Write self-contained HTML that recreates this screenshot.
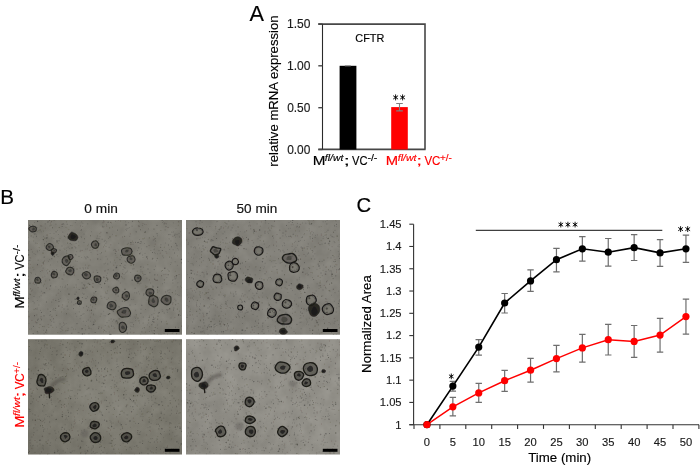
<!DOCTYPE html>
<html><head><meta charset="utf-8"><style>
html,body{margin:0;padding:0;background:#fff;width:700px;height:467px;overflow:hidden}
svg{display:block;filter:blur(0.3px)}
text{stroke-width:0.15px;stroke-linejoin:round}
</style></head><body>
<svg width="700" height="467" viewBox="0 0 700 467">
<rect width="700" height="467" fill="#fff"/>
<text x="249.60" y="21.20" font-size="21.5" font-family="Liberation Sans, sans-serif" fill="#000" stroke="#000" textLength="14.49" lengthAdjust="spacingAndGlyphs">A</text>
<text transform="translate(277.90,165.90) rotate(-90)" x="-0.76" y="0" font-size="13" font-family="Liberation Sans, sans-serif" fill="#000" stroke="#000" textLength="151.23" lengthAdjust="spacingAndGlyphs">relative mRNA expression</text>
<path d="M318.3,24.1 H425 V149.4 M318.3,149.4 H425.6" stroke="#474747" stroke-width="1.6" fill="none"/>
<path d="M322.5,24 V149.5" stroke="#2a2a2a" stroke-width="1.1" fill="none"/>
<path d="M318.3,24 H322.5" stroke="#474747" stroke-width="1.4"/>
<text x="286.95" y="28.10" font-size="12" font-family="Liberation Sans, sans-serif" fill="#1a1a1a" stroke="#1a1a1a" textLength="23.41" lengthAdjust="spacingAndGlyphs">1.50</text>
<path d="M318.3,65.8 H322.5" stroke="#474747" stroke-width="1.4"/>
<text x="286.95" y="69.90" font-size="12" font-family="Liberation Sans, sans-serif" fill="#1a1a1a" stroke="#1a1a1a" textLength="23.41" lengthAdjust="spacingAndGlyphs">1.00</text>
<path d="M318.3,107.7 H322.5" stroke="#474747" stroke-width="1.4"/>
<text x="287.20" y="111.80" font-size="12" font-family="Liberation Sans, sans-serif" fill="#1a1a1a" stroke="#1a1a1a" textLength="23.15" lengthAdjust="spacingAndGlyphs">0.50</text>
<path d="M318.3,149.5 H322.5" stroke="#474747" stroke-width="1.4"/>
<text x="287.20" y="153.60" font-size="12" font-family="Liberation Sans, sans-serif" fill="#1a1a1a" stroke="#1a1a1a" textLength="23.15" lengthAdjust="spacingAndGlyphs">0.00</text>
<rect x="339.6" y="65.8" width="16.8" height="83.7" fill="#000"/>
<rect x="391.2" y="107.1" width="16.6" height="42.4" fill="#ff0000"/>
<path d="M399.5,103.5 V110.9 M396.2,103.5 H402.8 M396.2,110.9 H402.8" stroke="#7f7f7f" stroke-width="1.1" fill="none"/>
<path d="M344.8,65.9 H350.8" stroke="#777" stroke-width="1"/>
<path d="M395.60,100.00 L395.60,94.80 M393.47,98.89 L397.73,95.91 M393.47,95.91 L397.73,98.89 " stroke="#000" stroke-width="0.9" stroke-linecap="round" fill="none"/><circle cx="395.6" cy="97.4" r="0.85" fill="#000"/>
<path d="M402.60,100.00 L402.60,94.80 M400.47,98.89 L404.73,95.91 M400.47,95.91 L404.73,98.89 " stroke="#000" stroke-width="0.9" stroke-linecap="round" fill="none"/><circle cx="402.6" cy="97.4" r="0.85" fill="#000"/>
<text x="355.33" y="42.00" font-size="11.5" font-family="Liberation Sans, sans-serif" fill="#000" stroke="#000" textLength="29.07" lengthAdjust="spacingAndGlyphs">CFTR</text>
<text x="312.79" y="164.60" font-size="12.6" font-family="Liberation Sans, sans-serif" fill="#000" stroke="#000" textLength="12.72" lengthAdjust="spacingAndGlyphs">M</text>
<text x="324.81" y="160.60" font-size="9" font-style="italic" font-family="Liberation Sans, sans-serif" fill="#000" stroke="#000" textLength="18.63" lengthAdjust="spacingAndGlyphs">fl/wt</text>
<text x="343.67" y="164.60" font-size="12.6" font-family="Liberation Sans, sans-serif" fill="#000" stroke="#000" textLength="6.07" lengthAdjust="spacingAndGlyphs">;</text>
<text x="352.00" y="164.60" font-size="12.6" font-family="Liberation Sans, sans-serif" fill="#000" stroke="#000" textLength="15.54" lengthAdjust="spacingAndGlyphs">VC</text>
<text x="367.41" y="160.50" font-size="9" font-family="Liberation Sans, sans-serif" fill="#000" stroke="#000" textLength="9.99" lengthAdjust="spacingAndGlyphs">-/-</text>
<text x="385.72" y="164.60" font-size="12.6" font-family="Liberation Sans, sans-serif" fill="#ff0000" stroke="#ff0000" textLength="12.35" lengthAdjust="spacingAndGlyphs">M</text>
<text x="397.71" y="160.60" font-size="9" font-style="italic" font-family="Liberation Sans, sans-serif" fill="#ff0000" stroke="#ff0000" textLength="18.82" lengthAdjust="spacingAndGlyphs">fl/wt</text>
<text x="416.47" y="164.60" font-size="12.6" font-family="Liberation Sans, sans-serif" fill="#ff0000" stroke="#ff0000" textLength="5.37" lengthAdjust="spacingAndGlyphs">;</text>
<text x="424.40" y="164.60" font-size="12.6" font-family="Liberation Sans, sans-serif" fill="#ff0000" stroke="#ff0000" textLength="16.06" lengthAdjust="spacingAndGlyphs">VC</text>
<text x="439.92" y="160.50" font-size="9" font-family="Liberation Sans, sans-serif" fill="#ff0000" stroke="#ff0000" textLength="11.87" lengthAdjust="spacingAndGlyphs">+/-</text>
<text x="0.17" y="204.00" font-size="20.3" font-family="Liberation Sans, sans-serif" fill="#000" stroke="#000" textLength="13.78" lengthAdjust="spacingAndGlyphs">B</text>
<text x="84.33" y="212.80" font-size="12" font-family="Liberation Sans, sans-serif" fill="#111" stroke="#111" textLength="33.45" lengthAdjust="spacingAndGlyphs">0 min</text>
<text x="236.53" y="212.80" font-size="12" font-family="Liberation Sans, sans-serif" fill="#111" stroke="#111" textLength="40.75" lengthAdjust="spacingAndGlyphs">50 min</text>
<text transform="translate(23.80,307.50) rotate(-90)" x="-1.20" y="0" font-size="12.6" font-family="Liberation Sans, sans-serif" fill="#000" stroke="#000" textLength="12.62" lengthAdjust="spacingAndGlyphs">M</text>
<text transform="translate(19.80,296.49) rotate(-90)" x="-0.29" y="0" font-size="9" font-style="italic" font-family="Liberation Sans, sans-serif" fill="#000" stroke="#000" textLength="18.48" lengthAdjust="spacingAndGlyphs">fl/wt</text>
<text transform="translate(23.80,276.35) rotate(-90)" x="-1.72" y="0" font-size="12.6" font-family="Liberation Sans, sans-serif" fill="#000" stroke="#000" textLength="6.02" lengthAdjust="spacingAndGlyphs">;</text>
<text transform="translate(23.80,269.80) rotate(-90)" x="-0.00" y="0" font-size="12.6" font-family="Liberation Sans, sans-serif" fill="#000" stroke="#000" textLength="15.42" lengthAdjust="spacingAndGlyphs">VC</text>
<text transform="translate(19.70,254.23) rotate(-90)" x="-0.29" y="0" font-size="9" font-family="Liberation Sans, sans-serif" fill="#000" stroke="#000" textLength="9.91" lengthAdjust="spacingAndGlyphs">-/-</text>
<text transform="translate(23.80,426.70) rotate(-90)" x="-1.17" y="0" font-size="12.6" font-family="Liberation Sans, sans-serif" fill="#ff0000" stroke="#ff0000" textLength="12.31" lengthAdjust="spacingAndGlyphs">M</text>
<text transform="translate(19.80,415.63) rotate(-90)" x="-0.29" y="0" font-size="9" font-style="italic" font-family="Liberation Sans, sans-serif" fill="#ff0000" stroke="#ff0000" textLength="18.77" lengthAdjust="spacingAndGlyphs">fl/wt</text>
<text transform="translate(23.80,395.70) rotate(-90)" x="-1.53" y="0" font-size="12.6" font-family="Liberation Sans, sans-serif" fill="#ff0000" stroke="#ff0000" textLength="5.35" lengthAdjust="spacingAndGlyphs">;</text>
<text transform="translate(23.80,389.32) rotate(-90)" x="-0.00" y="0" font-size="12.6" font-family="Liberation Sans, sans-serif" fill="#ff0000" stroke="#ff0000" textLength="16.01" lengthAdjust="spacingAndGlyphs">VC</text>
<text transform="translate(19.70,373.57) rotate(-90)" x="-0.27" y="0" font-size="9" font-family="Liberation Sans, sans-serif" fill="#ff0000" stroke="#ff0000" textLength="11.83" lengthAdjust="spacingAndGlyphs">+/-</text>
<defs><filter id="bl" x="-20%" y="-20%" width="140%" height="140%"><feGaussianBlur stdDeviation="0.55"/></filter><filter id="bl2" x="-50%" y="-50%" width="200%" height="200%"><feGaussianBlur stdDeviation="1.3"/></filter><filter id="mot" x="0" y="0" width="100%" height="100%" color-interpolation-filters="sRGB"><feTurbulence type="fractalNoise" baseFrequency="0.08" numOctaves="3" seed="9"/><feColorMatrix type="matrix" values="1.4 0 0 0 -0.2  1.4 0 0 0 -0.21  1.4 0 0 0 -0.25  0 0 0 0 0.06"/></filter></defs>
<defs><radialGradient id="vg0" cx="0.6" cy="0.45" r="0.75"><stop offset="0.5" stop-color="#2a2820" stop-opacity="0"/><stop offset="1" stop-color="#2a2820" stop-opacity="0.05"/></radialGradient><radialGradient id="vg1" cx="0.6" cy="0.4" r="0.75"><stop offset="0.5" stop-color="#2a2820" stop-opacity="0"/><stop offset="1" stop-color="#2a2820" stop-opacity="0.04"/></radialGradient><radialGradient id="vg2" cx="0.55" cy="0.45" r="0.7"><stop offset="0.3" stop-color="#fff" stop-opacity="0.05"/><stop offset="0.6" stop-color="#2a2820" stop-opacity="0"/><stop offset="1" stop-color="#2a2820" stop-opacity="0.12"/></radialGradient><linearGradient id="vg3" x1="0" y1="1" x2="1" y2="0"><stop offset="0" stop-color="#2a2820" stop-opacity="0.09"/><stop offset="0.5" stop-color="#2a2820" stop-opacity="0"/><stop offset="1" stop-color="#fff" stop-opacity="0.0"/></linearGradient></defs>
<rect x="28" y="220" width="154" height="114.69999999999999" fill="rgb(130, 128, 120)"/>
<g clip-path="url(#c0)">
<rect x="28" y="220" width="154" height="114.69999999999999" filter="url(#mot)"/>
<rect x="28" y="220" width="154" height="114.69999999999999" fill="url(#vg0)"/>
<g filter="url(#bl)">
<path d="M77.9 237.3h0 M128.2 228.3h0 M110.5 261.9h0 M36.9 278.2h0 M33.8 269.7h0 M38.8 230.4h0 M93.4 314.8h0 M47.1 245.6h0 M124.6 328.7h0 M116.9 265.5h0 M178.3 225.3h0 M160.2 253.2h0 M50.2 233.5h0 M75.5 313.6h0 M55.8 286.7h0 M126.4 262.7h0 M112.4 227.2h0 M37.2 243.6h0 M132.8 269.0h0 M76.4 287.2h0 M97.8 254.4h0 M150.3 300.2h0 M65.6 285.9h0 M108.9 320.4h0 M140.3 253.0h0 M178.9 233.5h0 M92.4 306.8h0 M51.4 276.1h0 M34.0 296.6h0 M145.7 285.7h0 M162.8 256.0h0 M135.1 288.2h0 M117.3 272.3h0 M157.4 328.4h0 M101.0 296.2h0 M37.3 300.5h0 M127.7 333.9h0 M154.6 252.6h0 M87.4 296.7h0 M31.5 273.0h0 M53.9 233.4h0 M37.1 308.1h0 M47.9 248.4h0 M88.2 320.0h0 M40.4 271.5h0 M112.6 321.3h0 M154.2 319.1h0 M70.9 267.6h0 M83.3 321.4h0 M175.5 237.3h0 M55.1 246.6h0 M63.9 275.6h0 M118.7 250.1h0 M28.6 268.1h0 M84.9 285.0h0 M174.8 299.2h0 M107.4 290.8h0 M132.1 226.2h0 M166.5 309.5h0 M162.7 311.5h0 M88.4 265.8h0 M43.9 292.8h0 M37.6 227.7h0 M60.1 238.6h0 M80.4 226.0h0 M28.0 237.4h0 M43.6 261.7h0 M31.9 320.3h0 M122.6 237.0h0 M66.8 259.8h0 M84.1 234.1h0 M158.7 333.9h0 M99.8 275.5h0 M41.2 231.7h0 M80.8 250.4h0 M155.6 238.5h0 M31.6 329.1h0 M109.4 236.8h0 M111.6 223.1h0 M109.3 332.2h0 M161.0 299.9h0 M68.2 262.1h0 M53.7 308.5h0 M110.0 309.4h0 M78.8 245.6h0 M153.0 333.0h0 M159.3 312.5h0 M154.0 304.9h0 M62.9 279.4h0 M82.8 223.3h0 M32.3 252.0h0 M67.9 299.4h0 M175.3 271.3h0 M172.3 333.3h0 M175.1 261.8h0 M62.0 246.0h0 M58.3 243.4h0 M124.1 323.3h0 M157.4 275.0h0 M128.6 311.7h0 M41.1 295.8h0 M168.1 309.7h0 M143.5 274.8h0 M55.5 310.5h0 M79.2 311.9h0 M177.6 265.4h0 M89.8 328.6h0 M139.6 239.5h0 M47.6 237.3h0 M167.3 312.5h0 M50.5 314.8h0 M179.0 295.4h0 M82.0 282.9h0 M48.2 221.6h0 M177.5 294.5h0 M109.1 327.1h0 M94.8 320.0h0 M155.2 244.2h0 M66.8 253.6h0 M65.0 287.3h0 M67.9 268.1h0 M48.2 324.4h0 M82.5 272.6h0 M117.8 323.7h0 M92.8 325.3h0 M105.3 281.0h0 M108.6 222.1h0 M95.8 241.0h0 M28.6 311.7h0 M54.5 274.3h0 M139.7 283.8h0 M78.2 279.5h0 M113.5 310.0h0 M44.3 284.3h0 M66.3 251.8h0 M146.9 278.2h0 M114.5 307.2h0 M168.5 270.8h0 M122.3 278.0h0 M106.9 299.5h0 M97.7 281.2h0 M101.6 328.0h0 M135.7 320.5h0 M173.1 249.8h0 M114.2 328.2h0 M157.4 235.7h0 M46.7 270.7h0 M39.2 247.6h0 M39.3 296.8h0 M148.7 322.9h0 M51.8 302.1h0 M129.7 236.4h0 M164.0 331.0h0 M61.8 329.3h0 M89.3 275.9h0 M180.4 315.5h0 M52.9 269.5h0 M107.4 258.9h0 M58.1 256.5h0 M139.2 222.2h0 M113.3 270.5h0 M30.8 258.0h0 M124.1 278.8h0 M37.9 333.0h0 M149.4 331.5h0 M44.1 250.5h0 M34.1 309.4h0 M69.6 234.9h0 M93.0 324.5h0 M154.1 249.7h0 M51.0 325.4h0 M115.9 300.3h0 M41.8 226.6h0 M134.0 268.8h0 M39.2 327.6h0 M125.7 311.9h0 M40.9 318.2h0 M38.3 319.0h0 M97.9 258.9h0 M113.2 326.3h0 M69.3 234.8h0 M109.1 247.3h0 M44.9 238.5h0 M35.8 243.1h0 M76.0 255.0h0 M145.0 253.3h0 M105.0 240.4h0 M81.4 222.1h0 M66.6 221.8h0 M140.9 283.2h0 M57.2 274.5h0 M171.9 232.2h0 M154.1 269.6h0 M104.2 315.7h0 M88.5 278.1h0 M133.9 332.7h0 M80.8 315.5h0 M136.8 292.9h0 M90.3 259.9h0 M36.4 234.9h0 M38.9 305.0h0 M67.4 238.7h0 M41.0 316.5h0 M162.1 296.9h0 M71.4 247.8h0 M73.1 272.7h0 M52.3 271.1h0 M68.5 330.3h0 M177.8 282.7h0 M65.6 330.8h0 M75.7 260.9h0 M28.2 263.8h0 M101.1 277.7h0 M59.0 277.9h0 M28.8 250.3h0 M41.8 265.8h0 M34.4 222.6h0 M74.9 246.7h0 M118.2 280.7h0 M143.6 295.4h0 M138.3 320.8h0 M88.0 257.4h0 M179.6 237.1h0 M139.5 293.8h0 M34.7 315.8h0 M165.4 292.0h0 M141.0 313.2h0 M49.5 280.1h0 M105.7 315.8h0 M151.9 314.8h0 M117.9 322.4h0 M133.2 299.5h0 M63.4 223.6h0 M48.5 261.4h0 M44.2 315.9h0 M114.0 292.0h0 M124.4 298.1h0 M103.4 220.4h0 M150.8 305.8h0 M105.5 281.4h0 M129.5 227.6h0 M141.5 248.9h0 M39.5 250.5h0 M140.3 243.5h0 M141.9 331.9h0 M104.1 263.9h0 M101.8 298.4h0 M146.1 290.8h0 M127.0 228.9h0 M50.7 249.1h0 M142.5 254.9h0 M115.4 221.4h0 M37.3 250.8h0 M131.5 299.4h0 M132.1 253.4h0 M107.5 273.3h0 M99.8 233.6h0 M165.6 242.9h0 M178.6 327.4h0 M30.7 272.6h0 M154.3 331.0h0 M97.2 250.8h0 M60.3 328.5h0 M60.4 286.7h0 M49.8 280.1h0 M174.7 235.2h0 M154.3 278.4h0 M164.6 300.7h0 M63.6 323.0h0 M102.9 222.8h0 M28.6 276.4h0 M97.4 254.6h0 M49.7 259.5h0 M76.7 316.4h0 M28.3 306.1h0 M157.2 233.8h0 M170.7 301.8h0 M166.8 253.2h0 M85.3 265.1h0 M181.8 287.6h0 M83.5 269.1h0 M70.4 225.5h0 M43.7 315.7h0 M72.0 327.3h0 M66.4 250.5h0 M106.7 241.8h0 M85.5 329.7h0 M164.2 313.1h0 M125.2 324.8h0 M172.9 283.0h0 M138.8 225.7h0 M140.8 271.7h0 M143.9 293.9h0 M72.1 225.6h0 M170.7 234.6h0 M100.7 259.4h0 M73.9 304.8h0 M178.3 249.8h0 M129.0 254.5h0 M113.8 265.2h0 M53.8 238.5h0 M60.0 323.9h0 M104.5 245.2h0 M167.6 334.3h0 M97.3 236.0h0 M57.6 230.4h0 M80.7 230.4h0 M64.8 249.6h0 M115.7 321.8h0 M143.4 267.3h0 M91.7 280.1h0 M86.0 258.8h0 M37.6 251.8h0 M177.0 234.4h0 M105.5 292.2h0 M160.9 244.8h0 M69.7 248.5h0 M89.6 271.1h0 M174.9 317.3h0 M162.4 222.5h0 M33.0 301.4h0 M165.9 274.3h0 M118.4 220.0h0 M88.3 326.3h0 M155.1 318.1h0 M177.7 248.5h0 M44.8 237.7h0 M108.4 298.2h0 M173.0 302.8h0 M127.7 307.7h0 M98.4 283.3h0 M34.1 309.7h0 M63.8 325.5h0 M127.4 254.8h0 M47.7 248.9h0 M126.0 300.1h0 M45.3 228.1h0 M108.8 286.9h0 M87.8 245.6h0 M120.6 221.2h0 M74.4 272.8h0 M175.7 293.9h0 M164.1 274.5h0 M64.2 248.3h0 M175.9 300.8h0 M75.3 222.5h0 M104.7 297.4h0 M92.7 249.5h0 M130.8 326.1h0 M62.9 223.9h0 M80.1 268.2h0 M133.1 242.7h0 M150.7 304.8h0 M105.8 243.5h0 M177.4 255.8h0 M154.3 246.5h0 M62.1 307.2h0 M73.4 329.2h0 M104.3 241.5h0 M62.4 267.8h0 M130.5 328.8h0 M50.5 265.1h0 M60.8 331.7h0 M49.9 225.9h0 M37.3 265.1h0 M166.3 321.3h0 M140.8 334.4h0 M171.5 257.8h0 M56.6 327.3h0 M142.9 223.7h0 M130.3 263.4h0 M85.6 258.0h0 M54.1 220.3h0 M71.1 260.3h0 M175.1 234.2h0 M176.5 243.8h0 M82.9 314.2h0 M154.6 269.6h0 M35.6 274.3h0 M85.4 325.5h0 M57.7 261.8h0 M166.1 223.5h0 M91.3 313.1h0 M146.1 224.7h0 M33.4 227.2h0 M169.7 249.5h0 M143.1 323.1h0 M80.2 251.2h0 M175.5 290.8h0 M68.4 302.2h0 M76.7 251.6h0 M28.6 306.7h0 M169.1 292.7h0 M173.3 222.8h0 M64.0 274.5h0 M175.3 329.4h0 M87.5 248.8h0 M94.2 276.6h0 M170.9 241.0h0 M151.6 304.7h0 M154.7 308.6h0 M121.5 257.6h0 M77.2 261.5h0 M148.5 229.1h0 M58.4 306.4h0 M66.1 227.4h0 M33.2 283.4h0 M78.2 332.4h0 M164.1 333.3h0 M68.8 229.6h0 M42.8 277.2h0 M137.3 271.3h0 M64.1 267.8h0 M123.5 297.3h0 M143.2 317.1h0 M130.3 233.9h0 M157.5 253.7h0 M115.3 262.8h0 M141.7 242.8h0 M66.1 248.1h0 M51.6 321.4h0 M117.1 257.4h0 M89.0 333.8h0 M106.1 246.5h0 M152.5 294.9h0 M180.6 231.7h0 M101.1 314.0h0 M157.4 324.9h0 M34.2 253.7h0 M46.4 241.7h0 M177.8 286.9h0 M171.2 262.7h0 M161.4 271.5h0 M68.0 309.2h0 M173.6 232.1h0 M119.8 291.1h0 M61.5 262.3h0 M49.8 243.4h0 M67.3 288.8h0 M128.4 243.3h0 M29.8 257.5h0 M132.5 241.2h0 M76.1 243.3h0 M150.5 282.9h0 M37.7 231.6h0 M88.9 283.1h0 M126.4 230.5h0 M53.2 299.8h0 M91.1 252.5h0 M75.4 329.3h0 M76.1 285.0h0 M83.0 267.8h0 M161.1 334.3h0 M84.0 242.6h0 M140.1 243.4h0 M28.9 323.4h0 M93.3 314.1h0 M90.6 321.3h0 M99.0 238.6h0 M30.3 283.3h0 M126.7 324.4h0 M41.7 291.4h0 M85.1 277.9h0 M50.5 252.5h0 M108.3 326.2h0 M44.8 276.3h0 M151.9 330.9h0 M58.4 234.5h0 M173.2 331.9h0 M102.3 226.1h0 M170.6 264.5h0 M167.3 291.2h0 M155.0 238.4h0 M149.0 245.5h0 M90.3 317.1h0 M155.7 241.0h0 M61.6 265.9h0 M107.8 264.0h0 M47.0 248.3h0 M139.6 322.9h0 M34.3 284.5h0 M144.6 224.4h0 M157.1 233.5h0 M120.3 283.1h0 M124.6 255.1h0 M92.7 286.8h0 M93.6 295.6h0 M96.8 270.3h0 M31.6 291.0h0 M103.4 247.0h0 M145.6 309.5h0 M98.6 240.6h0 M100.9 232.3h0 M47.8 269.4h0 M42.1 270.7h0 M106.6 224.7h0 M126.0 229.4h0 M141.0 309.2h0 M106.8 226.2h0 M105.6 263.3h0 M174.4 235.6h0 M160.0 334.3h0 M140.7 313.5h0 M57.8 332.6h0 M103.7 329.7h0 M169.1 238.9h0 M149.4 326.7h0 M38.1 260.2h0 M144.5 238.2h0 M166.1 251.5h0 M153.6 236.5h0 M105.3 325.5h0 M60.1 250.2h0 M105.9 256.6h0 M33.7 240.9h0 M52.8 327.4h0 M132.7 322.7h0 M54.0 310.0h0 M45.7 280.9h0 M126.0 261.3h0 M162.4 283.7h0 M117.3 321.2h0 M44.1 333.9h0 M125.0 265.2h0 M150.8 250.4h0 M180.5 286.2h0 M83.5 307.7h0 M96.1 240.3h0 M142.5 225.5h0 M154.3 249.1h0 M126.4 332.9h0 M118.2 296.1h0 M76.1 220.2h0 M33.2 237.1h0 M122.9 269.6h0 M107.0 322.7h0 M48.3 246.1h0 M128.6 222.6h0 M28.4 260.7h0 M44.4 261.0h0 M62.5 286.9h0 M118.7 243.4h0 M124.1 274.5h0 M48.8 327.4h0 M65.5 237.1h0 M42.8 293.2h0 M162.2 309.7h0 M89.9 250.3h0 M29.8 294.0h0 M114.6 260.2h0 M127.4 270.9h0 M172.3 304.1h0 M66.3 323.6h0 M34.8 281.0h0 M90.5 247.3h0 M37.0 309.3h0 M29.9 283.2h0 M172.9 236.3h0 M58.7 289.7h0 M106.1 293.6h0 M153.3 240.0h0 M75.6 254.4h0 M35.5 322.0h0 M148.6 302.1h0 M29.0 316.9h0 M142.8 273.4h0 M142.2 271.9h0 M62.8 232.1h0 M63.8 224.5h0 M79.7 306.0h0 M135.0 317.0h0 M137.6 250.5h0 M113.3 270.0h0 M149.4 280.0h0 M68.9 293.6h0 M176.6 244.9h0 M163.5 221.7h0 M68.1 247.1h0 M142.6 328.4h0 M142.9 257.5h0 M163.5 257.7h0 M64.8 324.1h0 M125.1 299.5h0 M130.4 332.3h0 M100.3 316.3h0 M135.4 318.4h0 M95.3 303.1h0 M115.8 255.3h0 M60.6 291.4h0 M40.0 324.5h0 M50.3 223.1h0 M44.4 326.6h0 M81.1 236.3h0 M32.4 224.8h0 M134.7 292.7h0 M135.3 304.5h0 M38.1 287.7h0 M84.0 313.8h0 M154.2 322.2h0 M38.2 319.5h0 M168.8 328.3h0 M44.5 243.6h0 M45.2 223.9h0 M158.5 313.1h0 M125.7 314.6h0 M125.3 253.0h0 M43.4 231.2h0 M144.6 243.5h0 M77.1 268.6h0 M31.2 249.4h0 M71.5 302.1h0 M84.7 256.8h0 M176.5 277.8h0 M159.1 290.9h0 M32.8 267.4h0 M95.2 308.7h0 M81.4 300.8h0 M110.8 244.8h0 M160.8 230.4h0 M154.3 239.5h0 M28.2 243.2h0 M145.4 332.2h0 M28.7 276.3h0 M103.7 311.4h0 M56.4 276.7h0 M81.5 315.4h0 M68.1 328.3h0 M71.7 244.6h0 M135.7 277.2h0 M44.9 293.0h0 M40.5 310.4h0 M135.4 310.3h0 M124.7 260.8h0 M89.8 265.3h0 M165.1 229.9h0 M164.8 222.9h0 M59.7 250.2h0 M166.8 277.5h0 M86.4 321.4h0 M64.0 272.9h0 M109.9 306.5h0 M144.0 294.1h0 M81.7 257.5h0 M51.9 316.7h0 M130.0 305.1h0 M54.1 270.3h0 M147.1 286.4h0 M47.4 273.0h0 M164.3 247.3h0 M57.5 254.6h0 M136.3 316.8h0 M51.8 237.9h0 M66.1 257.5h0 M108.4 238.5h0 M78.5 241.7h0 M178.2 303.6h0 M43.7 330.4h0 M43.7 264.1h0 M179.5 311.2h0 M140.9 269.9h0 M58.2 293.2h0 M44.5 243.7h0 M87.8 223.9h0 M89.4 310.7h0 M134.8 277.4h0 M125.4 273.1h0 M49.8 289.2h0 M90.3 305.0h0 M167.8 269.3h0 M116.4 305.9h0 M92.9 246.2h0 M139.2 320.9h0 M147.2 300.3h0 M159.3 297.9h0 M126.8 272.1h0 M76.2 292.1h0 M43.1 268.1h0 M148.5 301.8h0 M125.0 248.7h0 M93.2 272.2h0 M123.7 267.0h0 M132.0 326.7h0 M56.2 295.1h0 M147.8 264.6h0 M103.4 331.8h0 M33.9 282.3h0 M52.8 309.7h0 M172.9 279.6h0 M43.6 285.9h0 M111.3 302.3h0 M106.9 293.3h0 M155.7 279.8h0 M91.2 328.7h0 M60.4 298.5h0 M88.4 307.5h0 M46.8 332.9h0 M82.7 226.5h0 M70.3 265.8h0 M30.0 268.0h0 M92.8 300.1h0 M82.2 250.4h0 M62.6 305.0h0 M172.7 280.5h0 M61.7 311.9h0 M88.4 244.3h0 M47.9 309.1h0 M152.7 292.8h0 M100.3 284.5h0 M62.8 330.6h0 M82.4 293.3h0 M154.1 313.6h0 M100.1 253.8h0 M112.4 234.4h0 M156.4 260.7h0 M159.0 250.7h0 M85.9 249.1h0 M93.6 241.3h0 M28.4 302.8h0 M71.3 248.1h0 M74.5 275.0h0 M94.0 293.1h0 M129.5 261.6h0 M171.0 318.0h0 M36.8 315.0h0 M167.5 309.9h0 M49.6 315.4h0 M125.5 221.7h0 M29.8 329.2h0 M129.0 248.7h0 M43.6 236.4h0 M64.0 309.0h0 M81.4 237.5h0 M167.2 310.8h0 M53.9 322.2h0 M121.7 309.6h0 M130.9 322.5h0 M149.4 316.2h0 M58.4 299.5h0 M109.7 305.1h0 M95.5 321.2h0 M113.5 250.3h0 M64.1 236.0h0 M103.9 226.7h0 M99.9 236.6h0 M103.7 277.1h0 M111.1 319.0h0 M29.0 316.4h0 M100.1 284.5h0 M130.5 316.4h0 M85.7 268.0h0 M175.9 228.6h0 M126.1 293.0h0 M32.4 289.9h0 M133.1 326.8h0 M78.9 332.6h0 M106.6 275.6h0 M166.2 223.9h0 M138.6 291.7h0 M80.1 318.8h0 M84.4 274.4h0 M108.9 308.4h0 M60.5 269.9h0 M93.0 283.5h0 M155.3 253.6h0 M155.5 266.3h0 M105.6 251.2h0 M106.0 331.8h0 M128.8 310.8h0 M79.0 256.4h0 M74.1 287.3h0 M125.8 309.9h0 M34.2 302.9h0 M164.4 282.6h0 M35.7 254.5h0 M29.0 241.8h0 M169.9 289.8h0 M129.3 310.5h0 M168.1 290.2h0 M123.0 291.9h0 M135.2 288.4h0 M132.9 244.4h0 M130.7 272.5h0 M145.5 231.6h0 M55.9 224.2h0 M147.3 324.8h0 M129.0 262.3h0 M154.7 310.2h0 M114.6 249.6h0 M74.5 268.4h0 M77.0 269.4h0 M126.8 327.1h0 M36.4 285.1h0 M34.1 233.6h0 M152.8 286.0h0 M169.5 271.2h0 M30.2 264.4h0 M119.2 327.6h0 M179.0 274.5h0 M91.5 231.7h0 M127.3 244.3h0 " stroke="#2f2d29" stroke-width="0.7" stroke-linecap="round" opacity="0.32"/>
<path d="M51.4 221.8h0 M28.7 298.4h0 M46.7 330.8h0 M41.6 319.7h0 M47.9 222.0h0 M138.8 247.8h0 M141.0 241.5h0 M35.7 308.8h0 M137.9 318.1h0 M140.4 229.7h0 M124.8 301.3h0 M98.9 326.9h0 M67.1 330.6h0 M138.5 221.3h0 M30.3 294.6h0 M153.9 229.1h0 M75.9 303.7h0 M53.6 318.8h0 M102.9 226.9h0 M84.6 285.9h0 M95.6 297.6h0 M50.3 311.5h0 M83.9 294.0h0 M125.0 267.9h0 M87.4 310.2h0 M173.5 310.0h0 M115.3 253.5h0 M37.3 331.7h0 M136.3 314.9h0 M79.1 289.5h0 M178.5 315.3h0 M120.6 255.4h0 M94.0 321.9h0 M86.0 298.5h0 M120.7 322.8h0 M152.4 252.5h0 M28.3 250.2h0 M93.1 287.3h0 M153.7 321.8h0 M34.5 315.6h0 M153.0 319.5h0 M116.1 251.4h0 M159.1 312.6h0 M133.4 324.8h0 M81.4 229.8h0 M113.3 311.5h0 M58.9 306.0h0 M171.5 246.8h0 M121.5 297.7h0 M99.7 243.7h0 M67.2 306.2h0 M149.9 272.7h0 M41.5 312.5h0 M146.9 246.7h0 M117.3 322.9h0 M164.3 279.9h0 M101.4 287.6h0 M57.1 242.1h0 M55.8 300.4h0 M83.9 284.7h0 M90.0 279.3h0 M50.9 225.1h0 M181.6 262.9h0 M44.3 292.6h0 M149.3 237.9h0 M120.0 259.6h0 M108.0 222.4h0 M33.2 333.6h0 M161.4 275.8h0 M115.3 250.0h0 M148.0 268.9h0 M173.8 308.0h0 M154.1 330.5h0 M67.1 224.3h0 M59.0 240.7h0 M40.9 225.8h0 M113.8 319.9h0 M98.6 328.6h0 M168.1 227.4h0 M120.1 265.6h0 M46.5 330.0h0 M67.6 284.7h0 M126.7 329.7h0 M131.1 265.1h0 M97.0 238.3h0 M176.7 333.7h0 M62.1 224.4h0 M67.4 260.4h0 M167.0 323.8h0 M156.9 225.4h0 M149.1 301.4h0 M127.6 333.0h0 M36.6 236.6h0 M144.3 327.7h0 M132.2 254.3h0 M119.1 306.9h0 M44.2 257.2h0 M67.6 234.2h0 M102.1 239.3h0 M64.7 236.4h0 M132.4 221.4h0 M138.5 242.4h0 M33.5 326.4h0 M62.0 327.1h0 M161.5 321.9h0 M49.5 271.3h0 M42.9 326.5h0 M157.7 292.1h0 M97.7 259.0h0 M154.8 274.8h0 M124.7 236.4h0 M62.1 226.5h0 M137.9 283.5h0 M50.3 319.9h0 M69.0 267.2h0 M52.0 251.1h0 M157.3 258.4h0 M53.8 276.3h0 M77.0 323.6h0 M45.6 332.2h0 M36.8 322.7h0 M130.9 244.2h0 M101.5 252.8h0 M67.7 243.1h0 M84.1 333.7h0 M181.7 326.1h0 M43.0 253.2h0 M166.0 226.6h0 M139.9 253.7h0 M178.7 221.8h0 M152.3 259.1h0 M49.6 220.2h0 M156.2 280.4h0 M56.6 269.9h0 M168.4 245.0h0 M116.0 235.8h0 M55.7 308.4h0 M137.6 242.6h0 M40.2 230.0h0 M121.7 276.8h0 M70.2 243.6h0 M122.3 301.2h0 M153.0 286.9h0 M59.2 227.5h0 M140.8 266.8h0 M139.1 226.4h0 M152.8 258.4h0 M157.7 319.2h0 M103.9 221.8h0 M168.2 274.7h0 M162.3 250.5h0 M56.7 315.4h0 M84.5 238.8h0 M85.2 288.2h0 M28.7 279.6h0 M96.6 279.1h0 M46.6 302.0h0 M153.7 319.3h0 M77.4 301.6h0 M86.7 306.2h0 M37.4 320.1h0 M174.9 276.8h0 M107.1 280.8h0 M110.7 222.4h0 M177.0 245.7h0 M56.1 231.8h0 M66.6 313.7h0 M32.6 231.1h0 M135.6 242.4h0 M30.7 288.8h0 M116.8 280.0h0 M136.2 231.8h0 M161.9 302.3h0 M35.0 234.1h0 M104.0 277.4h0 M71.1 234.0h0 M90.5 235.7h0 M119.1 318.8h0 M50.7 285.7h0 M143.0 238.8h0 M155.2 327.5h0 M87.9 268.2h0 M157.3 280.3h0 M88.9 328.0h0 M147.6 258.8h0 M65.0 258.4h0 M95.1 332.5h0 M151.9 324.7h0 M153.5 317.2h0 M36.2 279.3h0 M175.5 327.2h0 M66.4 268.4h0 M125.4 261.8h0 M109.7 227.9h0 M94.7 277.9h0 M31.2 236.0h0 M177.3 309.1h0 M172.3 292.6h0 M152.6 321.4h0 M164.2 223.9h0 M126.8 250.5h0 M132.5 251.4h0 M111.5 326.0h0 M123.7 248.7h0 M108.1 269.7h0 M174.4 253.0h0 M75.0 294.3h0 M46.5 288.2h0 M175.2 278.9h0 M69.3 273.5h0 M110.2 237.0h0 M47.1 235.1h0 M73.2 266.6h0 M72.4 247.9h0 M41.5 282.7h0 M157.3 290.0h0 M115.8 294.6h0 M59.0 301.5h0 M99.0 282.9h0 M122.4 273.8h0 M75.8 247.8h0 M62.1 278.8h0 M87.0 287.2h0 M29.8 260.4h0 M160.7 247.4h0 M113.7 276.4h0 M71.9 333.3h0 M73.5 308.6h0 M52.4 227.7h0 M162.2 270.5h0 M37.6 264.5h0 M95.7 304.4h0 M44.8 245.8h0 M175.7 304.7h0 M51.8 258.7h0 M82.3 297.5h0 M122.9 317.5h0 M154.5 279.4h0 M141.8 305.3h0 M145.0 274.5h0 M148.9 301.3h0 M168.9 234.6h0 M162.1 220.5h0 M145.9 287.2h0 M104.7 330.4h0 M116.1 267.9h0 M148.7 320.1h0 M121.5 263.5h0 M97.7 272.5h0 M139.4 253.6h0 M88.2 283.7h0 M87.2 256.9h0 M149.2 317.4h0 M104.9 270.9h0 M56.4 254.9h0 M50.3 286.0h0 M117.6 230.1h0 M169.7 257.1h0 M157.9 316.1h0 M175.6 243.4h0 " stroke="#2f2d29" stroke-width="1.0" stroke-linecap="round" opacity="0.45"/>
<path d="M93.7 324.4h0 M29.6 225.4h0 M115.0 277.0h0 M169.7 308.7h0 M110.9 334.5h0 M107.7 279.3h0 M133.5 264.7h0 M83.1 288.2h0 M82.1 328.7h0 M132.2 280.2h0 M43.2 262.9h0 M89.7 284.4h0 M116.4 320.9h0 M176.5 275.8h0 M95.8 291.6h0 M181.4 259.4h0 M109.6 313.6h0 M54.3 256.5h0 M178.7 314.7h0 M106.9 232.7h0 M165.8 299.1h0 M154.4 333.6h0 M164.8 268.3h0 M52.1 253.3h0 M106.8 277.9h0 M57.0 240.9h0 M125.0 289.2h0 M82.4 334.0h0 M126.0 224.9h0 M91.4 310.3h0 M75.2 299.2h0 M28.6 254.9h0 M157.7 287.2h0 M130.9 242.6h0 M104.7 283.5h0 M69.0 294.2h0 M109.8 334.4h0 M116.5 267.2h0 M46.7 238.0h0 M145.0 232.2h0 M43.4 239.6h0 M108.5 314.4h0 M122.4 312.5h0 M37.6 221.4h0 M146.7 257.0h0 " stroke="#2f2d29" stroke-width="1.4" stroke-linecap="round" opacity="0.5"/>
<path d="M35.7,231.0 C35.2,231.4 34.4,231.7 33.7,231.8 C33.0,232.0 32.1,232.0 31.5,231.7 C30.9,231.5 30.3,231.0 29.9,230.5 C29.5,230.0 28.8,229.4 28.8,228.8 C28.8,228.2 29.4,227.5 30.0,227.1 C30.5,226.7 31.3,226.4 32.1,226.3 C32.8,226.1 33.7,226.1 34.4,226.4 C35.0,226.6 35.8,227.1 36.1,227.6 C36.4,228.1 36.4,228.8 36.3,229.3 C36.3,229.9 36.1,230.6 35.7,231.0 Z" fill="#34322d" fill-opacity="0.42" stroke="#1c1b18" stroke-opacity="0.8" stroke-width="1.1"/>
<path d="M34.3,230.2 C33.9,230.4 33.2,230.6 32.9,230.5 C32.5,230.4 32.2,229.9 32.1,229.6 C32.0,229.3 32.2,229.1 32.4,228.8 C32.5,228.4 32.7,227.7 33.0,227.6 C33.4,227.5 34.4,227.8 34.7,228.1 C35.0,228.3 34.9,228.9 34.8,229.3 C34.7,229.6 34.6,230.0 34.3,230.2 Z" fill="#151412" fill-opacity="0.4"/>
<path d="M76.2,240.5 C75.4,241.0 74.0,240.8 73.0,240.7 C72.0,240.6 70.9,240.6 70.0,240.1 C69.2,239.5 68.0,238.4 67.9,237.5 C67.8,236.6 68.7,235.5 69.3,234.6 C69.9,233.7 70.6,232.4 71.4,232.2 C72.3,231.9 73.7,232.8 74.6,233.3 C75.5,233.7 76.4,234.1 76.9,234.9 C77.4,235.6 78.0,236.8 77.9,237.7 C77.7,238.6 77.0,240.0 76.2,240.5 Z" fill="#1e1d1a" fill-opacity="0.9" stroke="#1e1d1a" stroke-opacity="0.5" stroke-width="0.9"/>
<path d="M74.4,238.4 C73.8,238.8 72.8,239.3 72.3,239.2 C71.7,239.1 71.1,238.1 70.9,237.5 C70.7,237.0 70.7,236.3 70.9,235.8 C71.2,235.3 71.7,234.7 72.3,234.5 C72.8,234.4 73.5,234.7 74.1,235.1 C74.7,235.4 75.8,236.0 75.9,236.5 C75.9,237.1 75.0,237.9 74.4,238.4 Z" fill="#141311" fill-opacity="0.6"/>
<path d="M53.4,248.1 C53.2,248.7 52.4,249.2 51.8,249.6 C51.2,250.0 50.5,250.5 49.8,250.5 C49.1,250.6 48.2,250.2 47.6,249.8 C47.0,249.4 46.4,248.8 46.2,248.2 C46.0,247.6 46.1,246.8 46.4,246.2 C46.6,245.6 47.0,245.1 47.6,244.6 C48.1,244.1 48.9,243.5 49.6,243.5 C50.3,243.4 51.2,244.0 51.8,244.4 C52.4,244.8 52.8,245.4 53.1,246.0 C53.4,246.6 53.6,247.5 53.4,248.1 Z" fill="#34322d" fill-opacity="0.42" stroke="#1c1b18" stroke-opacity="0.8" stroke-width="1.1"/>
<path d="M50.4,247.1 C50.4,247.4 50.4,248.1 50.1,248.3 C49.8,248.4 49.0,248.2 48.7,248.0 C48.4,247.8 48.2,247.4 48.1,247.1 C48.0,246.7 47.7,246.0 47.9,245.8 C48.2,245.6 48.9,245.7 49.3,245.8 C49.8,245.8 50.2,245.9 50.4,246.1 C50.6,246.3 50.5,246.7 50.4,247.1 Z" fill="#151412" fill-opacity="0.4"/>
<path d="M55.5,252.3 C55.2,252.6 54.7,252.9 54.2,253.0 C53.7,253.1 53.0,253.0 52.5,252.8 C52.1,252.6 51.5,252.2 51.4,251.8 C51.2,251.3 51.4,250.8 51.5,250.4 C51.7,250.0 51.9,249.5 52.2,249.2 C52.6,248.9 53.1,248.6 53.6,248.5 C54.1,248.5 54.7,248.7 55.2,248.9 C55.6,249.2 56.3,249.4 56.5,249.8 C56.7,250.2 56.5,250.8 56.3,251.2 C56.1,251.6 55.9,252.0 55.5,252.3 Z" fill="#34322d" fill-opacity="0.42" stroke="#1c1b18" stroke-opacity="0.8" stroke-width="1.1"/>
<path d="M55.5,251.0 C55.4,251.2 55.1,251.3 54.8,251.5 C54.5,251.6 54.1,251.8 53.9,251.7 C53.7,251.7 53.6,251.3 53.5,251.0 C53.4,250.7 53.2,250.3 53.4,250.1 C53.5,249.9 54.1,249.8 54.4,249.8 C54.8,249.9 55.1,250.1 55.2,250.3 C55.4,250.5 55.5,250.8 55.5,251.0 Z" fill="#151412" fill-opacity="0.4"/>
<path d="M54.2,254.1 C54.1,254.4 53.7,254.6 53.4,254.9 C53.2,255.2 52.8,255.7 52.5,255.6 C52.2,255.6 51.9,255.0 51.6,254.7 C51.4,254.4 51.1,254.1 51.0,253.8 C50.9,253.4 51.1,252.9 51.3,252.6 C51.5,252.3 51.9,252.1 52.2,252.0 C52.5,251.9 53.0,251.7 53.3,251.8 C53.6,251.9 53.8,252.5 54.0,252.8 C54.1,253.2 54.3,253.7 54.2,254.1 Z" fill="#1e1d1a" fill-opacity="0.9" stroke="#1e1d1a" stroke-opacity="0.5" stroke-width="0.9"/>
<path d="M53.5,254.0 C53.5,254.1 53.2,254.3 53.0,254.4 C52.8,254.5 52.6,254.5 52.4,254.4 C52.2,254.3 51.8,254.1 51.7,253.8 C51.7,253.6 52.0,253.3 52.2,253.0 C52.4,252.8 52.6,252.6 52.8,252.6 C53.0,252.6 53.2,253.0 53.3,253.2 C53.5,253.5 53.6,253.8 53.5,254.0 Z" fill="#141311" fill-opacity="0.6"/>
<path d="M98.1,246.6 C97.7,247.2 97.1,247.9 96.4,248.1 C95.7,248.4 94.8,248.4 94.1,248.1 C93.4,247.9 92.8,247.4 92.3,246.8 C91.9,246.3 91.4,245.5 91.4,244.8 C91.3,244.2 91.6,243.3 92.0,242.7 C92.4,242.1 93.0,241.7 93.7,241.3 C94.4,241.0 95.3,240.6 96.0,240.8 C96.7,240.9 97.3,241.7 97.8,242.3 C98.3,242.9 98.7,243.6 98.7,244.4 C98.8,245.1 98.5,245.9 98.1,246.6 Z" fill="#34322d" fill-opacity="0.42" stroke="#1c1b18" stroke-opacity="0.8" stroke-width="1.1"/>
<path d="M96.7,246.4 C96.4,246.6 95.6,246.3 95.2,246.1 C94.8,246.0 94.4,245.8 94.3,245.5 C94.1,245.3 94.3,244.8 94.5,244.4 C94.6,244.1 94.7,243.4 95.1,243.2 C95.4,243.1 96.3,243.3 96.6,243.5 C96.9,243.8 96.9,244.4 96.9,244.9 C97.0,245.4 97.0,246.2 96.7,246.4 Z" fill="#151412" fill-opacity="0.4"/>
<path d="M131.5,253.2 C131.1,253.9 130.2,254.7 129.3,255.1 C128.4,255.4 127.2,255.3 126.1,255.3 C125.0,255.2 123.6,255.2 122.9,254.7 C122.2,254.2 121.9,253.1 121.7,252.3 C121.5,251.5 121.3,250.5 121.7,249.9 C122.1,249.2 123.2,248.6 124.1,248.3 C125.0,247.9 126.0,247.8 127.1,247.8 C128.1,247.8 129.5,247.8 130.3,248.3 C131.1,248.7 131.7,249.8 131.9,250.6 C132.1,251.4 131.9,252.4 131.5,253.2 Z" fill="#34322d" fill-opacity="0.42" stroke="#1c1b18" stroke-opacity="0.8" stroke-width="1.1"/>
<path d="M128.6,251.0 C128.5,251.4 128.3,251.8 127.9,252.1 C127.5,252.3 126.8,252.5 126.4,252.4 C125.9,252.3 125.1,251.9 125.0,251.6 C124.8,251.2 125.2,250.7 125.5,250.4 C125.7,250.0 126.0,249.6 126.5,249.5 C127.0,249.4 128.1,249.3 128.4,249.6 C128.8,249.8 128.7,250.6 128.6,251.0 Z" fill="#151412" fill-opacity="0.4"/>
<path d="M135.0,260.1 C134.8,260.9 134.2,261.7 133.7,262.2 C133.1,262.7 132.3,263.3 131.5,263.3 C130.8,263.4 129.9,263.0 129.3,262.6 C128.6,262.2 128.0,261.7 127.6,261.0 C127.3,260.4 127.0,259.4 127.1,258.7 C127.3,258.0 127.9,257.2 128.5,256.7 C129.0,256.3 129.8,256.2 130.5,256.0 C131.3,255.9 132.2,255.6 132.9,255.8 C133.6,256.1 134.3,256.9 134.6,257.7 C135.0,258.4 135.2,259.4 135.0,260.1 Z" fill="#34322d" fill-opacity="0.42" stroke="#1c1b18" stroke-opacity="0.8" stroke-width="1.1"/>
<path d="M131.9,260.1 C131.5,260.3 130.9,260.1 130.5,260.0 C130.1,259.9 129.7,259.8 129.6,259.5 C129.4,259.2 129.5,258.8 129.6,258.4 C129.7,258.0 129.9,257.1 130.2,257.0 C130.6,256.9 131.1,257.5 131.5,257.8 C131.9,258.1 132.7,258.4 132.7,258.8 C132.8,259.2 132.2,259.9 131.9,260.1 Z" fill="#151412" fill-opacity="0.4"/>
<path d="M68.8,263.7 C68.2,264.4 67.6,265.4 67.0,265.6 C66.3,265.8 65.3,265.4 64.6,265.0 C63.9,264.6 63.1,264.0 62.7,263.1 C62.3,262.3 62.0,261.0 62.2,260.1 C62.3,259.2 63.0,258.2 63.5,257.6 C64.1,257.0 64.8,256.6 65.5,256.4 C66.3,256.1 67.3,255.6 67.9,256.0 C68.6,256.3 69.1,257.5 69.5,258.4 C69.9,259.3 70.4,260.4 70.3,261.3 C70.2,262.2 69.3,263.0 68.8,263.7 Z" fill="#34322d" fill-opacity="0.42" stroke="#1c1b18" stroke-opacity="0.8" stroke-width="1.1"/>
<path d="M67.6,262.6 C67.2,262.9 66.6,263.1 66.2,262.9 C65.8,262.8 65.6,262.2 65.4,261.7 C65.2,261.3 64.7,260.6 64.8,260.1 C64.9,259.7 65.6,259.3 66.0,259.1 C66.4,259.0 66.9,259.0 67.3,259.3 C67.8,259.6 68.4,260.3 68.4,260.8 C68.5,261.4 68.0,262.2 67.6,262.6 Z" fill="#151412" fill-opacity="0.4"/>
<path d="M73.1,257.3 C73.0,257.8 72.5,258.1 72.2,258.5 C71.8,258.9 71.5,259.3 71.1,259.5 C70.6,259.6 69.9,259.5 69.5,259.3 C69.1,259.1 68.8,258.5 68.6,258.1 C68.4,257.7 68.2,257.2 68.2,256.7 C68.2,256.2 68.4,255.6 68.7,255.2 C69.0,254.8 69.7,254.6 70.1,254.6 C70.6,254.5 71.2,254.6 71.6,254.8 C72.0,255.0 72.4,255.5 72.6,255.9 C72.8,256.3 73.2,256.9 73.1,257.3 Z" fill="#34322d" fill-opacity="0.42" stroke="#1c1b18" stroke-opacity="0.8" stroke-width="1.1"/>
<path d="M70.8,257.2 C70.7,257.4 70.5,257.6 70.3,257.7 C70.1,257.7 69.8,257.6 69.6,257.5 C69.4,257.3 69.0,257.1 68.9,256.9 C68.9,256.6 69.1,256.1 69.3,256.0 C69.6,255.8 70.0,255.9 70.2,256.0 C70.5,256.1 70.7,256.2 70.8,256.4 C70.9,256.6 70.9,257.0 70.8,257.2 Z" fill="#151412" fill-opacity="0.4"/>
<path d="M73.3,272.9 C73.0,273.6 72.4,274.5 71.7,274.8 C71.0,275.1 69.9,274.8 69.1,274.6 C68.4,274.4 67.7,274.0 67.1,273.5 C66.5,272.9 65.7,272.2 65.6,271.5 C65.6,270.8 66.2,269.9 66.7,269.3 C67.1,268.6 67.6,267.8 68.2,267.5 C68.9,267.2 69.9,267.3 70.7,267.4 C71.5,267.5 72.5,267.7 73.0,268.3 C73.6,268.8 73.9,269.8 73.9,270.6 C74.0,271.3 73.7,272.2 73.3,272.9 Z" fill="#34322d" fill-opacity="0.42" stroke="#1c1b18" stroke-opacity="0.8" stroke-width="1.1"/>
<path d="M71.6,271.6 C71.4,272.0 70.7,272.1 70.2,272.2 C69.7,272.2 69.0,272.1 68.7,271.8 C68.4,271.4 68.1,270.6 68.2,270.2 C68.4,269.8 69.2,269.6 69.6,269.5 C70.1,269.4 70.5,269.2 70.8,269.3 C71.2,269.5 71.6,269.9 71.7,270.3 C71.8,270.7 71.9,271.3 71.6,271.6 Z" fill="#151412" fill-opacity="0.4"/>
<path d="M57.3,275.3 C57.2,275.9 57.0,276.6 56.5,277.0 C56.1,277.4 55.4,277.7 54.7,277.8 C54.1,277.9 53.2,278.0 52.7,277.7 C52.1,277.4 51.6,276.6 51.4,276.0 C51.2,275.4 51.3,274.7 51.4,274.1 C51.6,273.5 51.8,272.8 52.3,272.3 C52.7,271.9 53.4,271.5 54.0,271.4 C54.7,271.4 55.5,271.6 56.0,271.9 C56.5,272.2 57.0,272.9 57.2,273.4 C57.4,274.0 57.5,274.7 57.3,275.3 Z" fill="#34322d" fill-opacity="0.42" stroke="#1c1b18" stroke-opacity="0.8" stroke-width="1.1"/>
<path d="M54.8,275.4 C54.5,275.6 54.0,275.2 53.6,275.1 C53.2,275.0 52.6,275.0 52.4,274.7 C52.2,274.3 52.1,273.5 52.4,273.2 C52.6,272.9 53.3,272.7 53.7,272.7 C54.1,272.7 54.4,273.1 54.6,273.3 C54.9,273.6 55.2,273.9 55.3,274.2 C55.3,274.6 55.0,275.3 54.8,275.4 Z" fill="#151412" fill-opacity="0.4"/>
<path d="M40.5,281.6 C40.2,282.1 39.9,282.8 39.4,283.0 C38.9,283.3 38.2,283.1 37.6,283.1 C37.0,283.0 36.1,283.1 35.7,282.8 C35.2,282.4 35.0,281.6 34.9,281.0 C34.8,280.4 34.9,279.7 35.1,279.1 C35.3,278.5 35.8,277.8 36.3,277.6 C36.8,277.3 37.7,277.2 38.3,277.3 C38.9,277.5 39.4,277.9 39.8,278.3 C40.2,278.7 40.6,279.3 40.7,279.9 C40.8,280.4 40.7,281.1 40.5,281.6 Z" fill="#34322d" fill-opacity="0.42" stroke="#1c1b18" stroke-opacity="0.8" stroke-width="1.1"/>
<path d="M38.6,280.9 C38.4,281.1 37.7,281.0 37.4,280.9 C37.0,280.8 36.8,280.6 36.6,280.4 C36.4,280.1 36.1,279.7 36.2,279.4 C36.2,279.1 36.6,278.6 36.9,278.4 C37.3,278.3 38.0,278.3 38.3,278.5 C38.5,278.7 38.4,279.3 38.5,279.7 C38.5,280.1 38.7,280.7 38.6,280.9 Z" fill="#151412" fill-opacity="0.4"/>
<path d="M89.4,277.9 C88.8,278.4 87.9,278.9 87.1,278.9 C86.3,279.0 85.3,278.7 84.6,278.3 C84.0,277.9 83.5,277.3 83.1,276.7 C82.7,276.1 82.1,275.3 82.2,274.6 C82.3,273.9 83.1,273.2 83.7,272.7 C84.3,272.3 85.0,271.9 85.8,271.7 C86.5,271.6 87.6,271.6 88.2,272.0 C88.9,272.3 89.5,273.0 89.9,273.6 C90.3,274.2 90.7,275.1 90.6,275.8 C90.5,276.5 90.0,277.4 89.4,277.9 Z" fill="#34322d" fill-opacity="0.42" stroke="#1c1b18" stroke-opacity="0.8" stroke-width="1.1"/>
<path d="M87.6,275.5 C87.4,275.9 86.8,276.4 86.3,276.4 C85.8,276.5 85.1,276.2 84.7,275.8 C84.4,275.5 84.0,274.9 84.0,274.4 C84.1,274.0 84.5,273.2 85.0,273.0 C85.4,272.8 86.2,273.0 86.6,273.2 C87.1,273.4 87.5,273.8 87.7,274.2 C87.8,274.5 87.8,275.1 87.6,275.5 Z" fill="#151412" fill-opacity="0.4"/>
<path d="M100.8,279.6 C100.7,280.3 100.5,281.2 100.0,281.6 C99.5,282.1 98.7,282.1 98.0,282.3 C97.3,282.4 96.4,282.6 95.8,282.3 C95.3,282.1 94.9,281.2 94.6,280.6 C94.3,280.0 94.0,279.3 94.1,278.6 C94.1,277.9 94.3,276.8 94.8,276.4 C95.3,276.0 96.3,275.9 97.0,275.9 C97.7,275.9 98.3,276.0 98.9,276.3 C99.5,276.5 100.3,277.0 100.6,277.5 C100.9,278.1 100.9,278.9 100.8,279.6 Z" fill="#34322d" fill-opacity="0.42" stroke="#1c1b18" stroke-opacity="0.8" stroke-width="1.1"/>
<path d="M98.9,279.4 C98.9,279.8 98.6,280.5 98.2,280.8 C97.9,281.0 97.1,281.2 96.7,281.0 C96.3,280.9 96.0,280.3 95.9,280.0 C95.7,279.6 95.8,279.2 96.0,278.8 C96.1,278.4 96.4,277.9 96.8,277.8 C97.1,277.7 97.7,277.9 98.1,278.2 C98.4,278.5 98.9,278.9 98.9,279.4 Z" fill="#151412" fill-opacity="0.4"/>
<path d="M119.3,277.1 C119.1,277.6 118.7,278.2 118.2,278.5 C117.7,278.8 117.0,279.0 116.4,279.0 C115.8,278.9 115.0,278.7 114.6,278.3 C114.1,277.9 113.6,277.2 113.5,276.6 C113.5,276.0 113.9,275.3 114.1,274.8 C114.4,274.2 114.8,273.7 115.3,273.4 C115.7,273.1 116.4,272.9 117.0,273.0 C117.6,273.0 118.3,273.3 118.7,273.6 C119.2,274.0 119.4,274.7 119.5,275.3 C119.6,275.9 119.6,276.6 119.3,277.1 Z" fill="#34322d" fill-opacity="0.42" stroke="#1c1b18" stroke-opacity="0.8" stroke-width="1.1"/>
<path d="M117.5,275.8 C117.4,276.2 117.2,276.8 116.9,276.9 C116.6,277.1 115.9,277.0 115.5,276.7 C115.2,276.5 114.9,276.0 114.8,275.6 C114.8,275.2 114.9,274.6 115.2,274.3 C115.5,274.0 116.1,273.7 116.5,273.8 C116.9,273.9 117.3,274.3 117.5,274.7 C117.6,275.0 117.6,275.4 117.5,275.8 Z" fill="#151412" fill-opacity="0.4"/>
<path d="M140.0,280.6 C139.5,281.0 139.0,281.7 138.3,281.8 C137.7,281.9 136.8,281.7 136.3,281.4 C135.7,281.0 135.3,280.4 135.0,279.8 C134.8,279.2 134.5,278.5 134.6,277.8 C134.7,277.1 134.9,276.2 135.4,275.8 C135.9,275.3 136.8,275.2 137.5,275.1 C138.2,275.1 139.0,275.1 139.5,275.4 C140.1,275.7 140.5,276.4 140.8,277.0 C141.0,277.6 141.2,278.4 141.0,279.0 C140.9,279.6 140.4,280.1 140.0,280.6 Z" fill="#34322d" fill-opacity="0.42" stroke="#1c1b18" stroke-opacity="0.8" stroke-width="1.1"/>
<path d="M139.9,278.1 C139.8,278.5 139.3,278.9 139.0,279.0 C138.7,279.1 138.3,278.9 137.9,278.8 C137.6,278.7 137.0,278.5 136.9,278.2 C136.8,277.9 137.1,277.4 137.3,277.1 C137.6,276.8 138.0,276.4 138.3,276.4 C138.6,276.4 139.1,276.7 139.4,277.0 C139.6,277.3 139.9,277.8 139.9,278.1 Z" fill="#151412" fill-opacity="0.4"/>
<path d="M118.6,291.7 C118.4,292.2 117.7,292.7 117.2,292.9 C116.6,293.1 116.0,293.0 115.4,292.9 C114.9,292.8 114.3,292.5 113.9,292.1 C113.5,291.7 112.9,291.1 112.8,290.5 C112.7,290.0 113.0,289.1 113.4,288.7 C113.7,288.2 114.3,287.9 114.9,287.7 C115.4,287.4 116.1,287.0 116.7,287.1 C117.2,287.2 117.8,287.8 118.1,288.3 C118.5,288.8 118.7,289.4 118.7,289.9 C118.8,290.5 118.9,291.2 118.6,291.7 Z" fill="#34322d" fill-opacity="0.42" stroke="#1c1b18" stroke-opacity="0.8" stroke-width="1.1"/>
<path d="M117.2,290.5 C117.1,290.7 116.6,290.9 116.2,290.9 C115.9,291.0 115.4,291.1 115.2,290.9 C115.0,290.7 115.1,290.2 115.1,289.9 C115.1,289.5 115.1,289.1 115.3,288.9 C115.5,288.7 116.1,288.5 116.4,288.6 C116.7,288.7 116.8,289.2 116.9,289.5 C117.0,289.8 117.3,290.3 117.2,290.5 Z" fill="#151412" fill-opacity="0.4"/>
<path d="M129.2,297.4 C129.0,298.1 128.5,298.8 128.0,299.3 C127.4,299.8 126.5,300.2 125.7,300.2 C125.0,300.1 124.2,299.5 123.6,298.9 C123.1,298.4 122.5,297.6 122.3,296.8 C122.2,296.0 122.2,294.9 122.5,294.2 C122.9,293.5 123.7,293.2 124.4,292.7 C125.0,292.3 125.8,291.5 126.5,291.5 C127.2,291.5 128.2,292.2 128.7,292.8 C129.1,293.4 129.3,294.3 129.4,295.1 C129.5,295.9 129.5,296.7 129.2,297.4 Z" fill="#34322d" fill-opacity="0.42" stroke="#1c1b18" stroke-opacity="0.8" stroke-width="1.1"/>
<path d="M128.5,296.1 C128.4,296.5 127.7,297.1 127.3,297.3 C126.8,297.5 126.1,297.8 125.8,297.6 C125.5,297.4 125.5,296.6 125.3,296.1 C125.2,295.6 124.8,294.9 125.0,294.6 C125.2,294.4 126.0,294.5 126.4,294.5 C126.8,294.6 127.1,294.6 127.5,294.8 C127.8,295.1 128.5,295.7 128.5,296.1 Z" fill="#151412" fill-opacity="0.4"/>
<path d="M153.4,293.9 C153.1,294.7 152.8,295.6 152.2,296.0 C151.6,296.3 150.6,296.3 149.8,296.3 C149.0,296.2 148.2,296.0 147.6,295.5 C146.9,295.1 146.2,294.4 146.0,293.7 C145.8,293.0 146.0,292.1 146.3,291.3 C146.6,290.6 147.0,289.7 147.7,289.3 C148.3,288.8 149.4,288.8 150.2,288.8 C151.1,288.9 152.1,289.1 152.7,289.5 C153.3,290.0 153.8,291.0 153.9,291.7 C154.0,292.5 153.7,293.2 153.4,293.9 Z" fill="#34322d" fill-opacity="0.42" stroke="#1c1b18" stroke-opacity="0.8" stroke-width="1.1"/>
<path d="M152.4,293.5 C152.3,293.8 151.7,294.2 151.2,294.4 C150.8,294.6 150.2,295.0 149.8,294.9 C149.3,294.7 148.9,294.1 148.7,293.6 C148.6,293.2 148.6,292.3 148.9,292.0 C149.1,291.8 150.0,291.9 150.4,291.9 C150.9,291.9 151.3,291.9 151.7,292.2 C152.0,292.4 152.5,293.1 152.4,293.5 Z" fill="#151412" fill-opacity="0.4"/>
<path d="M157.1,305.2 C156.4,306.1 155.2,306.8 154.2,306.9 C153.3,307.0 152.3,306.3 151.4,305.8 C150.5,305.3 149.4,304.8 148.9,303.9 C148.5,303.0 148.7,301.6 148.8,300.4 C148.9,299.3 149.1,298.0 149.6,297.1 C150.2,296.2 151.3,295.1 152.2,295.0 C153.1,294.8 154.1,295.6 155.0,296.1 C155.9,296.6 157.2,297.0 157.7,297.9 C158.2,298.8 158.2,300.4 158.1,301.7 C158.0,302.9 157.7,304.4 157.1,305.2 Z" fill="#34322d" fill-opacity="0.42" stroke="#1c1b18" stroke-opacity="0.8" stroke-width="1.1"/>
<path d="M155.1,301.9 C154.9,302.5 153.9,303.1 153.4,303.1 C152.9,303.2 152.3,302.5 151.9,302.1 C151.6,301.7 151.5,301.1 151.5,300.6 C151.5,300.1 151.6,299.6 151.9,299.2 C152.3,298.7 153.0,297.7 153.4,297.8 C153.8,297.9 154.1,299.1 154.4,299.8 C154.7,300.4 155.3,301.3 155.1,301.9 Z" fill="#151412" fill-opacity="0.4"/>
<path d="M170.6,302.4 C170.1,303.1 169.3,304.1 168.5,304.4 C167.6,304.8 166.3,304.6 165.3,304.4 C164.4,304.1 163.7,303.5 163.0,302.8 C162.3,302.1 161.3,301.3 161.1,300.5 C161.0,299.6 161.6,298.5 162.2,297.7 C162.8,296.9 163.6,296.2 164.5,295.8 C165.5,295.4 166.7,295.3 167.8,295.5 C168.8,295.7 170.1,296.2 170.7,296.9 C171.2,297.7 171.0,298.9 171.0,299.8 C171.0,300.7 171.0,301.6 170.6,302.4 Z" fill="#34322d" fill-opacity="0.42" stroke="#1c1b18" stroke-opacity="0.8" stroke-width="1.1"/>
<path d="M168.6,300.8 C168.3,301.3 167.3,301.9 166.7,301.9 C166.2,301.9 165.7,301.1 165.3,300.7 C165.0,300.3 164.7,300.1 164.6,299.6 C164.5,299.1 164.5,298.2 164.9,297.8 C165.2,297.5 166.4,297.5 166.9,297.7 C167.5,297.9 167.9,298.5 168.1,299.0 C168.4,299.5 168.8,300.3 168.6,300.8 Z" fill="#151412" fill-opacity="0.4"/>
<path d="M96.3,301.1 C96.0,301.6 95.7,302.4 95.2,302.7 C94.8,302.9 93.9,302.8 93.3,302.7 C92.7,302.6 91.9,302.5 91.5,302.1 C91.1,301.7 90.8,300.9 90.8,300.3 C90.7,299.7 91.1,299.1 91.4,298.5 C91.6,298.0 92.0,297.5 92.5,297.2 C93.0,297.0 93.7,297.0 94.3,297.0 C94.9,297.1 95.7,297.1 96.1,297.5 C96.5,297.9 96.8,298.7 96.8,299.3 C96.8,299.9 96.5,300.5 96.3,301.1 Z" fill="#34322d" fill-opacity="0.42" stroke="#1c1b18" stroke-opacity="0.8" stroke-width="1.1"/>
<path d="M94.4,299.8 C94.3,300.1 94.0,300.6 93.7,300.7 C93.4,300.7 92.9,300.6 92.6,300.4 C92.3,300.2 92.1,299.8 92.1,299.5 C92.1,299.2 92.4,299.0 92.6,298.8 C92.9,298.5 93.2,298.1 93.4,298.1 C93.7,298.1 94.1,298.5 94.2,298.8 C94.4,299.1 94.5,299.5 94.4,299.8 Z" fill="#151412" fill-opacity="0.4"/>
<path d="M81.3,302.6 C81.3,303.1 81.3,303.6 81.0,303.9 C80.8,304.2 80.2,304.3 79.8,304.3 C79.4,304.4 79.1,304.4 78.7,304.4 C78.3,304.3 77.8,304.1 77.6,303.8 C77.4,303.5 77.4,302.9 77.4,302.6 C77.4,302.2 77.6,301.8 77.8,301.4 C78.0,301.1 78.4,300.8 78.7,300.7 C79.1,300.6 79.6,300.7 79.9,300.8 C80.3,300.9 80.7,301.1 81.0,301.4 C81.2,301.7 81.3,302.2 81.3,302.6 Z" fill="#34322d" fill-opacity="0.42" stroke="#1c1b18" stroke-opacity="0.8" stroke-width="1.1"/>
<path d="M79.7,303.7 C79.5,303.8 79.3,304.0 79.1,304.0 C78.9,303.9 78.5,303.7 78.4,303.5 C78.3,303.3 78.3,302.8 78.5,302.6 C78.6,302.4 79.0,302.2 79.2,302.2 C79.5,302.2 79.8,302.3 80.0,302.5 C80.1,302.7 80.3,303.0 80.2,303.2 C80.2,303.4 79.9,303.5 79.7,303.7 Z" fill="#151412" fill-opacity="0.4"/>
<path d="M79.1,298.8 C79.0,299.1 78.9,299.5 78.7,299.7 C78.5,299.8 78.0,299.9 77.7,299.8 C77.4,299.8 77.0,299.6 76.8,299.4 C76.6,299.1 76.6,298.7 76.6,298.4 C76.7,298.1 76.9,297.8 77.1,297.6 C77.3,297.4 77.5,297.1 77.8,297.0 C78.0,296.9 78.5,297.0 78.7,297.2 C79.0,297.3 79.2,297.7 79.2,298.0 C79.3,298.2 79.2,298.5 79.1,298.8 Z" fill="#1e1d1a" fill-opacity="0.9" stroke="#1e1d1a" stroke-opacity="0.5" stroke-width="0.9"/>
<path d="M78.7,298.6 C78.6,298.7 78.4,298.8 78.2,298.8 C78.0,298.8 77.8,298.8 77.7,298.7 C77.6,298.6 77.5,298.4 77.5,298.2 C77.5,298.0 77.5,297.6 77.7,297.5 C77.8,297.4 78.2,297.5 78.4,297.6 C78.5,297.7 78.7,297.9 78.8,298.0 C78.8,298.2 78.8,298.5 78.7,298.6 Z" fill="#141311" fill-opacity="0.6"/>
<path d="M115.9,306.8 C115.8,307.6 115.2,308.5 114.6,309.0 C114.0,309.5 112.9,309.8 112.1,309.8 C111.3,309.8 110.4,309.5 109.7,309.1 C108.9,308.7 107.7,308.3 107.3,307.5 C107.0,306.8 107.2,305.6 107.5,304.8 C107.7,303.9 108.3,303.1 108.9,302.5 C109.6,302.0 110.6,301.5 111.5,301.5 C112.3,301.4 113.4,301.8 114.1,302.3 C114.8,302.8 115.4,303.5 115.7,304.3 C116.0,305.0 116.1,306.0 115.9,306.8 Z" fill="#34322d" fill-opacity="0.42" stroke="#1c1b18" stroke-opacity="0.8" stroke-width="1.1"/>
<path d="M113.3,306.2 C113.2,306.6 112.5,307.1 112.0,307.3 C111.4,307.5 110.5,307.8 110.1,307.5 C109.7,307.3 109.7,306.4 109.6,305.8 C109.5,305.2 109.2,304.4 109.6,304.0 C109.9,303.7 111.0,303.5 111.4,303.7 C111.9,303.8 112.1,304.4 112.5,304.8 C112.8,305.2 113.4,305.8 113.3,306.2 Z" fill="#151412" fill-opacity="0.4"/>
<path d="M130.6,313.3 C130.5,314.2 130.0,315.6 129.0,316.2 C128.1,316.8 126.3,316.9 125.0,317.0 C123.6,317.1 122.0,317.3 120.9,316.9 C119.8,316.4 118.9,315.4 118.3,314.5 C117.7,313.6 117.0,312.4 117.2,311.5 C117.5,310.6 119.0,309.9 120.0,309.2 C121.0,308.6 122.0,307.9 123.2,307.7 C124.5,307.4 126.3,307.4 127.4,307.8 C128.5,308.3 129.2,309.5 129.7,310.4 C130.2,311.3 130.7,312.3 130.6,313.3 Z" fill="#34322d" fill-opacity="0.42" stroke="#1c1b18" stroke-opacity="0.8" stroke-width="1.1"/>
<path d="M126.1,312.1 C126.0,312.7 125.8,313.6 125.3,313.8 C124.8,314.0 123.6,313.6 122.9,313.4 C122.3,313.1 121.5,312.8 121.3,312.4 C121.2,311.9 121.6,311.3 122.0,310.9 C122.4,310.4 122.9,309.8 123.6,309.7 C124.4,309.6 125.9,309.8 126.3,310.2 C126.7,310.6 126.3,311.5 126.1,312.1 Z" fill="#151412" fill-opacity="0.4"/>
<path d="M125.9,329.9 C125.5,330.7 124.9,331.6 124.1,332.0 C123.4,332.4 122.2,332.5 121.5,332.2 C120.7,331.8 119.9,330.8 119.6,330.0 C119.2,329.2 119.2,328.1 119.2,327.1 C119.2,326.1 119.1,324.9 119.5,324.1 C119.9,323.3 120.9,322.5 121.7,322.3 C122.4,322.0 123.5,322.4 124.2,322.8 C124.9,323.2 125.5,323.9 125.9,324.7 C126.4,325.4 126.7,326.4 126.6,327.3 C126.6,328.2 126.3,329.1 125.9,329.9 Z" fill="#34322d" fill-opacity="0.42" stroke="#1c1b18" stroke-opacity="0.8" stroke-width="1.1"/>
<path d="M124.6,329.2 C124.3,329.5 123.5,329.4 123.0,329.3 C122.5,329.3 122.1,329.2 121.8,328.8 C121.5,328.5 121.0,327.7 121.0,327.2 C121.1,326.7 121.7,325.9 122.1,325.7 C122.5,325.5 123.1,325.7 123.6,325.9 C124.0,326.1 124.6,326.5 124.7,327.1 C124.9,327.6 124.9,328.8 124.6,329.2 Z" fill="#151412" fill-opacity="0.4"/>
</g>
<rect x="164.8" y="329.0" width="14.7" height="3" fill="#000"/>
</g>
<rect x="186" y="220" width="154" height="114.69999999999999" fill="rgb(132, 130, 123)"/>
<g clip-path="url(#c1)">
<rect x="186" y="220" width="154" height="114.69999999999999" filter="url(#mot)"/>
<rect x="186" y="220" width="154" height="114.69999999999999" fill="url(#vg1)"/>
<g filter="url(#bl)">
<path d="M238.0 226.6h0 M249.8 225.2h0 M282.5 258.4h0 M262.1 288.6h0 M225.6 273.1h0 M188.1 326.1h0 M272.9 333.3h0 M194.6 290.4h0 M297.5 257.8h0 M200.4 237.9h0 M208.0 308.0h0 M199.8 313.4h0 M251.2 281.8h0 M276.6 283.7h0 M287.2 289.0h0 M236.9 305.0h0 M225.7 301.6h0 M303.5 309.0h0 M233.6 308.6h0 M336.5 272.0h0 M228.9 280.0h0 M330.9 235.1h0 M187.4 274.6h0 M286.9 308.8h0 M241.8 333.5h0 M221.1 306.8h0 M199.8 223.2h0 M206.7 226.9h0 M263.3 283.7h0 M214.0 327.8h0 M242.3 237.1h0 M213.3 304.6h0 M327.9 238.6h0 M190.5 309.2h0 M223.4 332.7h0 M262.8 293.0h0 M239.0 311.8h0 M256.9 257.1h0 M325.1 232.4h0 M298.9 227.5h0 M285.4 266.1h0 M319.1 226.9h0 M272.9 267.0h0 M327.5 328.4h0 M282.6 245.7h0 M224.8 250.1h0 M252.8 246.5h0 M217.3 307.1h0 M285.0 254.2h0 M339.1 244.8h0 M273.7 238.0h0 M318.9 319.7h0 M227.2 306.2h0 M312.7 252.4h0 M237.1 275.7h0 M323.2 238.5h0 M291.1 288.5h0 M255.8 286.4h0 M322.0 244.1h0 M322.1 261.3h0 M306.1 319.0h0 M214.1 319.1h0 M339.2 254.1h0 M189.8 232.8h0 M336.0 221.1h0 M326.4 237.3h0 M299.3 231.2h0 M212.0 298.3h0 M199.9 258.9h0 M327.4 302.2h0 M321.8 332.4h0 M191.1 246.9h0 M308.0 299.1h0 M191.8 277.9h0 M221.7 269.4h0 M202.1 222.3h0 M338.6 256.3h0 M321.3 233.8h0 M261.1 235.6h0 M252.0 240.5h0 M291.6 237.0h0 M299.7 277.4h0 M203.3 260.6h0 M262.4 325.4h0 M239.8 244.7h0 M335.0 321.3h0 M298.6 251.3h0 M213.3 250.4h0 M196.6 225.0h0 M264.3 266.8h0 M271.7 261.6h0 M187.6 298.9h0 M286.6 282.4h0 M270.5 299.2h0 M337.3 320.3h0 M296.5 265.8h0 M235.0 268.1h0 M335.8 264.4h0 M245.4 267.0h0 M208.0 334.5h0 M186.8 289.7h0 M328.6 249.2h0 M280.1 263.2h0 M223.1 242.8h0 M203.9 316.7h0 M306.7 324.2h0 M193.6 299.6h0 M236.0 294.1h0 M270.5 256.2h0 M335.6 220.1h0 M300.9 317.9h0 M264.6 287.9h0 M339.2 246.9h0 M282.9 305.3h0 M244.3 301.7h0 M246.6 280.4h0 M280.4 297.7h0 M235.6 292.1h0 M269.6 245.6h0 M280.3 250.4h0 M325.9 274.3h0 M297.1 279.9h0 M259.4 245.4h0 M207.9 326.4h0 M267.4 280.1h0 M267.2 313.3h0 M222.8 239.8h0 M312.6 272.8h0 M284.6 314.9h0 M323.7 319.5h0 M192.7 263.7h0 M314.1 313.8h0 M204.9 237.6h0 M224.7 231.8h0 M240.9 312.1h0 M266.3 271.9h0 M199.6 265.4h0 M339.5 299.7h0 M255.2 274.9h0 M308.9 307.0h0 M209.1 298.0h0 M242.5 279.7h0 M222.6 262.5h0 M238.4 263.7h0 M188.7 243.0h0 M273.9 226.6h0 M213.5 302.4h0 M228.3 257.2h0 M223.2 315.7h0 M200.1 293.0h0 M318.3 243.1h0 M251.2 310.9h0 M281.2 262.6h0 M192.8 270.8h0 M242.5 301.7h0 M231.5 266.8h0 M285.8 313.0h0 M240.3 264.2h0 M275.1 326.1h0 M215.5 331.4h0 M295.6 262.7h0 M288.5 257.8h0 M196.9 306.7h0 M244.4 280.3h0 M262.5 323.4h0 M302.6 222.9h0 M277.3 273.1h0 M257.2 316.3h0 M249.9 274.3h0 M323.1 270.4h0 M261.7 278.7h0 M313.0 296.9h0 M300.0 266.1h0 M192.3 298.0h0 M271.3 308.2h0 M304.6 233.5h0 M220.0 228.8h0 M311.9 231.7h0 M199.6 306.4h0 M272.9 226.3h0 M290.9 301.6h0 M260.3 226.3h0 M292.4 267.9h0 M275.9 334.5h0 M311.8 320.0h0 M208.4 258.3h0 M265.8 220.7h0 M338.3 251.5h0 M226.4 255.9h0 M225.3 318.5h0 M271.6 278.6h0 M250.7 225.9h0 M232.9 319.4h0 M309.5 318.3h0 M225.6 243.2h0 M194.0 281.6h0 M243.6 273.2h0 M261.3 287.0h0 M242.3 311.9h0 M216.8 325.5h0 M271.6 225.9h0 M234.4 281.1h0 M249.0 284.8h0 M235.8 251.4h0 M308.6 253.4h0 M295.4 312.0h0 M277.2 272.1h0 M330.0 271.0h0 M321.2 226.6h0 M252.8 293.3h0 M193.5 318.9h0 M197.1 288.4h0 M213.7 325.8h0 M272.4 311.8h0 M262.7 297.3h0 M289.9 253.8h0 M218.5 316.2h0 M208.4 325.3h0 M217.9 231.6h0 M200.7 310.0h0 M332.4 267.6h0 M287.5 249.5h0 M325.5 298.7h0 M209.8 226.5h0 M293.1 224.8h0 M314.8 253.7h0 M221.8 286.8h0 M235.1 284.3h0 M209.7 324.6h0 M236.0 316.5h0 M209.4 311.7h0 M336.9 264.9h0 M191.1 263.6h0 M284.7 245.6h0 M270.0 230.7h0 M257.5 303.5h0 M252.2 297.9h0 M203.6 315.0h0 M204.8 325.9h0 M339.4 327.8h0 M267.1 253.4h0 M239.6 306.1h0 M262.5 326.7h0 M200.3 275.6h0 M319.1 288.6h0 M269.3 230.1h0 M207.5 251.1h0 M323.5 317.0h0 M221.0 326.1h0 M191.0 288.7h0 M335.0 259.5h0 M331.4 295.3h0 M193.7 258.2h0 M255.2 248.4h0 M300.3 240.5h0 M307.3 254.2h0 M196.7 284.1h0 M200.7 283.3h0 M307.4 288.3h0 M257.1 223.9h0 M265.1 231.2h0 M285.6 235.1h0 M275.0 260.5h0 M243.7 296.1h0 M211.2 239.5h0 M331.0 258.0h0 M315.7 320.2h0 M260.0 237.1h0 M200.5 320.8h0 M204.0 276.9h0 M268.5 233.5h0 M258.0 238.8h0 M268.5 278.1h0 M242.5 242.7h0 M248.2 243.3h0 M205.6 247.5h0 M320.2 277.6h0 M323.2 221.7h0 M331.3 276.0h0 M307.8 285.4h0 M292.1 246.3h0 M301.5 237.6h0 M226.7 223.5h0 M246.6 279.4h0 M231.0 322.1h0 M199.0 286.4h0 M222.0 288.3h0 M306.7 301.5h0 M195.6 248.2h0 M278.3 332.7h0 M192.3 290.9h0 M292.5 313.4h0 M238.7 313.0h0 M257.1 325.6h0 M187.7 327.9h0 M249.4 266.7h0 M199.6 248.1h0 M299.0 297.9h0 M209.3 259.5h0 M207.6 242.7h0 M219.8 258.0h0 M336.3 334.4h0 M307.9 275.0h0 M262.6 309.4h0 M325.8 306.2h0 M284.0 242.8h0 M282.3 317.0h0 M307.1 230.6h0 M296.5 260.1h0 M211.0 330.8h0 M289.6 305.5h0 M206.8 315.0h0 M330.3 323.8h0 M300.7 315.5h0 M309.5 287.7h0 M253.0 314.6h0 M306.8 319.9h0 M232.0 330.2h0 M267.9 328.5h0 M203.8 331.1h0 M307.3 248.9h0 M315.1 246.6h0 M216.5 272.5h0 M222.4 276.5h0 M325.9 298.6h0 M295.4 265.0h0 M306.7 311.0h0 M291.2 328.0h0 M313.2 266.6h0 M199.4 294.8h0 M314.8 259.0h0 M277.6 315.9h0 M308.1 220.5h0 M261.3 221.9h0 M203.0 313.2h0 M250.5 289.4h0 M256.5 258.5h0 M218.9 260.6h0 M316.1 291.0h0 M231.0 230.1h0 M227.7 300.4h0 M254.1 295.8h0 M310.3 233.8h0 M291.2 224.8h0 M312.7 241.1h0 M227.8 329.8h0 M241.8 245.7h0 M323.0 290.0h0 M323.7 265.2h0 M263.0 329.6h0 M264.0 333.4h0 M215.2 315.3h0 M211.0 280.5h0 M186.1 240.1h0 M331.5 272.1h0 M310.6 248.8h0 M240.3 231.6h0 M271.1 318.9h0 M265.1 263.2h0 M329.0 322.5h0 M288.6 228.7h0 M282.1 270.9h0 M333.5 261.5h0 M287.8 292.5h0 M243.9 279.9h0 M290.2 324.1h0 M262.7 261.7h0 M336.3 226.5h0 M314.6 298.4h0 M271.8 271.4h0 M301.7 322.2h0 M298.2 306.0h0 M191.4 257.3h0 M207.1 329.3h0 M323.3 236.6h0 M276.5 286.2h0 M193.2 265.0h0 M301.1 293.6h0 M229.3 307.5h0 M230.8 282.4h0 M250.8 332.2h0 M285.9 312.3h0 M290.2 263.6h0 M334.3 301.4h0 M292.4 251.8h0 M210.9 286.0h0 M313.2 311.0h0 M239.5 236.0h0 M265.5 320.6h0 M211.0 304.7h0 M212.3 255.8h0 M194.2 254.1h0 M245.0 330.9h0 M334.2 241.5h0 M233.6 328.2h0 M216.4 256.8h0 M253.5 232.4h0 M226.1 265.2h0 M245.4 330.5h0 M227.1 243.4h0 M326.0 271.6h0 M314.9 293.1h0 M305.9 256.1h0 M209.4 306.8h0 M258.4 284.1h0 M289.3 306.3h0 M228.4 261.6h0 M327.3 280.7h0 M230.4 292.3h0 M226.0 308.5h0 M192.4 314.8h0 M273.2 260.6h0 M330.7 250.5h0 M223.5 228.0h0 M270.5 306.5h0 M290.4 267.3h0 M310.4 232.8h0 M233.3 294.0h0 M335.0 292.7h0 M292.6 308.8h0 M246.8 327.9h0 M300.3 259.2h0 M246.5 312.4h0 M239.9 241.3h0 M320.2 281.0h0 M266.3 296.8h0 M324.8 235.3h0 M238.2 227.6h0 M249.6 277.6h0 M317.2 296.6h0 M275.0 266.3h0 M274.4 251.4h0 M316.1 310.4h0 M315.1 237.3h0 M289.4 306.5h0 M263.1 323.0h0 M324.4 305.2h0 M312.4 294.4h0 M321.3 235.1h0 M294.4 300.7h0 M280.3 251.6h0 M196.4 289.2h0 M312.9 251.3h0 M218.8 245.7h0 M200.5 297.5h0 M336.1 312.0h0 M241.4 300.2h0 M197.1 316.2h0 M236.1 220.4h0 M282.9 235.9h0 M228.4 226.8h0 M254.6 283.6h0 M310.3 224.5h0 M313.4 232.7h0 M220.6 292.2h0 M238.4 258.0h0 M273.5 245.0h0 M308.2 244.0h0 M315.3 312.8h0 M268.7 223.5h0 M305.8 223.3h0 M263.7 268.6h0 M195.7 292.3h0 M297.6 287.1h0 M247.6 278.7h0 M276.7 246.0h0 M319.6 334.2h0 M309.8 330.3h0 M236.7 333.1h0 M197.0 274.8h0 M206.6 272.1h0 M291.1 301.3h0 M256.0 259.2h0 M215.2 266.2h0 M229.5 242.3h0 M299.3 279.2h0 M253.5 242.7h0 M294.4 242.6h0 M226.9 284.3h0 M294.0 331.6h0 M301.1 328.8h0 M327.7 302.9h0 M296.8 227.2h0 M217.7 221.5h0 M319.0 302.8h0 M283.0 250.3h0 M240.7 238.8h0 M283.4 333.7h0 M233.1 225.1h0 M213.0 260.7h0 M324.4 312.3h0 M256.1 231.7h0 M202.4 237.6h0 M305.7 274.1h0 M338.5 324.6h0 M308.4 274.6h0 M312.6 234.7h0 M202.8 284.6h0 M264.2 244.0h0 M224.8 222.4h0 M326.0 301.5h0 M331.6 332.5h0 M253.3 304.0h0 M245.2 313.1h0 M315.6 235.4h0 M188.0 244.5h0 M276.1 263.5h0 M187.4 315.2h0 M307.1 273.2h0 M192.7 322.0h0 M268.3 228.1h0 M235.8 291.6h0 M322.3 275.6h0 M284.5 243.6h0 M223.5 323.9h0 M244.9 231.9h0 M277.0 234.5h0 M216.8 272.3h0 M276.2 293.0h0 M294.9 270.4h0 M196.4 303.1h0 M194.3 274.0h0 M247.6 297.2h0 M295.9 247.5h0 M286.0 299.4h0 M258.6 236.3h0 M326.0 288.7h0 M195.7 247.4h0 M338.0 246.2h0 M246.4 310.4h0 M312.9 292.7h0 M300.2 224.4h0 M200.4 332.0h0 M309.6 224.4h0 M193.5 247.6h0 M329.3 245.2h0 M289.5 326.7h0 M284.4 325.4h0 M226.5 237.6h0 M188.8 306.8h0 M202.0 331.6h0 M295.3 241.4h0 M310.3 238.7h0 M264.9 232.1h0 M307.2 322.0h0 M327.1 220.3h0 M317.1 283.8h0 M312.5 277.6h0 M281.5 288.2h0 M309.1 228.9h0 M194.4 282.6h0 M230.8 265.5h0 M187.2 305.5h0 M189.7 315.2h0 M311.0 272.5h0 M204.8 294.6h0 M217.9 269.2h0 M203.0 332.0h0 M270.1 260.4h0 M200.5 303.8h0 M316.9 317.3h0 M201.6 262.2h0 M232.6 307.4h0 M208.8 289.6h0 M336.7 308.2h0 M187.1 228.6h0 M203.5 299.4h0 M278.2 279.7h0 M256.2 266.7h0 M280.1 294.4h0 M327.1 304.0h0 M308.7 324.7h0 M314.9 302.2h0 M190.7 298.1h0 M316.9 269.4h0 M321.2 240.6h0 M331.2 270.7h0 M294.8 249.0h0 M232.3 260.0h0 M236.0 230.9h0 M254.2 332.5h0 M286.7 326.9h0 M303.4 316.0h0 M339.1 306.3h0 M228.2 248.6h0 M249.5 222.4h0 M221.5 321.7h0 M327.8 257.7h0 M304.6 308.9h0 M323.0 311.1h0 M267.9 232.0h0 M313.1 256.0h0 M282.6 262.1h0 M268.7 330.8h0 M210.8 280.9h0 M286.1 281.8h0 M330.4 266.7h0 M326.7 299.1h0 M335.0 230.3h0 M218.7 253.0h0 M325.6 221.6h0 M226.1 302.1h0 M338.4 240.2h0 M253.5 298.8h0 M292.4 305.6h0 M302.0 248.5h0 M225.6 223.2h0 M292.4 244.0h0 M226.0 330.6h0 M285.1 287.8h0 M287.0 288.6h0 M293.0 254.9h0 M195.8 227.7h0 M188.2 261.5h0 M207.9 232.9h0 M262.0 331.2h0 M291.9 251.4h0 M304.5 240.4h0 M201.4 254.8h0 M249.0 299.1h0 M254.5 303.5h0 M200.6 326.9h0 M238.7 315.5h0 M190.7 315.1h0 M220.8 318.1h0 M309.6 296.9h0 M228.8 221.1h0 M215.3 323.8h0 M210.3 295.6h0 M276.4 295.8h0 M213.8 236.5h0 M201.0 332.7h0 M245.0 294.8h0 M273.7 245.6h0 M196.0 221.7h0 M317.3 234.9h0 M334.3 261.7h0 M297.3 235.9h0 M307.3 248.9h0 M242.4 280.0h0 M203.2 248.5h0 M308.6 252.7h0 M244.6 307.7h0 M220.5 242.2h0 M219.7 264.1h0 M242.3 293.6h0 M258.7 319.8h0 M193.8 296.1h0 M314.8 246.9h0 M190.5 270.3h0 M203.8 272.8h0 M295.6 230.8h0 M204.1 275.0h0 M212.8 246.5h0 M253.8 233.6h0 M196.5 261.4h0 M258.3 327.4h0 M271.4 228.2h0 M220.3 305.4h0 M272.7 319.8h0 M334.2 318.4h0 M202.9 328.2h0 M266.8 247.5h0 M212.3 319.2h0 M218.7 229.5h0 M226.9 326.0h0 M257.0 303.9h0 M197.5 272.0h0 M234.9 243.6h0 M288.1 261.4h0 M204.4 332.9h0 M260.2 240.6h0 M187.7 294.9h0 M265.3 222.8h0 M258.4 304.9h0 M268.7 246.8h0 M262.8 289.4h0 M286.3 236.6h0 M309.8 328.5h0 M300.0 318.3h0 M242.6 323.5h0 M214.0 246.0h0 M278.1 323.4h0 M198.6 244.9h0 M191.5 270.4h0 M207.6 242.0h0 M301.3 286.9h0 M330.7 266.1h0 M290.6 221.4h0 M332.1 246.7h0 M259.5 278.7h0 M332.0 276.4h0 M338.7 291.3h0 M219.3 315.7h0 M217.1 334.7h0 M256.3 246.0h0 M334.0 256.9h0 M248.7 259.4h0 M289.0 222.6h0 M243.6 238.6h0 M313.5 220.0h0 M279.6 249.6h0 M255.9 284.4h0 M295.6 235.8h0 M223.0 233.8h0 M333.9 237.1h0 M207.1 279.9h0 M275.5 321.7h0 M194.8 246.9h0 M211.8 287.2h0 M255.7 266.9h0 M322.8 295.9h0 M318.5 329.8h0 M227.4 328.0h0 M248.8 225.9h0 M326.9 231.9h0 M188.7 253.2h0 M230.5 330.9h0 M320.0 268.2h0 M267.5 317.4h0 M310.3 294.9h0 M265.0 233.4h0 M223.5 295.5h0 M276.3 311.9h0 M324.4 330.4h0 M215.7 228.7h0 M324.2 285.4h0 M214.0 299.4h0 M225.4 247.1h0 M242.4 280.1h0 M290.3 228.4h0 M300.2 291.6h0 M258.6 297.1h0 M309.1 221.1h0 M259.2 297.8h0 M295.2 294.3h0 M213.8 329.9h0 M307.0 246.7h0 M252.3 329.9h0 M217.9 266.9h0 M334.1 323.2h0 M221.8 304.3h0 M241.4 296.1h0 M304.1 234.6h0 M220.3 244.7h0 M227.0 224.1h0 M206.9 266.6h0 M250.8 228.9h0 M275.7 328.1h0 M274.9 260.8h0 M294.5 270.1h0 M213.0 275.3h0 M188.7 297.5h0 M210.8 262.4h0 M334.2 307.9h0 M314.7 293.6h0 M283.7 300.9h0 M334.8 242.5h0 M304.0 254.5h0 M225.4 314.2h0 M278.6 317.5h0 M320.8 287.5h0 M216.5 221.7h0 M268.4 303.2h0 M228.0 228.0h0 M186.7 239.9h0 M293.2 220.5h0 M221.4 250.4h0 M295.5 333.2h0 M189.0 233.1h0 M329.9 331.3h0 M208.9 258.5h0 M266.4 256.7h0 M250.3 274.9h0 M225.8 226.3h0 M198.9 238.6h0 M200.1 291.6h0 M293.3 250.2h0 M307.9 303.6h0 M238.6 276.4h0 M215.0 326.6h0 M272.3 225.9h0 M209.7 299.4h0 M245.3 302.2h0 M221.3 311.4h0 M309.5 230.8h0 M276.3 241.9h0 M295.0 312.2h0 M307.9 246.5h0 M200.4 296.1h0 M273.0 235.9h0 M215.7 286.8h0 M202.6 292.7h0 M223.1 249.7h0 M251.2 281.2h0 M297.6 223.5h0 M297.6 245.3h0 M230.8 293.4h0 M292.4 290.5h0 M324.9 243.5h0 " stroke="#2f2d29" stroke-width="0.7" stroke-linecap="round" opacity="0.32"/>
<path d="M233.9 296.0h0 M226.2 238.0h0 M220.9 308.5h0 M313.4 302.2h0 M333.6 311.1h0 M233.7 256.2h0 M297.1 226.4h0 M279.8 230.2h0 M193.6 278.9h0 M209.3 326.9h0 M321.1 273.0h0 M216.4 233.7h0 M264.0 279.8h0 M241.9 302.2h0 M267.5 308.9h0 M202.4 228.0h0 M245.6 275.5h0 M224.9 296.7h0 M220.2 256.5h0 M259.4 301.7h0 M304.6 262.6h0 M254.8 326.4h0 M329.8 291.0h0 M202.2 272.3h0 M284.1 252.0h0 M191.8 332.5h0 M326.1 234.8h0 M257.7 291.0h0 M232.2 227.9h0 M301.6 308.4h0 M253.4 229.8h0 M246.7 230.8h0 M334.4 225.9h0 M230.4 308.1h0 M206.8 232.2h0 M196.9 238.8h0 M267.9 315.6h0 M212.0 239.9h0 M303.8 268.8h0 M238.1 234.1h0 M223.4 331.5h0 M204.0 249.8h0 M300.1 322.3h0 M325.3 274.2h0 M333.3 289.3h0 M230.5 273.4h0 M296.3 304.2h0 M206.0 242.2h0 M333.6 232.3h0 M311.3 258.9h0 M224.2 249.3h0 M258.3 333.6h0 M208.9 318.0h0 M235.5 239.8h0 M300.7 259.2h0 M214.9 268.0h0 M312.5 319.0h0 M274.5 221.2h0 M303.6 289.6h0 M324.5 329.2h0 M236.4 317.3h0 M312.1 250.5h0 M242.3 263.0h0 M240.3 263.4h0 M203.0 246.1h0 M326.1 267.1h0 M283.9 321.8h0 M302.4 248.0h0 M327.6 312.2h0 M338.6 303.5h0 M302.2 313.3h0 M225.0 295.2h0 M244.6 316.3h0 M206.6 281.8h0 M237.8 314.1h0 M239.2 316.8h0 M316.6 320.8h0 M207.4 327.6h0 M300.6 297.6h0 M286.5 225.5h0 M320.0 282.8h0 M256.2 258.9h0 M306.6 309.7h0 M320.0 244.6h0 M238.4 248.6h0 M201.5 257.5h0 M190.0 311.4h0 M221.0 228.1h0 M196.4 305.0h0 M216.6 273.0h0 M247.9 312.0h0 M332.9 255.5h0 M283.4 322.6h0 M258.5 323.2h0 M299.0 255.7h0 M320.6 285.8h0 M202.3 287.4h0 M313.7 279.5h0 M260.5 267.8h0 M321.6 296.3h0 M218.0 261.6h0 M241.9 330.0h0 M293.2 234.3h0 M326.8 224.0h0 M277.0 269.6h0 M296.5 269.2h0 M200.2 280.1h0 M312.3 310.5h0 M240.9 245.5h0 M300.7 312.0h0 M219.7 321.3h0 M338.8 269.7h0 M244.6 301.4h0 M329.2 243.1h0 M232.5 257.7h0 M298.8 241.4h0 M270.2 277.4h0 M288.9 236.4h0 M333.3 334.7h0 M272.4 311.2h0 M214.2 324.4h0 M270.9 307.1h0 M319.7 261.5h0 M328.3 243.8h0 M189.6 277.6h0 M324.4 323.3h0 M333.1 278.6h0 M329.6 284.2h0 M208.1 292.4h0 M309.7 268.6h0 M278.7 249.7h0 M228.5 268.2h0 M265.0 273.7h0 M200.2 220.7h0 M238.4 302.2h0 M301.2 247.2h0 M225.4 279.3h0 M213.0 289.2h0 M325.2 243.2h0 M276.2 302.7h0 M301.4 301.7h0 M295.4 251.3h0 M315.1 326.1h0 M194.1 328.3h0 M254.2 229.9h0 M196.7 311.4h0 M290.4 236.3h0 M256.8 293.3h0 M339.6 258.5h0 M304.1 248.1h0 M216.6 238.5h0 M249.2 290.9h0 M232.7 238.6h0 M219.7 229.7h0 M215.7 256.2h0 M263.7 241.1h0 M259.9 270.4h0 M335.8 275.8h0 M331.5 274.1h0 M216.5 287.9h0 M208.3 239.4h0 M197.3 300.4h0 M334.9 266.3h0 M240.5 268.8h0 M240.2 299.2h0 M246.4 237.5h0 M319.1 285.7h0 M187.0 317.4h0 M298.2 260.7h0 M283.0 325.6h0 M247.9 269.6h0 M231.9 283.6h0 M288.1 304.3h0 M332.2 236.7h0 M242.3 317.7h0 M307.8 287.7h0 M290.3 259.0h0 M331.5 283.0h0 M248.0 240.9h0 M203.8 322.9h0 M309.3 223.1h0 M235.8 275.0h0 M262.3 261.7h0 M323.9 260.1h0 M267.9 326.6h0 M284.4 274.7h0 M237.2 264.4h0 M279.8 310.1h0 M226.1 262.5h0 M245.7 261.6h0 M326.6 281.8h0 M228.5 258.1h0 M312.5 238.4h0 M292.3 222.5h0 M215.7 226.8h0 M310.1 236.8h0 M221.1 226.6h0 M226.6 304.1h0 M296.9 324.4h0 M331.8 283.2h0 M328.0 230.3h0 M328.5 269.8h0 M215.7 305.8h0 M318.2 264.2h0 M200.3 320.1h0 M302.0 288.5h0 M336.4 224.4h0 M194.6 234.2h0 M189.4 301.2h0 M283.0 232.9h0 M211.0 240.8h0 M279.8 297.1h0 M335.3 261.4h0 M336.8 269.8h0 M246.2 249.1h0 M221.8 331.8h0 M339.2 301.0h0 M213.0 240.6h0 M209.4 260.3h0 M299.5 226.8h0 M267.7 298.1h0 M191.2 270.4h0 M307.8 286.0h0 M255.5 321.1h0 M278.6 258.7h0 M247.0 328.2h0 M318.3 324.9h0 M272.4 236.3h0 M213.0 264.0h0 M292.4 220.5h0 M309.5 310.2h0 M265.3 220.6h0 M308.9 267.5h0 M289.1 285.4h0 M298.2 266.9h0 M333.8 329.6h0 M329.1 290.6h0 M234.7 263.2h0 M227.4 323.7h0 M308.0 310.4h0 M312.5 333.6h0 M292.0 256.5h0 M302.7 250.1h0 M280.1 238.2h0 M318.1 276.1h0 M228.4 325.9h0 M198.8 326.7h0 M302.6 237.1h0 M303.2 285.8h0 M325.7 287.3h0 M251.8 327.1h0 M199.4 309.1h0 M201.8 251.7h0 M203.5 319.9h0 M254.0 303.3h0 M225.5 303.8h0 M285.9 231.2h0 M262.1 302.8h0 M219.0 295.1h0 M228.8 262.5h0 " stroke="#2f2d29" stroke-width="1.0" stroke-linecap="round" opacity="0.45"/>
<path d="M327.7 328.2h0 M339.7 268.9h0 M274.1 312.7h0 M302.8 272.3h0 M319.0 266.0h0 M332.3 274.2h0 M204.3 305.9h0 M208.3 297.9h0 M194.2 333.4h0 M269.3 304.9h0 M206.2 293.0h0 M244.0 248.6h0 M311.5 223.8h0 M259.6 230.0h0 M317.1 322.5h0 M191.3 273.3h0 M258.2 302.4h0 M298.3 259.4h0 M329.6 241.3h0 M207.0 313.4h0 M204.5 241.3h0 M263.0 258.6h0 M211.2 326.7h0 M259.0 310.1h0 M224.5 324.7h0 M220.1 324.0h0 M280.4 331.4h0 M304.8 292.4h0 M268.1 318.0h0 M254.3 231.3h0 M326.7 312.4h0 M291.0 305.4h0 M221.7 273.1h0 M312.7 330.3h0 M328.2 238.4h0 M291.3 283.6h0 M248.4 239.2h0 M207.1 273.9h0 M261.9 250.7h0 M242.6 283.5h0 M303.3 287.6h0 M211.0 321.6h0 M242.6 330.1h0 M337.2 236.1h0 M275.7 330.9h0 " stroke="#2f2d29" stroke-width="1.4" stroke-linecap="round" opacity="0.5"/>
<path d="M202.6,233.2 C202.2,233.9 201.3,234.6 200.4,234.9 C199.5,235.3 198.3,235.4 197.2,235.3 C196.2,235.2 195.1,235.0 194.3,234.6 C193.5,234.1 192.9,233.4 192.7,232.7 C192.4,232.0 192.4,231.1 192.8,230.4 C193.1,229.7 193.8,228.9 194.7,228.5 C195.6,228.1 196.9,227.9 198.0,228.0 C199.1,228.0 200.5,228.2 201.3,228.7 C202.2,229.2 202.8,230.1 203.0,230.9 C203.2,231.6 203.1,232.6 202.6,233.2 Z" fill="#3a3833" fill-opacity="0.16" stroke="#1a1917" stroke-width="1.2"/>
<path d="M202.0,232.8 C201.6,233.4 200.6,233.9 199.8,234.2 C198.9,234.5 197.7,234.6 196.8,234.5 C195.8,234.4 194.6,234.1 194.0,233.6 C193.4,233.2 193.1,232.4 193.2,231.8 C193.2,231.2 193.8,230.5 194.4,230.1 C195.1,229.6 196.0,229.2 196.9,229.1 C197.8,229.0 198.9,229.3 199.7,229.6 C200.6,229.9 201.7,230.3 202.0,230.8 C202.4,231.4 202.4,232.3 202.0,232.8 Z" fill="none" stroke="#3a3833" stroke-opacity="0.45" stroke-width="0.8"/>
<circle cx="196.9" cy="230.2" r="1.1" fill="#22211e" opacity="0.55"/>
<path d="M241.9,241.7 C241.7,242.7 241.0,243.5 240.4,244.2 C239.7,244.9 238.9,245.8 238.0,246.0 C237.2,246.1 236.2,245.3 235.3,244.9 C234.4,244.5 233.0,244.1 232.5,243.3 C232.1,242.5 232.4,241.0 232.8,240.1 C233.2,239.2 234.0,238.3 234.9,237.7 C235.8,237.2 237.2,236.7 238.3,236.8 C239.3,237.0 240.8,237.7 241.4,238.5 C242.0,239.3 242.1,240.8 241.9,241.7 Z" fill="#1e1d1a" fill-opacity="0.9" stroke="#1e1d1a" stroke-opacity="0.5" stroke-width="0.9"/>
<path d="M239.4,241.9 C239.4,242.5 239.4,243.2 239.0,243.7 C238.5,244.2 237.4,244.9 236.8,244.8 C236.2,244.6 235.7,243.5 235.5,242.8 C235.2,242.2 234.9,241.3 235.2,240.8 C235.4,240.4 236.4,240.3 237.1,240.2 C237.7,240.1 238.6,239.9 239.0,240.1 C239.3,240.4 239.4,241.3 239.4,241.9 Z" fill="#141311" fill-opacity="0.6"/>
<path d="M218.6,253.8 C217.7,254.4 216.0,255.1 214.9,255.0 C213.9,254.8 213.0,253.6 212.2,253.0 C211.5,252.4 210.6,251.9 210.4,251.3 C210.2,250.6 210.6,249.8 211.1,249.1 C211.6,248.4 212.2,247.0 213.2,246.8 C214.1,246.6 215.5,247.6 216.8,247.9 C218.0,248.2 220.2,248.1 220.7,248.7 C221.2,249.3 220.2,250.6 219.9,251.5 C219.5,252.3 219.4,253.2 218.6,253.8 Z" fill="#3c3a35" fill-opacity="0.42" stroke="#1e1d1a" stroke-width="1.4"/>
<path d="M218.7,251.5 C218.5,251.9 217.2,252.1 216.5,252.3 C215.8,252.5 214.7,252.6 214.3,252.4 C213.9,252.2 214.0,251.5 213.9,251.0 C213.8,250.5 213.3,249.8 213.6,249.4 C214.0,249.1 215.4,248.6 216.0,248.7 C216.6,248.8 216.8,249.7 217.3,250.1 C217.7,250.6 218.8,251.1 218.7,251.5 Z" fill="#2a2825" fill-opacity="0.45"/>
<path d="M218.1,257.7 C217.8,258.0 217.4,258.2 217.0,258.2 C216.6,258.3 216.1,258.3 215.8,258.1 C215.4,257.9 215.0,257.5 214.8,257.1 C214.6,256.7 214.5,256.1 214.7,255.6 C214.8,255.1 215.3,254.6 215.7,254.4 C216.2,254.2 216.9,254.1 217.3,254.2 C217.8,254.3 218.2,254.8 218.5,255.2 C218.7,255.6 219.0,256.2 218.9,256.6 C218.9,257.0 218.5,257.5 218.1,257.7 Z" fill="#1e1d1a" fill-opacity="0.9" stroke="#1e1d1a" stroke-opacity="0.5" stroke-width="0.9"/>
<path d="M217.3,257.3 C217.2,257.5 216.9,258.0 216.6,258.0 C216.4,258.1 216.0,257.6 215.8,257.4 C215.6,257.2 215.5,256.9 215.6,256.6 C215.6,256.4 215.8,256.1 216.0,256.0 C216.2,255.8 216.5,255.8 216.8,255.9 C217.0,255.9 217.4,256.1 217.5,256.3 C217.6,256.6 217.5,257.0 217.3,257.3 Z" fill="#141311" fill-opacity="0.6"/>
<path d="M261.6,253.8 C261.0,254.4 260.2,255.0 259.3,255.2 C258.5,255.3 257.4,255.1 256.6,254.7 C255.8,254.3 255.1,253.5 254.7,252.8 C254.3,252.0 254.3,250.9 254.4,250.1 C254.6,249.2 255.0,248.2 255.6,247.6 C256.2,247.1 257.3,246.9 258.1,246.8 C259.0,246.7 259.9,246.8 260.6,247.2 C261.4,247.5 262.2,248.2 262.6,248.9 C263.0,249.6 263.0,250.7 262.9,251.5 C262.7,252.3 262.2,253.2 261.6,253.8 Z" fill="#3a3833" fill-opacity="0.16" stroke="#1a1917" stroke-width="1.2"/>
<path d="M261.0,252.9 C260.5,253.5 259.8,254.2 259.1,254.3 C258.4,254.4 257.5,253.9 257.0,253.4 C256.4,253.0 256.0,252.3 255.8,251.7 C255.6,251.0 255.4,250.1 255.7,249.5 C255.9,248.9 256.6,248.2 257.3,247.9 C257.9,247.6 258.7,247.6 259.4,247.7 C260.1,247.8 261.1,248.2 261.5,248.7 C261.9,249.3 261.9,250.3 261.8,251.0 C261.7,251.7 261.4,252.4 261.0,252.9 Z" fill="none" stroke="#3a3833" stroke-opacity="0.45" stroke-width="0.8"/>
<path d="M237.4,263.8 C237.0,264.2 236.3,264.5 235.6,264.6 C235.0,264.7 234.2,264.7 233.6,264.4 C233.0,264.1 232.5,263.3 232.3,262.7 C232.1,262.1 232.2,261.4 232.3,260.8 C232.5,260.2 232.9,259.6 233.3,259.2 C233.7,258.8 234.4,258.5 235.0,258.4 C235.6,258.3 236.3,258.4 236.8,258.7 C237.4,259.0 237.8,259.6 238.0,260.2 C238.3,260.7 238.6,261.5 238.5,262.1 C238.4,262.7 237.9,263.3 237.4,263.8 Z" fill="#3a3833" fill-opacity="0.16" stroke="#1a1917" stroke-width="1.2"/>
<path d="M232.8,267.3 C232.5,268.0 231.9,268.8 231.2,269.3 C230.5,269.7 229.4,270.2 228.6,270.1 C227.8,270.0 227.0,269.2 226.4,268.6 C225.8,268.0 225.4,267.2 225.2,266.4 C225.0,265.6 225.1,264.7 225.4,263.9 C225.7,263.2 226.4,262.5 227.1,262.1 C227.8,261.6 228.8,261.1 229.6,261.2 C230.4,261.2 231.4,261.8 232.0,262.4 C232.6,263.0 233.0,263.9 233.2,264.8 C233.3,265.6 233.1,266.5 232.8,267.3 Z" fill="#3a3833" fill-opacity="0.16" stroke="#1a1917" stroke-width="1.2"/>
<path d="M231.9,266.1 C231.8,266.7 231.4,267.3 231.0,267.8 C230.5,268.3 229.8,268.9 229.1,268.9 C228.5,269.0 227.5,268.5 227.1,268.1 C226.6,267.6 226.4,266.8 226.3,266.1 C226.1,265.5 226.0,264.6 226.3,264.0 C226.6,263.5 227.5,263.2 228.1,263.0 C228.7,262.7 229.5,262.5 230.1,262.7 C230.7,262.9 231.4,263.5 231.7,264.1 C232.0,264.6 232.0,265.4 231.9,266.1 Z" fill="none" stroke="#3a3833" stroke-opacity="0.45" stroke-width="0.8"/>
<circle cx="228.3" cy="265.2" r="0.8" fill="#22211e" opacity="0.55"/>
<path d="M236.9,278.5 C236.5,279.4 235.8,280.4 234.9,280.9 C234.1,281.3 232.8,281.2 231.8,281.1 C230.8,280.9 229.6,280.4 229.0,279.7 C228.4,279.0 228.3,277.8 228.2,276.7 C228.0,275.7 227.7,274.4 228.2,273.6 C228.6,272.8 229.9,272.4 230.9,272.0 C231.8,271.7 232.8,271.4 233.7,271.5 C234.7,271.7 235.8,272.2 236.4,272.9 C237.0,273.5 237.4,274.7 237.5,275.6 C237.6,276.6 237.4,277.6 236.9,278.5 Z" fill="#3a3833" fill-opacity="0.16" stroke="#1a1917" stroke-width="1.2"/>
<path d="M236.8,276.6 C236.8,277.4 236.4,278.7 235.8,279.2 C235.2,279.8 234.0,280.0 233.1,280.0 C232.3,280.0 231.4,279.7 230.7,279.2 C230.0,278.8 229.1,278.0 228.9,277.2 C228.7,276.5 229.1,275.4 229.5,274.6 C229.8,273.9 230.5,273.1 231.2,272.7 C231.9,272.3 233.1,272.1 233.8,272.3 C234.6,272.5 235.5,273.3 236.0,274.0 C236.4,274.7 236.9,275.7 236.8,276.6 Z" fill="none" stroke="#3a3833" stroke-opacity="0.45" stroke-width="0.8"/>
<circle cx="230.4" cy="275.3" r="1.0" fill="#22211e" opacity="0.55"/>
<path d="M219.9,282.5 C219.1,282.9 218.0,282.8 217.1,282.7 C216.2,282.6 215.2,282.5 214.5,282.0 C213.9,281.5 213.3,280.6 213.1,279.8 C212.9,278.9 213.1,277.9 213.4,277.1 C213.7,276.3 214.1,275.3 214.8,274.8 C215.5,274.3 216.6,274.2 217.5,274.2 C218.4,274.2 219.5,274.5 220.2,275.0 C220.8,275.5 221.2,276.6 221.4,277.5 C221.7,278.4 222.0,279.4 221.7,280.3 C221.4,281.1 220.6,282.1 219.9,282.5 Z" fill="#3a3833" fill-opacity="0.16" stroke="#1a1917" stroke-width="1.2"/>
<path d="M219.6,281.0 C219.1,281.4 218.2,281.6 217.5,281.7 C216.8,281.7 215.9,281.6 215.3,281.2 C214.8,280.8 214.5,280.0 214.3,279.3 C214.1,278.6 214.0,277.7 214.2,277.1 C214.5,276.4 215.3,275.7 215.9,275.5 C216.6,275.2 217.5,275.2 218.3,275.4 C219.0,275.6 220.0,276.0 220.3,276.6 C220.7,277.2 220.4,278.2 220.3,278.9 C220.2,279.7 220.0,280.5 219.6,281.0 Z" fill="none" stroke="#3a3833" stroke-opacity="0.45" stroke-width="0.8"/>
<path d="M202.5,286.4 C202.1,286.8 201.4,287.3 200.8,287.4 C200.2,287.5 199.4,287.2 198.8,286.9 C198.2,286.6 197.5,286.2 197.2,285.6 C196.9,285.1 196.7,284.1 196.8,283.5 C197.0,282.8 197.5,282.2 198.0,281.7 C198.5,281.2 199.2,280.7 199.8,280.6 C200.4,280.5 201.2,280.8 201.9,281.2 C202.5,281.5 203.2,282.0 203.5,282.6 C203.7,283.1 203.7,284.0 203.5,284.7 C203.4,285.3 203.0,285.9 202.5,286.4 Z" fill="#3a3833" fill-opacity="0.16" stroke="#1a1917" stroke-width="1.2"/>
<path d="M201.6,286.0 C201.1,286.2 200.5,286.2 200.1,286.2 C199.6,286.1 199.1,285.9 198.8,285.6 C198.4,285.3 198.0,284.8 197.9,284.3 C197.8,283.8 198.0,283.1 198.3,282.6 C198.6,282.2 199.2,281.9 199.7,281.8 C200.2,281.7 200.8,282.0 201.2,282.2 C201.7,282.4 202.3,282.7 202.6,283.1 C202.8,283.5 202.8,284.3 202.6,284.8 C202.4,285.2 202.0,285.8 201.6,286.0 Z" fill="none" stroke="#3a3833" stroke-opacity="0.45" stroke-width="0.8"/>
<path d="M252.6,280.8 C252.5,281.5 252.4,282.5 251.8,282.9 C251.2,283.2 250.0,283.1 249.3,283.0 C248.5,283.0 247.9,282.9 247.3,282.5 C246.7,282.2 246.0,281.7 245.7,281.1 C245.4,280.5 245.1,279.5 245.3,278.8 C245.6,278.1 246.6,277.1 247.4,276.9 C248.2,276.7 249.2,277.3 250.1,277.5 C251.0,277.8 252.2,277.8 252.6,278.4 C253.1,278.9 252.8,280.0 252.6,280.8 Z" fill="#1e1d1a" fill-opacity="0.9" stroke="#1e1d1a" stroke-opacity="0.5" stroke-width="0.9"/>
<path d="M251.5,282.0 C251.2,282.4 250.2,282.6 249.6,282.6 C248.9,282.7 248.0,282.6 247.6,282.2 C247.2,281.9 247.1,281.0 247.3,280.5 C247.5,280.1 248.0,279.7 248.5,279.5 C249.0,279.2 249.7,279.0 250.1,279.1 C250.6,279.2 251.1,279.8 251.3,280.2 C251.5,280.7 251.8,281.6 251.5,282.0 Z" fill="#141311" fill-opacity="0.6"/>
<path d="M262.8,286.8 C262.6,287.5 262.0,288.3 261.4,288.7 C260.8,289.2 259.9,289.5 259.1,289.5 C258.4,289.4 257.5,288.9 256.9,288.5 C256.4,288.0 255.8,287.3 255.6,286.6 C255.4,285.9 255.3,284.9 255.5,284.2 C255.7,283.5 256.4,282.7 257.0,282.3 C257.6,281.9 258.5,281.6 259.3,281.7 C260.1,281.7 261.1,281.9 261.6,282.3 C262.2,282.8 262.6,283.7 262.7,284.4 C262.9,285.2 263.0,286.1 262.8,286.8 Z" fill="#3a3833" fill-opacity="0.16" stroke="#1a1917" stroke-width="1.2"/>
<path d="M261.5,286.9 C261.2,287.4 260.7,288.1 260.2,288.3 C259.6,288.5 258.8,288.5 258.2,288.2 C257.6,288.0 256.9,287.5 256.6,287.0 C256.3,286.4 256.3,285.6 256.4,285.0 C256.6,284.4 257.0,283.9 257.5,283.4 C258.0,283.0 258.6,282.5 259.2,282.5 C259.8,282.4 260.6,282.9 261.0,283.4 C261.5,283.8 261.8,284.5 261.9,285.0 C262.0,285.6 261.8,286.3 261.5,286.9 Z" fill="none" stroke="#3a3833" stroke-opacity="0.45" stroke-width="0.8"/>
<circle cx="257.8" cy="285.1" r="0.8" fill="#22211e" opacity="0.55"/>
<path d="M281.4,284.8 C281.0,285.3 280.2,285.7 279.5,285.8 C278.9,285.9 278.1,285.5 277.5,285.1 C277.0,284.8 276.3,284.3 276.0,283.7 C275.8,283.2 275.7,282.3 275.8,281.7 C276.0,281.0 276.4,280.3 276.8,279.9 C277.3,279.4 278.0,279.1 278.7,279.0 C279.3,278.9 280.2,278.9 280.8,279.2 C281.4,279.5 282.0,280.2 282.3,280.8 C282.5,281.4 282.4,282.3 282.3,282.9 C282.1,283.6 281.9,284.3 281.4,284.8 Z" fill="#3a3833" fill-opacity="0.16" stroke="#1a1917" stroke-width="1.2"/>
<path d="M281.5,282.9 C281.4,283.3 280.9,283.9 280.5,284.2 C280.1,284.5 279.5,284.7 279.0,284.7 C278.5,284.6 277.8,284.4 277.5,284.0 C277.1,283.7 276.8,283.1 276.7,282.6 C276.7,282.1 277.0,281.5 277.3,281.1 C277.6,280.7 278.0,280.4 278.5,280.3 C279.0,280.1 279.6,280.1 280.0,280.2 C280.4,280.4 280.7,280.9 281.0,281.4 C281.2,281.8 281.5,282.4 281.5,282.9 Z" fill="none" stroke="#3a3833" stroke-opacity="0.45" stroke-width="0.8"/>
<path d="M301.5,289.0 C301.0,289.4 300.2,289.7 299.5,289.7 C298.8,289.7 297.8,289.5 297.3,289.0 C296.8,288.5 296.4,287.5 296.5,286.8 C296.5,286.1 297.2,285.4 297.6,284.9 C298.0,284.4 298.5,283.9 299.1,283.8 C299.6,283.6 300.3,283.9 300.9,284.2 C301.5,284.4 302.5,284.6 302.8,285.1 C303.2,285.6 303.2,286.7 302.9,287.3 C302.7,288.0 302.1,288.6 301.5,289.0 Z" fill="#1e1d1a" fill-opacity="0.9" stroke="#1e1d1a" stroke-opacity="0.5" stroke-width="0.9"/>
<path d="M301.4,286.8 C301.3,287.2 300.9,287.8 300.5,288.0 C300.1,288.3 299.3,288.3 298.9,288.1 C298.4,287.9 298.0,287.2 297.9,286.7 C297.8,286.2 298.0,285.4 298.3,285.1 C298.6,284.8 299.4,284.7 299.9,284.8 C300.3,284.8 300.8,285.1 301.1,285.4 C301.3,285.8 301.5,286.4 301.4,286.8 Z" fill="#141311" fill-opacity="0.6"/>
<path d="M296.3,260.6 C295.7,261.6 293.5,262.1 292.3,262.6 C291.0,263.0 289.9,263.3 288.8,263.1 C287.6,263.0 286.5,262.6 285.4,261.9 C284.4,261.2 282.7,260.1 282.5,258.9 C282.3,257.8 283.1,255.9 284.1,255.0 C285.1,254.2 286.9,254.2 288.3,254.0 C289.8,253.7 291.4,253.0 292.7,253.5 C294.0,253.9 295.3,255.3 295.9,256.4 C296.5,257.6 296.9,259.6 296.3,260.6 Z" fill="#3c3a35" fill-opacity="0.42" stroke="#1e1d1a" stroke-width="1.4"/>
<path d="M291.2,259.7 C290.8,260.1 289.9,260.0 289.2,260.0 C288.4,260.0 286.9,260.2 286.6,259.8 C286.2,259.4 286.6,258.1 286.9,257.5 C287.2,256.9 287.9,256.4 288.5,256.1 C289.2,255.9 290.3,255.8 290.9,256.1 C291.4,256.4 291.6,257.4 291.7,258.0 C291.7,258.6 291.6,259.4 291.2,259.7 Z" fill="#2a2825" fill-opacity="0.45"/>
<path d="M299.3,267.7 C299.3,268.6 298.9,269.8 298.3,270.6 C297.7,271.3 296.7,271.7 295.7,272.0 C294.8,272.3 293.7,272.5 292.8,272.2 C291.9,272.0 290.7,271.4 290.1,270.6 C289.6,269.8 289.5,268.5 289.5,267.5 C289.6,266.5 289.7,265.3 290.3,264.5 C290.9,263.7 292.0,262.9 292.9,262.7 C293.9,262.5 295.1,262.7 296.0,263.1 C296.8,263.5 297.6,264.2 298.2,265.0 C298.7,265.7 299.3,266.8 299.3,267.7 Z" fill="#3a3833" fill-opacity="0.16" stroke="#1a1917" stroke-width="1.2"/>
<path d="M297.5,270.1 C297.0,270.7 295.9,271.1 295.1,271.3 C294.3,271.4 293.4,271.2 292.6,270.8 C291.9,270.5 290.9,269.9 290.5,269.1 C290.1,268.4 290.1,267.0 290.4,266.3 C290.7,265.5 291.7,264.9 292.5,264.4 C293.2,264.0 294.2,263.6 295.0,263.7 C295.8,263.8 296.8,264.3 297.4,265.0 C297.9,265.6 298.1,266.7 298.2,267.5 C298.2,268.4 298.0,269.5 297.5,270.1 Z" fill="none" stroke="#3a3833" stroke-opacity="0.45" stroke-width="0.8"/>
<circle cx="292.6" cy="266.9" r="1.0" fill="#22211e" opacity="0.55"/>
<path d="M280.8,299.0 C280.4,299.6 279.5,300.0 278.9,300.2 C278.2,300.4 277.4,300.5 276.7,300.3 C276.0,300.1 275.3,299.6 274.9,299.1 C274.4,298.5 274.1,297.7 274.1,297.0 C274.0,296.3 274.3,295.5 274.7,294.9 C275.1,294.2 275.7,293.4 276.4,293.2 C277.0,293.0 277.9,293.4 278.7,293.6 C279.4,293.8 280.4,293.9 280.9,294.5 C281.3,295.0 281.3,296.1 281.2,296.8 C281.2,297.6 281.2,298.4 280.8,299.0 Z" fill="#3a3833" fill-opacity="0.16" stroke="#1a1917" stroke-width="1.2"/>
<path d="M279.3,298.8 C278.9,299.1 278.3,299.5 277.7,299.5 C277.2,299.6 276.5,299.2 276.1,298.9 C275.7,298.5 275.5,297.9 275.4,297.3 C275.2,296.8 275.1,296.1 275.3,295.6 C275.5,295.1 276.2,294.5 276.7,294.3 C277.3,294.2 278.0,294.4 278.5,294.6 C279.1,294.8 279.8,295.0 280.1,295.5 C280.3,295.9 280.4,296.8 280.3,297.3 C280.1,297.9 279.7,298.4 279.3,298.8 Z" fill="none" stroke="#3a3833" stroke-opacity="0.45" stroke-width="0.8"/>
<path d="M291.6,304.0 C291.6,304.8 291.0,305.7 290.5,306.3 C289.9,307.0 289.1,307.7 288.2,307.9 C287.4,308.2 286.1,308.2 285.2,307.9 C284.3,307.6 283.3,306.9 282.8,306.2 C282.3,305.5 282.2,304.4 282.3,303.6 C282.4,302.7 282.8,301.9 283.4,301.2 C284.0,300.5 284.9,299.7 285.7,299.5 C286.6,299.4 287.7,299.8 288.6,300.1 C289.4,300.5 290.3,301.0 290.8,301.6 C291.3,302.3 291.7,303.2 291.6,304.0 Z" fill="#3a3833" fill-opacity="0.16" stroke="#1a1917" stroke-width="1.2"/>
<path d="M289.6,305.9 C289.1,306.4 288.2,307.1 287.5,307.2 C286.7,307.2 285.8,306.6 285.2,306.2 C284.5,305.8 283.8,305.3 283.6,304.7 C283.4,304.1 283.6,303.2 283.9,302.7 C284.2,302.1 284.9,301.6 285.5,301.3 C286.2,301.0 287.1,300.9 287.8,301.0 C288.4,301.2 289.2,301.6 289.6,302.1 C290.1,302.6 290.5,303.3 290.5,304.0 C290.5,304.6 290.1,305.4 289.6,305.9 Z" fill="none" stroke="#3a3833" stroke-opacity="0.45" stroke-width="0.8"/>
<circle cx="285.6" cy="302.5" r="0.9" fill="#22211e" opacity="0.55"/>
<path d="M257.8,308.2 C257.4,308.8 256.6,309.5 255.9,309.7 C255.3,309.8 254.4,309.4 253.7,309.0 C253.0,308.7 252.2,308.3 251.8,307.8 C251.5,307.2 251.2,306.2 251.3,305.5 C251.4,304.8 251.8,304.0 252.2,303.5 C252.7,302.9 253.4,302.2 254.1,302.0 C254.8,301.8 255.6,302.2 256.3,302.5 C257.0,302.8 258.0,303.1 258.3,303.7 C258.7,304.3 258.7,305.3 258.6,306.1 C258.5,306.8 258.3,307.6 257.8,308.2 Z" fill="#3a3833" fill-opacity="0.16" stroke="#1a1917" stroke-width="1.2"/>
<path d="M257.5,306.7 C257.3,307.2 256.8,307.8 256.3,308.1 C255.9,308.3 255.1,308.4 254.6,308.3 C254.1,308.1 253.6,307.8 253.2,307.4 C252.8,307.0 252.2,306.4 252.2,305.8 C252.1,305.3 252.6,304.6 253.0,304.2 C253.4,303.8 254.0,303.6 254.6,303.4 C255.1,303.3 255.8,303.2 256.3,303.5 C256.8,303.7 257.2,304.3 257.4,304.9 C257.6,305.4 257.7,306.1 257.5,306.7 Z" fill="none" stroke="#3a3833" stroke-opacity="0.45" stroke-width="0.8"/>
<circle cx="253.5" cy="305.8" r="0.7" fill="#22211e" opacity="0.55"/>
<path d="M242.5,308.3 C242.4,308.8 242.1,309.4 241.7,309.7 C241.3,310.0 240.6,310.0 240.1,309.9 C239.6,309.9 239.1,309.7 238.7,309.5 C238.3,309.2 238.1,308.6 237.9,308.2 C237.8,307.7 237.6,307.1 237.8,306.6 C237.9,306.2 238.3,305.7 238.7,305.4 C239.2,305.1 239.8,305.0 240.3,305.0 C240.8,305.0 241.3,305.2 241.7,305.5 C242.1,305.8 242.4,306.4 242.5,306.8 C242.6,307.3 242.7,307.8 242.5,308.3 Z" fill="#3a3833" fill-opacity="0.16" stroke="#1a1917" stroke-width="1.2"/>
<path d="M274.9,315.9 C274.3,316.5 273.3,317.2 272.5,317.3 C271.7,317.4 270.6,317.0 269.8,316.6 C269.0,316.2 268.1,315.6 267.7,314.9 C267.4,314.1 267.6,313.1 267.8,312.3 C268.0,311.5 268.3,310.7 268.8,310.1 C269.4,309.4 270.2,308.6 271.1,308.4 C271.9,308.3 273.1,308.6 273.9,309.1 C274.7,309.5 275.5,310.2 275.8,311.0 C276.2,311.7 276.3,312.8 276.1,313.6 C276.0,314.4 275.5,315.2 274.9,315.9 Z" fill="#3a3833" fill-opacity="0.16" stroke="#1a1917" stroke-width="1.2"/>
<path d="M274.6,314.2 C274.3,314.8 273.6,315.3 273.0,315.6 C272.4,315.9 271.5,316.1 270.8,315.9 C270.1,315.8 269.3,315.2 268.9,314.7 C268.6,314.1 268.6,313.2 268.7,312.5 C268.8,311.9 269.0,311.0 269.5,310.6 C270.0,310.1 270.9,310.1 271.6,310.0 C272.4,310.0 273.3,310.0 273.8,310.4 C274.4,310.7 274.7,311.6 274.8,312.3 C274.9,312.9 274.9,313.7 274.6,314.2 Z" fill="none" stroke="#3a3833" stroke-opacity="0.45" stroke-width="0.8"/>
<circle cx="270.1" cy="312.2" r="0.9" fill="#22211e" opacity="0.55"/>
<path d="M291.5,320.5 C291.3,321.6 290.6,323.1 289.5,323.7 C288.4,324.3 286.3,324.1 284.8,324.1 C283.4,324.0 281.9,324.0 280.6,323.5 C279.4,322.9 277.7,321.9 277.3,320.9 C276.9,319.9 277.5,318.4 278.3,317.4 C279.0,316.4 280.4,315.4 281.8,315.0 C283.3,314.5 285.5,314.2 287.0,314.5 C288.4,314.9 289.9,316.1 290.7,317.1 C291.4,318.0 291.7,319.4 291.5,320.5 Z" fill="#3c3a35" fill-opacity="0.42" stroke="#1e1d1a" stroke-width="1.4"/>
<path d="M286.4,321.4 C285.7,321.9 284.4,322.4 283.6,322.3 C282.8,322.2 282.0,321.3 281.6,320.7 C281.3,320.2 281.1,319.5 281.3,318.9 C281.5,318.3 282.2,317.2 283.0,316.9 C283.8,316.7 285.5,317.1 286.3,317.5 C287.1,317.9 287.6,318.9 287.6,319.5 C287.6,320.2 287.0,321.0 286.4,321.4 Z" fill="#2a2825" fill-opacity="0.45"/>
<path d="M316.3,300.6 C316.1,301.6 315.3,302.4 314.6,303.2 C314.0,304.0 313.2,305.0 312.3,305.3 C311.4,305.6 309.9,305.5 309.0,305.0 C308.1,304.6 307.1,303.6 306.7,302.7 C306.3,301.8 306.3,300.6 306.4,299.6 C306.5,298.6 306.7,297.3 307.3,296.6 C307.9,295.9 309.2,295.7 310.2,295.5 C311.2,295.2 312.5,294.9 313.3,295.3 C314.2,295.7 315.1,296.7 315.5,297.6 C316.0,298.5 316.4,299.7 316.3,300.6 Z" fill="#3a3833" fill-opacity="0.16" stroke="#1a1917" stroke-width="1.2"/>
<path d="M315.4,300.2 C315.4,301.0 314.7,301.9 314.1,302.6 C313.5,303.3 312.7,304.0 311.9,304.2 C311.0,304.4 309.8,304.0 309.1,303.6 C308.4,303.1 307.8,302.2 307.5,301.4 C307.2,300.6 307.0,299.4 307.3,298.6 C307.6,297.9 308.6,297.3 309.4,296.9 C310.2,296.5 311.2,295.8 312.0,296.0 C312.8,296.1 313.6,297.0 314.1,297.7 C314.7,298.4 315.4,299.3 315.4,300.2 Z" fill="none" stroke="#3a3833" stroke-opacity="0.45" stroke-width="0.8"/>
<circle cx="309.4" cy="298.2" r="1.0" fill="#22211e" opacity="0.55"/>
<path d="M319.7,311.2 C319.4,312.6 318.3,313.8 317.4,314.7 C316.6,315.6 315.6,316.4 314.6,316.5 C313.6,316.7 312.2,316.5 311.3,315.8 C310.4,315.1 309.8,313.8 309.3,312.4 C308.8,311.0 308.1,309.0 308.4,307.5 C308.8,306.1 310.2,304.5 311.4,303.8 C312.6,303.1 314.3,303.0 315.6,303.3 C316.9,303.7 318.6,304.8 319.2,306.1 C319.9,307.4 320.0,309.8 319.7,311.2 Z" fill="#1e1d1a" fill-opacity="0.9" stroke="#1e1d1a" stroke-opacity="0.5" stroke-width="0.9"/>
<path d="M317.5,312.2 C317.3,313.3 316.2,314.5 315.4,314.9 C314.5,315.3 313.1,315.2 312.4,314.6 C311.8,314.0 311.5,312.5 311.5,311.5 C311.5,310.6 311.8,309.9 312.3,309.0 C312.7,308.2 313.5,306.6 314.2,306.5 C315.0,306.5 316.0,307.9 316.5,308.8 C317.1,309.8 317.7,311.2 317.5,312.2 Z" fill="#141311" fill-opacity="0.6"/>
<path d="M332.6,312.5 C331.9,313.3 330.6,313.7 329.6,314.0 C328.5,314.4 327.3,314.8 326.3,314.5 C325.3,314.3 324.3,313.3 323.6,312.4 C322.9,311.6 322.3,310.3 322.3,309.3 C322.2,308.2 322.8,306.9 323.5,306.1 C324.2,305.3 325.2,304.7 326.2,304.3 C327.2,303.9 328.6,303.4 329.6,303.7 C330.6,303.9 331.4,305.2 332.1,306.1 C332.7,307.0 333.4,308.0 333.5,309.1 C333.6,310.2 333.2,311.7 332.6,312.5 Z" fill="#3a3833" fill-opacity="0.16" stroke="#1a1917" stroke-width="1.2"/>
<path d="M330.7,312.2 C330.0,312.9 329.0,313.6 328.1,313.7 C327.2,313.7 326.0,313.1 325.3,312.5 C324.6,311.9 324.1,310.9 323.9,310.1 C323.8,309.2 323.9,308.2 324.3,307.3 C324.7,306.5 325.3,305.2 326.1,304.9 C326.9,304.5 328.3,304.9 329.2,305.2 C330.1,305.5 331.0,306.1 331.5,306.9 C332.0,307.7 332.3,308.9 332.2,309.8 C332.0,310.7 331.3,311.6 330.7,312.2 Z" fill="none" stroke="#3a3833" stroke-opacity="0.45" stroke-width="0.8"/>
<circle cx="326.8" cy="308.6" r="1.1" fill="#22211e" opacity="0.55"/>
<path d="M285.5,333.9 C284.8,334.3 284.0,334.4 283.3,334.4 C282.5,334.4 281.7,334.3 281.0,333.9 C280.4,333.5 279.5,332.7 279.3,332.0 C279.2,331.3 279.5,330.2 279.9,329.6 C280.4,329.0 281.3,328.5 282.1,328.3 C282.9,328.1 283.9,327.9 284.6,328.2 C285.3,328.4 285.6,329.3 286.1,329.9 C286.6,330.6 287.6,331.4 287.5,332.1 C287.4,332.8 286.2,333.5 285.5,333.9 Z" fill="#1e1d1a" fill-opacity="0.9" stroke="#1e1d1a" stroke-opacity="0.5" stroke-width="0.9"/>
<path d="M284.5,332.5 C284.1,332.9 283.5,333.5 283.0,333.5 C282.5,333.4 282.0,332.8 281.7,332.3 C281.3,331.9 280.9,331.1 281.1,330.7 C281.2,330.3 282.2,330.1 282.7,330.0 C283.3,329.9 283.8,329.8 284.2,330.0 C284.7,330.2 285.4,330.8 285.4,331.2 C285.5,331.6 284.9,332.2 284.5,332.5 Z" fill="#141311" fill-opacity="0.6"/>
</g>
<rect x="322.8" y="329.0" width="14.7" height="3" fill="#000"/>
</g>
<rect x="28" y="339.2" width="154" height="115.30000000000001" fill="rgb(124, 122, 112)"/>
<g clip-path="url(#c2)">
<rect x="28" y="339.2" width="154" height="115.30000000000001" filter="url(#mot)"/>
<rect x="28" y="339.2" width="154" height="115.30000000000001" fill="url(#vg2)"/>
<g filter="url(#bl)">
<path d="M102.3 382.7h0 M117.1 364.3h0 M95.4 339.4h0 M151.0 368.5h0 M155.9 402.9h0 M120.6 411.4h0 M47.3 428.8h0 M73.0 438.7h0 M149.1 417.4h0 M153.5 389.5h0 M131.7 449.1h0 M57.1 350.8h0 M91.4 398.0h0 M51.0 364.7h0 M161.4 383.9h0 M50.9 360.3h0 M116.9 361.1h0 M101.2 401.2h0 M95.7 397.3h0 M156.9 341.1h0 M171.2 362.2h0 M33.9 427.7h0 M115.8 401.2h0 M61.5 429.3h0 M75.2 423.0h0 M63.2 405.2h0 M127.8 382.1h0 M101.9 346.7h0 M127.1 418.9h0 M51.6 402.7h0 M140.9 350.9h0 M157.2 439.6h0 M35.8 367.8h0 M40.9 368.3h0 M41.3 395.6h0 M66.6 373.8h0 M99.1 382.0h0 M149.4 422.5h0 M45.6 365.0h0 M29.3 377.2h0 M44.7 419.6h0 M148.2 454.0h0 M60.2 343.4h0 M144.6 386.7h0 M171.4 384.5h0 M76.1 347.6h0 M174.0 398.2h0 M95.9 389.6h0 M146.4 435.0h0 M101.3 359.7h0 M90.6 442.0h0 M90.8 415.4h0 M114.2 392.4h0 M116.5 367.5h0 M113.8 438.9h0 M40.3 381.7h0 M163.6 452.0h0 M30.0 411.5h0 M125.3 436.4h0 M100.4 354.3h0 M74.2 421.4h0 M140.2 362.8h0 M127.0 414.9h0 M129.3 341.7h0 M96.0 376.7h0 M120.0 378.0h0 M47.7 416.5h0 M72.2 430.4h0 M75.1 402.1h0 M152.5 352.5h0 M140.6 347.1h0 M172.2 342.1h0 M139.5 381.7h0 M55.7 384.7h0 M105.2 387.0h0 M46.8 399.5h0 M74.2 450.7h0 M87.0 389.4h0 M63.1 450.9h0 M77.6 413.7h0 M156.2 384.5h0 M144.3 371.3h0 M44.9 344.1h0 M97.1 440.0h0 M59.3 390.0h0 M145.5 371.0h0 M51.5 399.1h0 M93.5 447.4h0 M166.2 366.6h0 M114.4 387.2h0 M33.2 390.4h0 M169.0 374.1h0 M118.3 421.1h0 M37.7 445.8h0 M44.8 374.0h0 M138.2 341.4h0 M85.8 353.8h0 M100.9 341.0h0 M51.3 364.8h0 M40.5 349.6h0 M57.9 398.9h0 M49.1 433.9h0 M92.2 368.2h0 M65.1 436.0h0 M35.2 424.8h0 M43.0 448.1h0 M90.9 408.1h0 M160.9 350.8h0 M37.9 419.2h0 M118.5 422.3h0 M70.8 396.5h0 M56.7 389.6h0 M71.4 406.7h0 M74.1 370.9h0 M126.9 349.1h0 M151.4 396.4h0 M63.2 352.5h0 M106.4 397.3h0 M138.8 382.3h0 M91.5 442.1h0 M70.2 452.3h0 M165.5 453.4h0 M173.3 368.9h0 M153.4 409.8h0 M59.4 454.2h0 M127.7 432.6h0 M113.9 348.4h0 M160.9 359.4h0 M67.9 410.2h0 M57.9 392.5h0 M137.9 350.3h0 M129.7 351.2h0 M101.2 414.1h0 M133.8 344.2h0 M57.4 449.9h0 M88.2 388.2h0 M85.7 419.5h0 M142.0 414.2h0 M90.0 404.9h0 M107.4 360.9h0 M174.2 450.4h0 M147.7 453.6h0 M99.7 435.9h0 M65.1 424.8h0 M138.1 447.4h0 M156.3 440.6h0 M69.2 430.0h0 M101.2 375.2h0 M84.7 431.3h0 M157.8 436.6h0 M131.1 358.8h0 M52.0 404.7h0 M60.7 378.0h0 M43.8 357.0h0 M138.4 365.0h0 M158.6 377.1h0 M158.7 374.1h0 M69.2 384.7h0 M29.9 389.4h0 M86.5 340.7h0 M160.7 382.5h0 M28.1 449.9h0 M63.2 368.4h0 M31.7 350.7h0 M137.3 406.3h0 M105.6 367.6h0 M72.2 451.1h0 M85.3 453.3h0 M164.6 353.6h0 M158.6 341.6h0 M137.5 432.5h0 M135.1 402.6h0 M153.2 357.0h0 M111.1 369.9h0 M89.5 361.3h0 M137.1 405.3h0 M148.0 411.6h0 M120.3 445.5h0 M153.1 404.5h0 M78.2 446.2h0 M85.2 351.0h0 M79.3 420.6h0 M171.4 413.6h0 M130.0 447.3h0 M147.8 390.6h0 M99.1 426.8h0 M76.9 351.9h0 M123.4 432.5h0 M66.2 418.0h0 M165.5 353.9h0 M48.9 396.0h0 M79.5 448.7h0 M181.5 390.6h0 M150.1 412.0h0 M54.7 451.2h0 M54.9 348.0h0 M97.7 341.3h0 M102.0 386.7h0 M175.0 386.9h0 M158.9 429.1h0 M118.3 366.6h0 M74.9 395.9h0 M88.8 413.6h0 M105.8 376.4h0 M121.4 454.1h0 M59.2 377.9h0 M29.9 350.0h0 M36.5 388.0h0 M156.8 419.6h0 M176.8 435.7h0 M118.2 406.1h0 M29.9 383.4h0 M68.3 410.8h0 M38.1 401.7h0 M85.8 395.9h0 M90.3 351.0h0 M140.7 431.5h0 M120.1 352.6h0 M120.3 439.6h0 M179.9 426.7h0 M35.0 440.5h0 M130.4 371.1h0 M169.7 434.4h0 M165.9 367.7h0 M116.9 382.9h0 M73.6 427.0h0 M122.9 377.5h0 M111.6 446.2h0 M115.3 444.5h0 M115.2 453.6h0 M32.5 392.2h0 M113.0 423.0h0 M177.2 411.1h0 M101.6 412.3h0 M110.1 420.5h0 M173.8 340.8h0 M77.3 440.2h0 M37.2 430.3h0 M32.8 413.9h0 M151.2 366.7h0 M86.7 365.3h0 M136.5 400.2h0 M121.3 376.7h0 M118.4 449.2h0 M148.0 448.9h0 M66.1 398.7h0 M87.4 379.1h0 M151.7 359.4h0 M114.0 428.4h0 M172.1 341.3h0 M69.7 396.0h0 M172.2 358.0h0 M157.5 385.0h0 M112.4 446.2h0 M37.9 377.2h0 M52.0 354.6h0 M74.8 420.0h0 M117.4 353.2h0 M151.4 397.7h0 M50.0 433.8h0 M154.4 364.2h0 M172.7 432.6h0 M63.3 339.3h0 M161.6 434.4h0 M43.0 427.6h0 M147.1 412.3h0 M156.2 452.7h0 M78.5 435.4h0 M169.8 375.4h0 M133.3 418.1h0 M158.7 404.6h0 M70.4 368.2h0 M111.6 354.8h0 M160.4 441.7h0 M65.3 419.6h0 M131.7 353.3h0 M147.9 427.6h0 M75.2 350.5h0 M71.4 428.2h0 M99.9 433.2h0 M52.6 351.5h0 M81.7 440.6h0 M52.9 347.7h0 M143.9 349.7h0 M130.8 348.8h0 M66.0 415.7h0 M162.5 386.4h0 M97.2 342.8h0 M80.5 367.1h0 M149.5 421.6h0 M148.8 400.5h0 M135.7 353.9h0 M87.3 373.0h0 M71.5 424.4h0 M61.0 376.7h0 M71.5 438.8h0 M126.3 394.6h0 M86.5 445.5h0 M172.7 391.0h0 M115.3 438.6h0 M67.5 369.0h0 M43.9 397.1h0 M146.3 357.2h0 M94.6 453.4h0 M102.1 383.3h0 M157.3 442.1h0 M85.9 353.4h0 M126.0 424.6h0 M170.2 415.3h0 M75.4 398.6h0 M72.3 390.6h0 M100.1 444.4h0 M167.5 446.0h0 M101.6 450.4h0 M49.4 445.4h0 M126.6 439.8h0 M91.7 453.4h0 M31.9 437.0h0 M154.2 382.3h0 M155.6 363.8h0 M143.9 393.2h0 M91.3 361.9h0 M151.2 423.5h0 M41.7 452.0h0 M62.1 382.5h0 M91.9 405.7h0 M165.1 448.2h0 M125.5 381.4h0 M44.5 347.1h0 M107.9 406.4h0 M96.9 452.5h0 M91.7 379.7h0 M92.4 359.0h0 M172.6 407.3h0 M111.6 388.3h0 M66.5 375.6h0 M104.0 390.7h0 M178.8 404.1h0 M59.9 345.4h0 M52.5 379.1h0 M148.5 441.7h0 M64.4 429.2h0 M96.0 401.2h0 M110.1 344.1h0 M38.2 416.2h0 M134.1 383.1h0 M169.5 433.7h0 M74.5 346.9h0 M113.2 414.6h0 M62.6 344.3h0 M103.0 343.1h0 M141.5 411.3h0 M71.0 390.6h0 M63.9 360.6h0 M55.9 433.2h0 M97.8 421.7h0 M81.5 432.2h0 M119.8 414.6h0 M88.5 404.0h0 M57.4 451.5h0 M131.5 400.6h0 M126.4 350.7h0 M79.5 365.8h0 M157.8 340.7h0 M96.5 439.3h0 M148.5 422.1h0 M74.4 366.0h0 M136.5 373.6h0 M139.4 379.6h0 M145.1 405.3h0 M153.6 452.8h0 M86.3 452.9h0 M29.5 440.4h0 M32.6 402.1h0 M87.8 428.0h0 M76.5 363.2h0 M148.7 402.7h0 M144.4 395.6h0 M33.6 428.1h0 M61.6 393.6h0 M28.1 369.1h0 M130.5 427.3h0 M126.0 390.3h0 M140.8 416.3h0 M59.7 400.9h0 M120.1 423.2h0 M58.5 375.0h0 M80.8 350.3h0 M81.7 423.3h0 M117.0 359.1h0 M140.7 352.7h0 M143.7 356.2h0 M42.9 368.2h0 M107.3 370.3h0 M164.1 447.4h0 M71.6 425.7h0 M135.1 403.9h0 M67.3 448.7h0 M175.3 340.7h0 M78.8 376.2h0 M58.6 388.8h0 M166.3 342.0h0 M156.7 374.8h0 M30.1 442.9h0 M69.9 363.7h0 M46.0 381.5h0 M46.4 359.9h0 M66.5 405.9h0 M96.7 374.4h0 M109.0 428.5h0 M139.5 378.8h0 M169.4 430.4h0 M114.5 394.0h0 M78.8 354.7h0 M164.4 409.3h0 M43.2 445.9h0 M164.6 343.1h0 M135.9 366.7h0 M110.5 435.4h0 M82.0 396.7h0 M130.5 361.4h0 M124.5 388.2h0 M179.3 360.8h0 M137.5 343.9h0 M70.2 352.8h0 M50.9 400.1h0 M54.9 430.8h0 M42.8 411.0h0 M160.6 353.8h0 M61.5 427.4h0 M100.4 446.7h0 M80.0 385.1h0 M175.5 378.8h0 M176.8 441.9h0 M58.8 402.1h0 M172.9 352.7h0 M158.7 428.5h0 M143.4 408.5h0 M43.4 449.7h0 M43.8 429.5h0 M139.4 375.8h0 M133.4 386.5h0 M143.6 344.2h0 M171.7 383.5h0 M151.7 393.6h0 M153.1 373.9h0 M111.9 342.1h0 M103.3 348.3h0 M160.3 417.3h0 M93.5 451.5h0 M173.8 449.5h0 M40.7 420.4h0 M140.0 409.1h0 M30.4 445.7h0 M95.5 407.8h0 M153.5 370.9h0 M32.5 445.7h0 M69.7 343.9h0 M49.0 453.9h0 M141.9 363.4h0 M50.6 442.7h0 M130.4 406.4h0 M48.2 386.9h0 M173.8 339.6h0 M92.5 345.8h0 M181.7 351.2h0 M174.9 436.2h0 M140.7 344.1h0 M135.1 396.0h0 M103.7 355.9h0 M106.9 431.7h0 M48.2 440.2h0 M92.7 369.9h0 M64.8 392.2h0 M127.7 404.9h0 M165.1 398.2h0 M106.9 453.2h0 M61.1 341.1h0 M78.6 375.3h0 M47.1 387.4h0 M33.3 445.4h0 M102.6 440.5h0 M135.4 423.4h0 M144.8 374.0h0 M140.3 363.0h0 M113.4 407.8h0 M147.4 358.5h0 M81.0 434.2h0 M151.9 452.0h0 M46.2 363.4h0 M44.4 422.6h0 M142.8 413.9h0 M148.0 398.7h0 M114.6 445.4h0 M127.8 414.8h0 M118.7 396.1h0 M144.6 405.2h0 M47.9 388.3h0 M92.9 389.0h0 M114.4 380.9h0 M88.2 388.4h0 M85.2 451.3h0 M41.9 341.2h0 M139.1 384.8h0 M97.1 407.4h0 M84.5 366.8h0 M30.4 439.9h0 M172.6 372.2h0 M99.6 376.5h0 M37.0 442.1h0 M156.8 367.0h0 M67.2 419.7h0 M150.7 393.4h0 M87.7 366.1h0 M150.9 438.8h0 M160.1 352.4h0 M119.4 452.8h0 M138.1 392.1h0 M50.3 346.2h0 M140.7 347.1h0 M152.6 415.9h0 M100.9 442.0h0 M171.6 410.3h0 M43.4 407.1h0 M92.8 368.0h0 M171.0 423.4h0 M46.7 365.6h0 M80.8 405.3h0 M78.0 389.9h0 M153.3 360.2h0 M138.9 377.3h0 M173.5 448.9h0 M78.4 409.1h0 M45.1 386.5h0 M124.0 412.8h0 M80.8 343.1h0 M47.1 403.8h0 M54.4 374.5h0 M123.2 443.1h0 M107.4 368.6h0 M118.2 371.0h0 M148.5 357.2h0 M68.3 389.8h0 M167.9 358.3h0 M57.6 354.4h0 M60.9 377.5h0 M88.8 426.8h0 M90.2 394.0h0 M89.1 428.5h0 M167.1 388.3h0 M169.9 368.1h0 M178.6 399.8h0 M133.0 383.2h0 M69.8 354.8h0 M164.3 380.7h0 M135.6 392.3h0 M109.1 363.1h0 M55.3 378.0h0 M133.0 401.8h0 M28.4 421.2h0 M94.7 347.1h0 M68.0 363.6h0 M154.7 402.6h0 M78.3 367.9h0 M72.8 371.5h0 M81.3 430.4h0 M149.4 419.7h0 M164.3 414.6h0 M45.5 344.3h0 M53.3 369.0h0 M109.4 434.0h0 M118.2 388.7h0 M65.3 452.4h0 M144.0 378.5h0 M35.1 452.4h0 M67.4 436.9h0 M46.1 414.5h0 M82.9 441.7h0 M73.8 350.8h0 M58.6 432.1h0 M178.7 413.3h0 M133.0 371.7h0 M70.0 349.2h0 M179.7 344.2h0 M122.3 379.5h0 M56.8 389.5h0 M171.3 367.8h0 M53.3 411.8h0 M129.2 398.1h0 M55.7 440.0h0 M45.1 359.3h0 M65.2 398.4h0 M101.4 403.0h0 M140.0 442.3h0 M100.1 344.0h0 M156.0 341.3h0 M77.0 355.7h0 M120.7 429.4h0 M47.8 373.1h0 M159.1 418.7h0 M44.7 418.3h0 M150.3 386.3h0 M51.9 415.2h0 M77.2 354.6h0 M53.4 385.6h0 M47.5 383.6h0 M112.9 402.9h0 M90.2 431.5h0 M41.5 377.2h0 M171.7 438.9h0 M169.8 427.4h0 M110.5 430.0h0 M116.2 352.8h0 M67.3 350.4h0 M162.8 376.3h0 M90.8 401.3h0 M43.5 420.6h0 M150.5 431.0h0 M163.7 375.8h0 M50.4 427.0h0 M134.8 382.0h0 M80.9 356.9h0 M156.1 392.3h0 M153.1 378.4h0 M77.5 398.4h0 M142.8 441.0h0 M82.4 419.2h0 M90.2 438.5h0 M145.1 403.2h0 M83.8 370.8h0 M164.3 431.5h0 M75.0 349.0h0 M58.0 450.4h0 M34.0 432.6h0 M109.5 403.1h0 M111.1 386.5h0 M113.8 349.6h0 M169.7 351.1h0 M49.4 416.7h0 M126.7 432.2h0 M134.7 446.5h0 M36.0 340.4h0 M64.5 429.0h0 M51.5 400.5h0 M146.6 357.2h0 M109.2 443.1h0 M143.1 385.1h0 M101.8 371.2h0 M175.9 429.4h0 M132.8 374.3h0 M140.7 395.3h0 M150.9 381.2h0 M163.8 418.1h0 M97.4 404.1h0 M152.0 400.2h0 M175.9 340.0h0 M166.2 421.5h0 M103.4 437.2h0 M50.9 378.1h0 M137.9 434.1h0 M85.4 453.8h0 M127.9 344.4h0 M47.0 348.0h0 M115.8 376.3h0 M68.2 390.8h0 M40.0 444.0h0 M157.1 403.6h0 M96.4 374.8h0 M120.8 379.2h0 M178.2 449.4h0 M139.9 434.4h0 M39.6 353.5h0 M81.2 353.7h0 M93.1 452.9h0 M156.5 449.7h0 M62.1 364.8h0 M31.6 370.8h0 M36.7 400.1h0 M74.3 416.9h0 M114.4 408.1h0 M74.2 423.9h0 M134.1 421.6h0 M100.6 392.7h0 M72.0 343.8h0 M99.8 410.2h0 M56.7 438.4h0 M163.4 437.6h0 M153.7 395.5h0 M55.1 370.5h0 M141.6 452.7h0 M45.1 339.9h0 M82.4 379.5h0 M120.0 352.2h0 M158.0 378.2h0 M167.9 377.2h0 M75.0 359.5h0 M176.7 407.2h0 M155.1 346.5h0 M111.6 423.7h0 M179.5 447.2h0 M44.0 382.2h0 M181.8 400.9h0 M175.4 368.4h0 M31.9 448.3h0 M68.6 403.8h0 M83.5 405.8h0 M171.8 448.4h0 M163.1 368.8h0 M154.4 341.3h0 M92.1 448.1h0 M67.2 381.5h0 M117.6 366.5h0 M137.1 414.4h0 M42.6 445.3h0 M39.0 419.5h0 M81.7 355.8h0 M40.0 454.2h0 M151.2 392.1h0 M150.4 451.0h0 M170.7 400.6h0 M70.3 399.0h0 M179.1 423.4h0 M131.1 436.4h0 M91.0 403.6h0 M158.7 362.2h0 M160.3 342.0h0 M110.7 405.5h0 M50.5 445.5h0 M95.7 360.5h0 M91.4 407.4h0 M94.1 339.5h0 M42.2 421.4h0 M48.3 368.7h0 M152.4 438.5h0 M163.8 359.3h0 M28.8 426.2h0 M120.2 381.2h0 M30.9 389.0h0 M64.5 407.0h0 M179.0 363.3h0 M39.6 419.3h0 M44.6 364.9h0 M95.6 452.9h0 M77.9 375.6h0 M101.2 357.9h0 M90.0 419.9h0 M77.9 431.0h0 M56.4 350.9h0 M124.6 391.4h0 M169.4 351.3h0 M142.9 416.4h0 M85.0 354.0h0 M122.2 426.6h0 M100.8 393.7h0 M133.6 409.5h0 M93.2 360.7h0 M99.4 402.6h0 M166.1 453.9h0 M113.7 377.1h0 M62.3 411.9h0 M141.7 367.8h0 M134.3 454.4h0 M88.3 447.4h0 M95.2 414.4h0 M161.5 362.6h0 M81.2 452.7h0 M38.0 374.5h0 M101.4 425.1h0 M125.1 446.4h0 M131.1 339.4h0 M39.0 343.4h0 M94.5 342.3h0 M109.0 412.1h0 M59.2 437.9h0 M91.7 449.9h0 M83.1 410.7h0 M111.4 369.5h0 M148.1 339.7h0 M66.4 376.2h0 M163.9 396.9h0 M33.6 373.7h0 M121.9 432.5h0 M44.8 429.1h0 M88.1 399.6h0 M92.9 389.7h0 M180.5 445.2h0 M169.4 424.0h0 M135.8 355.5h0 M33.4 435.0h0 M131.6 411.9h0 M76.2 370.0h0 M169.8 400.5h0 M31.0 378.5h0 M81.7 347.0h0 M178.6 443.3h0 M153.5 339.7h0 M92.3 352.1h0 M139.8 432.5h0 M149.6 430.5h0 M46.6 340.7h0 " stroke="#2f2d29" stroke-width="0.7" stroke-linecap="round" opacity="0.32"/>
<path d="M42.3 436.3h0 M155.7 398.7h0 M64.1 438.0h0 M46.5 376.7h0 M28.3 452.5h0 M91.9 428.1h0 M151.4 406.2h0 M180.0 428.5h0 M170.8 450.3h0 M40.6 425.7h0 M62.8 376.6h0 M80.6 453.2h0 M37.3 389.3h0 M47.7 454.2h0 M104.4 420.1h0 M108.1 427.7h0 M79.8 386.9h0 M142.6 420.2h0 M164.7 374.9h0 M158.6 424.2h0 M116.3 386.3h0 M115.3 348.1h0 M43.0 375.1h0 M47.0 344.8h0 M138.4 423.5h0 M122.8 362.9h0 M139.2 434.4h0 M123.4 365.4h0 M115.0 384.7h0 M69.4 356.3h0 M161.2 412.1h0 M171.6 359.0h0 M68.7 397.9h0 M37.1 374.0h0 M111.2 394.7h0 M168.1 405.8h0 M126.2 406.7h0 M148.9 381.4h0 M28.1 452.3h0 M150.0 353.8h0 M45.2 364.8h0 M129.3 354.3h0 M31.1 396.2h0 M28.9 369.1h0 M86.9 362.9h0 M28.4 369.2h0 M65.5 376.6h0 M91.8 380.7h0 M77.9 341.4h0 M156.9 424.3h0 M103.9 339.5h0 M63.9 443.0h0 M98.4 362.9h0 M154.3 442.0h0 M46.8 397.0h0 M114.4 352.7h0 M77.2 410.5h0 M131.7 411.7h0 M123.5 382.8h0 M38.6 341.1h0 M157.0 438.9h0 M167.4 348.0h0 M146.5 359.0h0 M81.3 362.3h0 M160.4 433.6h0 M156.2 383.2h0 M172.2 369.2h0 M116.4 416.8h0 M64.0 383.2h0 M43.4 431.1h0 M56.4 354.9h0 M70.8 413.0h0 M126.1 399.7h0 M159.4 426.0h0 M60.3 400.8h0 M54.1 367.1h0 M50.6 348.1h0 M81.9 441.4h0 M129.0 349.3h0 M61.7 407.4h0 M109.6 342.3h0 M42.5 404.5h0 M120.6 348.5h0 M147.0 366.9h0 M118.7 400.3h0 M80.4 448.3h0 M88.9 388.0h0 M111.2 436.0h0 M180.1 427.9h0 M111.0 421.9h0 M126.3 449.8h0 M177.5 426.8h0 M61.3 404.7h0 M95.7 365.9h0 M148.3 364.7h0 M137.3 395.6h0 M93.7 420.7h0 M139.6 453.3h0 M181.8 431.4h0 M68.6 416.4h0 M104.3 447.6h0 M96.8 380.4h0 M32.0 393.4h0 M110.0 374.7h0 M44.2 395.0h0 M38.9 359.0h0 M96.4 379.3h0 M105.0 400.3h0 M87.8 354.6h0 M30.8 403.7h0 M177.4 371.6h0 M82.2 376.0h0 M142.3 396.1h0 M150.6 339.8h0 M48.4 363.0h0 M84.8 385.3h0 M87.3 450.5h0 M95.6 405.6h0 M176.4 413.2h0 M119.6 434.7h0 M79.5 343.3h0 M175.5 400.8h0 M117.6 346.9h0 M142.7 382.3h0 M127.0 371.9h0 M169.4 381.7h0 M70.4 442.3h0 M62.3 370.4h0 M103.0 452.3h0 M45.8 363.5h0 M150.6 347.9h0 M91.8 429.5h0 M137.8 430.6h0 M46.1 441.8h0 M83.0 433.1h0 M100.6 442.0h0 M101.6 368.9h0 M51.2 396.4h0 M35.7 358.1h0 M162.7 405.4h0 M160.9 356.6h0 M102.0 393.2h0 M44.6 369.6h0 M170.0 422.6h0 M106.4 409.5h0 M160.6 449.2h0 M119.6 345.0h0 M162.3 358.2h0 M65.0 355.0h0 M106.9 406.4h0 M98.9 393.4h0 M49.7 422.0h0 M110.8 374.8h0 M156.4 447.5h0 M170.0 452.8h0 M38.6 384.0h0 M97.3 368.8h0 M142.5 443.5h0 M49.3 397.6h0 M177.0 441.7h0 M97.4 351.3h0 M98.3 398.9h0 M149.0 360.7h0 M71.0 452.7h0 M29.8 409.6h0 M42.6 425.7h0 M93.2 445.9h0 M62.4 440.4h0 M63.0 344.7h0 M41.3 348.0h0 M87.9 451.3h0 M82.6 421.8h0 M33.3 398.7h0 M111.1 350.5h0 M117.3 390.6h0 M78.4 434.9h0 M134.5 353.1h0 M44.3 345.2h0 M68.6 412.6h0 M177.1 450.9h0 M161.1 353.5h0 M150.0 427.1h0 M100.8 454.0h0 M120.2 352.8h0 M61.2 354.2h0 M122.0 411.2h0 M160.1 340.4h0 M29.5 451.4h0 M68.4 369.7h0 M161.5 352.0h0 M150.1 442.6h0 M114.6 409.4h0 M28.9 409.1h0 M122.5 428.1h0 M107.7 352.3h0 M62.3 414.5h0 M40.2 351.5h0 M66.6 431.0h0 M112.2 380.3h0 M176.4 406.2h0 M64.7 404.4h0 M159.7 381.7h0 M94.9 405.8h0 M180.0 412.8h0 M55.9 406.3h0 M77.5 393.8h0 M137.8 341.5h0 M106.2 375.4h0 M120.3 433.8h0 M100.0 411.8h0 M72.5 368.7h0 M106.5 400.6h0 M62.4 427.4h0 M104.9 380.2h0 M67.1 435.7h0 M166.9 447.4h0 M66.2 347.4h0 M125.3 342.1h0 M159.9 417.5h0 M79.9 390.1h0 M133.2 357.7h0 M84.2 429.9h0 M132.8 406.7h0 M43.9 364.2h0 M67.5 342.8h0 M126.6 405.2h0 M170.3 403.1h0 M169.4 393.3h0 M107.7 371.6h0 M99.5 447.2h0 M103.1 339.4h0 M82.5 362.0h0 M124.0 397.9h0 M101.3 446.1h0 M145.4 349.3h0 M32.7 420.0h0 M119.9 414.4h0 M105.1 343.3h0 M97.6 435.5h0 M120.7 344.3h0 M47.2 443.5h0 M111.9 358.2h0 M136.8 445.8h0 M161.2 413.6h0 M152.3 349.3h0 M99.4 432.6h0 M80.6 355.8h0 M161.3 420.4h0 M29.2 346.5h0 M113.8 449.2h0 M123.1 440.2h0 M44.2 405.6h0 M56.0 377.5h0 M51.0 392.7h0 M35.1 414.9h0 M127.5 443.5h0 M146.3 347.9h0 M161.8 401.8h0 M172.2 395.9h0 M40.5 420.4h0 " stroke="#2f2d29" stroke-width="1.0" stroke-linecap="round" opacity="0.45"/>
<path d="M54.7 452.7h0 M111.0 443.2h0 M103.9 376.8h0 M130.0 421.0h0 M98.9 371.0h0 M92.7 421.6h0 M63.2 357.4h0 M102.5 415.1h0 M38.3 370.5h0 M177.6 370.0h0 M146.9 374.4h0 M41.2 395.3h0 M161.9 428.8h0 M35.4 420.3h0 M123.6 394.8h0 M130.4 399.4h0 M56.2 419.4h0 M47.9 374.9h0 M159.1 404.7h0 M106.7 421.1h0 M103.8 383.5h0 M113.0 341.8h0 M82.1 343.7h0 M181.3 443.9h0 M128.7 357.4h0 M159.7 371.8h0 M151.9 414.3h0 M121.2 424.7h0 M69.2 435.4h0 M111.6 426.5h0 M157.3 368.5h0 M91.2 380.9h0 M39.9 440.2h0 M133.6 395.7h0 M112.0 440.6h0 M38.8 380.5h0 M133.7 400.8h0 M104.6 369.0h0 M62.3 416.5h0 M80.5 447.3h0 M166.9 451.1h0 M70.6 398.5h0 M44.1 380.6h0 M39.5 397.0h0 M175.4 427.1h0 " stroke="#2f2d29" stroke-width="1.4" stroke-linecap="round" opacity="0.5"/>
<path d="M45.6,382.5 C45.3,383.6 45.0,385.2 44.3,385.8 C43.6,386.3 42.3,385.8 41.4,385.8 C40.4,385.7 39.3,385.9 38.6,385.3 C37.8,384.7 37.1,383.2 36.9,382.1 C36.8,381.0 37.4,379.8 37.8,378.6 C38.1,377.5 38.2,375.9 38.9,375.2 C39.6,374.5 40.9,374.4 41.8,374.5 C42.7,374.7 43.7,375.3 44.4,376.1 C45.0,376.8 45.7,377.9 45.9,379.0 C46.1,380.1 45.9,381.3 45.6,382.5 Z" fill="#34322d" fill-opacity="0.5" stroke="#1c1b18" stroke-opacity="1" stroke-width="1.35"/>
<path d="M43.2,382.8 C43.0,383.2 41.9,382.9 41.4,382.7 C41.0,382.4 40.8,381.9 40.5,381.3 C40.3,380.8 39.6,379.9 39.7,379.4 C39.8,378.8 40.7,378.1 41.2,378.0 C41.8,377.8 42.6,378.0 43.0,378.4 C43.3,378.8 43.1,379.7 43.1,380.5 C43.2,381.2 43.5,382.5 43.2,382.8 Z" fill="#151412" fill-opacity="0.7"/>
<path d="M54.2,390.3 C54.0,391.1 52.8,391.9 52.0,392.4 C51.2,392.9 50.3,393.4 49.3,393.5 C48.2,393.7 46.4,393.9 45.7,393.5 C44.9,393.0 45.0,391.7 44.8,390.9 C44.5,390.0 43.9,389.0 44.3,388.4 C44.7,387.8 46.1,387.6 47.1,387.3 C48.0,386.9 49.0,386.4 50.0,386.4 C51.0,386.5 52.3,387.1 52.9,387.7 C53.6,388.4 54.3,389.5 54.2,390.3 Z" fill="#1e1d1a" fill-opacity="0.9" stroke="#1e1d1a" stroke-opacity="0.5" stroke-width="0.9"/>
<path d="M50.2,392.2 C49.5,392.5 48.4,392.6 47.6,392.4 C46.8,392.3 45.8,391.7 45.5,391.2 C45.2,390.6 45.5,389.7 46.0,389.2 C46.4,388.7 47.3,388.4 48.1,388.3 C48.8,388.2 49.9,388.2 50.5,388.6 C51.1,388.9 51.5,389.8 51.4,390.4 C51.4,391.0 50.8,391.8 50.2,392.2 Z" fill="#141311" fill-opacity="0.6"/>
<path d="M51.4,386 Q56,380.5 63.6,379.2" stroke="#4a4843" stroke-opacity="0.45" stroke-width="4.2" stroke-linecap="round" fill="none" filter="url(#bl2)"/>
<path d="M49.2,392 L49.6,397.8" stroke="#1c1b18" stroke-width="1.4" stroke-linecap="round"/>
<path d="M90.6,374.4 C90.2,375.0 89.1,375.3 88.3,375.5 C87.5,375.8 86.6,375.9 85.8,375.7 C85.1,375.4 84.4,374.8 83.8,374.2 C83.3,373.5 82.6,372.6 82.6,371.8 C82.5,371.0 83.0,369.8 83.5,369.2 C84.1,368.6 85.0,368.3 85.9,368.0 C86.7,367.7 87.8,367.1 88.5,367.4 C89.3,367.7 89.8,368.8 90.2,369.6 C90.6,370.3 90.9,371.0 90.9,371.8 C91.0,372.6 91.0,373.7 90.6,374.4 Z" fill="#34322d" fill-opacity="0.62" stroke="#1c1b18" stroke-opacity="1" stroke-width="1.35"/>
<path d="M87.8,372.6 C87.5,372.9 86.9,373.0 86.4,372.9 C86.0,372.8 85.1,372.5 84.9,372.1 C84.7,371.7 85.0,370.9 85.3,370.4 C85.6,370.0 86.1,369.5 86.6,369.4 C87.0,369.4 87.7,369.7 88.0,370.0 C88.4,370.3 88.6,371.0 88.6,371.4 C88.6,371.8 88.2,372.4 87.8,372.6 Z" fill="#151412" fill-opacity="0.7"/>
<path d="M82.2,355.7 C81.8,356.0 81.2,356.3 80.7,356.3 C80.2,356.3 79.5,356.0 79.2,355.6 C78.9,355.2 78.8,354.6 78.8,354.1 C78.8,353.6 78.9,353.1 79.2,352.7 C79.4,352.3 79.8,351.8 80.3,351.6 C80.7,351.4 81.6,351.3 82.0,351.5 C82.5,351.7 82.9,352.4 83.0,352.9 C83.2,353.4 83.0,354.0 82.9,354.4 C82.7,354.9 82.5,355.4 82.2,355.7 Z" fill="#1e1d1a" fill-opacity="0.9" stroke="#1e1d1a" stroke-opacity="0.5" stroke-width="0.9"/>
<path d="M82.0,354.3 C81.7,354.6 81.3,355.0 81.0,354.9 C80.8,354.9 80.5,354.3 80.4,354.0 C80.2,353.7 80.2,353.3 80.3,353.0 C80.4,352.8 80.7,352.4 81.0,352.3 C81.4,352.2 82.0,352.2 82.2,352.4 C82.5,352.6 82.7,353.2 82.6,353.5 C82.6,353.8 82.2,354.1 82.0,354.3 Z" fill="#141311" fill-opacity="0.6"/>
<path d="M133.4,375.3 C133.0,376.2 131.9,377.2 130.8,377.6 C129.7,378.1 128.1,378.1 126.7,378.1 C125.4,378.0 123.4,378.0 122.5,377.4 C121.6,376.7 121.4,375.3 121.3,374.3 C121.1,373.3 121.3,372.3 121.7,371.4 C122.2,370.5 123.0,369.4 124.0,368.9 C125.1,368.4 126.7,368.4 128.1,368.5 C129.4,368.6 131.2,368.8 132.1,369.4 C133.0,370.1 133.1,371.4 133.3,372.4 C133.6,373.3 133.8,374.4 133.4,375.3 Z" fill="#34322d" fill-opacity="0.5" stroke="#1c1b18" stroke-opacity="1" stroke-width="1.35"/>
<path d="M129.1,374.6 C128.5,374.9 127.6,375.2 126.9,375.1 C126.3,375.0 125.6,374.4 125.3,373.9 C125.0,373.4 124.8,372.6 125.1,372.2 C125.4,371.7 126.4,371.5 127.1,371.3 C127.9,371.2 129.1,371.1 129.6,371.4 C130.1,371.7 130.4,372.7 130.3,373.2 C130.2,373.7 129.7,374.3 129.1,374.6 Z" fill="#151412" fill-opacity="0.7"/>
<path d="M147.3,383.3 C146.8,383.9 145.9,384.5 145.2,384.7 C144.4,385.0 143.4,384.9 142.6,384.6 C141.8,384.3 140.9,383.7 140.5,383.0 C140.0,382.3 139.8,381.2 139.9,380.4 C140.0,379.5 140.5,378.6 141.1,378.0 C141.6,377.4 142.5,377.1 143.3,377.0 C144.1,376.8 145.0,376.8 145.7,377.1 C146.4,377.4 147.1,378.0 147.5,378.7 C147.9,379.3 148.2,380.2 148.1,381.0 C148.1,381.8 147.7,382.7 147.3,383.3 Z" fill="#34322d" fill-opacity="0.5" stroke="#1c1b18" stroke-opacity="1" stroke-width="1.35"/>
<path d="M145.9,381.6 C145.7,382.0 144.8,382.2 144.3,382.3 C143.8,382.4 143.3,382.4 143.0,382.2 C142.7,381.9 142.4,381.4 142.4,381.0 C142.4,380.7 142.6,380.3 142.8,379.9 C143.1,379.6 143.6,378.9 144.0,379.0 C144.5,379.0 145.1,379.5 145.4,379.9 C145.7,380.4 146.1,381.2 145.9,381.6 Z" fill="#151412" fill-opacity="0.7"/>
<path d="M160.4,376.8 C160.1,377.8 159.2,378.9 158.3,379.5 C157.4,380.1 156.1,380.4 155.0,380.4 C153.9,380.5 152.6,380.3 151.7,379.8 C150.8,379.3 149.8,378.3 149.4,377.4 C149.1,376.5 149.1,375.2 149.4,374.3 C149.8,373.4 150.7,372.6 151.5,372.0 C152.3,371.4 153.3,370.8 154.4,370.6 C155.4,370.5 157.0,370.4 157.9,370.9 C158.8,371.4 159.3,372.7 159.7,373.7 C160.1,374.7 160.6,375.9 160.4,376.8 Z" fill="#34322d" fill-opacity="0.5" stroke="#1c1b18" stroke-opacity="1" stroke-width="1.35"/>
<path d="M156.9,376.8 C156.5,377.1 155.3,377.1 154.7,376.9 C154.0,376.8 153.4,376.5 153.1,376.1 C152.7,375.6 152.5,374.8 152.7,374.3 C152.8,373.9 153.7,373.5 154.2,373.3 C154.7,373.2 155.5,373.3 155.9,373.5 C156.3,373.8 156.5,374.3 156.6,374.8 C156.8,375.3 157.2,376.4 156.9,376.8 Z" fill="#151412" fill-opacity="0.7"/>
<path d="M154.3,390.4 C153.7,391.0 153.0,391.7 152.2,391.9 C151.3,392.1 150.2,392.0 149.3,391.8 C148.5,391.5 147.7,390.9 147.2,390.2 C146.7,389.6 146.4,388.7 146.4,388.0 C146.5,387.2 146.9,386.3 147.5,385.8 C148.1,385.4 149.2,385.2 150.0,385.1 C150.9,385.0 151.6,385.0 152.4,385.2 C153.2,385.3 154.4,385.6 154.9,386.1 C155.4,386.7 155.6,387.7 155.5,388.4 C155.4,389.1 154.8,389.8 154.3,390.4 Z" fill="#34322d" fill-opacity="0.62" stroke="#1c1b18" stroke-opacity="1" stroke-width="1.35"/>
<path d="M152.7,388.9 C152.4,389.2 151.9,389.4 151.5,389.5 C151.0,389.6 150.3,389.7 150.0,389.5 C149.7,389.4 149.6,388.7 149.6,388.4 C149.7,388.0 149.9,387.8 150.3,387.5 C150.6,387.2 151.2,386.6 151.6,386.6 C152.0,386.6 152.6,387.3 152.8,387.7 C153.0,388.1 152.9,388.6 152.7,388.9 Z" fill="#151412" fill-opacity="0.7"/>
<path d="M138.8,391.7 C138.4,392.0 137.8,392.5 137.3,392.5 C136.8,392.5 136.3,392.0 135.8,391.7 C135.4,391.3 134.6,390.9 134.5,390.4 C134.5,389.9 135.1,389.3 135.4,388.8 C135.7,388.3 135.9,387.6 136.4,387.4 C136.9,387.2 137.7,387.3 138.2,387.5 C138.7,387.7 139.1,388.3 139.3,388.7 C139.5,389.2 139.5,389.8 139.4,390.3 C139.3,390.8 139.1,391.3 138.8,391.7 Z" fill="#1e1d1a" fill-opacity="0.9" stroke="#1e1d1a" stroke-opacity="0.5" stroke-width="0.9"/>
<path d="M138.1,390.8 C137.9,391.0 137.4,391.1 137.1,391.1 C136.8,391.0 136.4,390.8 136.2,390.5 C136.0,390.3 135.7,389.6 135.8,389.4 C135.9,389.1 136.5,388.9 136.9,388.8 C137.3,388.7 137.9,388.5 138.1,388.7 C138.3,388.9 138.3,389.5 138.3,389.8 C138.3,390.2 138.3,390.6 138.1,390.8 Z" fill="#141311" fill-opacity="0.6"/>
<path d="M170.2,377.6 C170.2,378.0 169.9,378.4 169.6,378.6 C169.3,378.8 168.8,378.8 168.4,378.9 C168.1,378.9 167.6,378.9 167.3,378.8 C166.9,378.7 166.4,378.3 166.3,378.0 C166.2,377.7 166.5,377.2 166.7,376.9 C166.9,376.5 167.2,376.2 167.5,376.0 C167.9,375.9 168.4,375.9 168.7,376.0 C169.1,376.1 169.5,376.3 169.8,376.6 C170.0,376.8 170.3,377.3 170.2,377.6 Z" fill="#1e1d1a" fill-opacity="0.9" stroke="#1e1d1a" stroke-opacity="0.5" stroke-width="0.9"/>
<path d="M168.6,378.3 C168.5,378.5 168.2,378.7 167.9,378.7 C167.7,378.7 167.5,378.6 167.2,378.4 C167.0,378.2 166.6,378.0 166.6,377.7 C166.6,377.5 167.0,377.1 167.2,377.0 C167.5,376.9 167.9,377.0 168.2,377.1 C168.4,377.2 168.8,377.4 168.8,377.6 C168.9,377.8 168.8,378.1 168.6,378.3 Z" fill="#141311" fill-opacity="0.6"/>
<path d="M97.9,409.0 C97.4,409.7 96.6,410.2 95.9,410.6 C95.1,411.0 94.0,411.6 93.2,411.4 C92.4,411.2 91.7,410.2 91.1,409.5 C90.5,408.8 89.8,408.0 89.8,407.1 C89.7,406.3 90.3,405.4 90.8,404.7 C91.3,404.0 92.0,403.4 92.8,403.0 C93.5,402.7 94.4,402.6 95.3,402.7 C96.1,402.8 97.2,403.2 97.8,403.8 C98.4,404.4 98.9,405.6 98.9,406.5 C98.9,407.3 98.4,408.3 97.9,409.0 Z" fill="#34322d" fill-opacity="0.62" stroke="#1c1b18" stroke-opacity="1" stroke-width="1.35"/>
<path d="M96.0,407.7 C95.8,408.2 95.7,409.3 95.3,409.4 C94.8,409.5 94.1,408.8 93.6,408.4 C93.2,407.9 92.5,407.2 92.6,406.8 C92.7,406.4 93.6,406.2 94.1,405.9 C94.6,405.5 95.1,404.7 95.6,404.8 C96.0,404.9 96.5,405.8 96.6,406.3 C96.7,406.8 96.3,407.1 96.0,407.7 Z" fill="#151412" fill-opacity="0.7"/>
<path d="M98.9,426.0 C98.6,426.7 98.0,427.2 97.3,427.7 C96.7,428.2 95.9,428.9 95.0,428.9 C94.2,429.0 93.2,428.6 92.4,428.2 C91.7,427.8 90.6,427.4 90.3,426.7 C90.0,426.1 90.3,425.2 90.5,424.5 C90.7,423.7 90.9,422.8 91.5,422.3 C92.1,421.8 93.2,421.5 94.2,421.4 C95.1,421.4 96.2,421.5 97.0,421.9 C97.8,422.2 98.8,422.9 99.1,423.6 C99.4,424.3 99.2,425.3 98.9,426.0 Z" fill="#34322d" fill-opacity="0.62" stroke="#1c1b18" stroke-opacity="1" stroke-width="1.35"/>
<path d="M96.5,426.2 C96.3,426.6 95.5,427.1 95.0,427.2 C94.4,427.3 93.5,427.2 93.1,426.9 C92.6,426.6 92.3,425.9 92.4,425.5 C92.4,425.1 92.9,424.8 93.3,424.4 C93.7,424.1 94.2,423.5 94.8,423.5 C95.3,423.5 96.2,424.0 96.5,424.5 C96.8,424.9 96.8,425.7 96.5,426.2 Z" fill="#151412" fill-opacity="0.7"/>
<ellipse cx="84.6" cy="433.4" rx="4" ry="4" fill="#5e5c57" fill-opacity="0.45" filter="url(#bl2)"/>
<path d="M67.8,440.6 C67.1,441.2 66.1,441.9 65.3,441.9 C64.4,441.9 63.3,441.4 62.5,440.9 C61.8,440.3 61.0,439.4 60.7,438.6 C60.4,437.7 60.4,436.4 60.8,435.6 C61.1,434.7 61.9,434.0 62.7,433.5 C63.5,433.0 64.4,432.7 65.3,432.7 C66.2,432.7 67.4,432.8 68.1,433.3 C68.9,433.8 69.5,434.8 69.7,435.7 C70.0,436.6 69.9,437.7 69.6,438.5 C69.3,439.4 68.6,440.1 67.8,440.6 Z" fill="#34322d" fill-opacity="0.5" stroke="#1c1b18" stroke-opacity="1" stroke-width="1.35"/>
<path d="M67.6,436.6 C67.6,436.9 67.0,437.3 66.6,437.7 C66.2,438.0 65.6,438.8 65.2,438.8 C64.9,438.7 64.7,437.7 64.5,437.1 C64.2,436.6 63.5,435.9 63.7,435.5 C63.8,435.1 64.9,435.0 65.4,435.0 C65.9,435.0 66.3,435.1 66.7,435.4 C67.0,435.7 67.6,436.2 67.6,436.6 Z" fill="#151412" fill-opacity="0.7"/>
<path d="M99.4,441.1 C98.7,441.8 97.5,442.2 96.5,442.4 C95.5,442.6 94.3,442.6 93.4,442.2 C92.5,441.8 91.7,440.9 91.2,440.0 C90.6,439.2 90.1,437.9 90.2,436.9 C90.3,435.9 91.2,434.9 91.9,434.2 C92.7,433.5 93.7,432.8 94.7,432.6 C95.6,432.5 96.8,432.7 97.7,433.1 C98.6,433.5 99.4,434.4 99.9,435.2 C100.4,436.1 100.8,437.3 100.7,438.2 C100.7,439.2 100.1,440.4 99.4,441.1 Z" fill="#34322d" fill-opacity="0.62" stroke="#1c1b18" stroke-opacity="1" stroke-width="1.35"/>
<path d="M96.6,439.8 C96.1,440.1 95.1,440.1 94.6,439.9 C94.1,439.7 93.5,439.1 93.4,438.6 C93.2,438.1 93.5,437.5 93.7,437.1 C94.0,436.7 94.4,436.4 94.8,436.3 C95.3,436.1 96.0,435.9 96.5,436.2 C97.0,436.5 97.7,437.3 97.7,437.9 C97.7,438.5 97.1,439.4 96.6,439.8 Z" fill="#151412" fill-opacity="0.7"/>
<path d="M129.6,440.3 C128.9,440.9 128.0,441.7 127.0,441.8 C126.0,442.0 124.7,441.7 123.8,441.2 C123.0,440.7 122.4,439.7 122.0,438.8 C121.6,437.9 121.1,436.8 121.4,436.0 C121.7,435.1 122.8,434.4 123.6,433.9 C124.4,433.4 125.3,432.9 126.2,432.8 C127.2,432.7 128.4,432.8 129.2,433.3 C130.1,433.7 131.1,434.5 131.4,435.3 C131.8,436.1 131.7,437.3 131.4,438.1 C131.1,439.0 130.4,439.7 129.6,440.3 Z" fill="#34322d" fill-opacity="0.62" stroke="#1c1b18" stroke-opacity="1" stroke-width="1.35"/>
<path d="M128.2,438.2 C128.0,438.6 127.4,438.9 126.8,439.1 C126.3,439.2 125.6,439.3 125.2,439.1 C124.7,438.8 124.0,438.1 124.0,437.7 C124.0,437.2 124.6,436.6 125.1,436.2 C125.5,435.9 126.2,435.4 126.7,435.5 C127.3,435.6 127.9,436.2 128.2,436.6 C128.4,437.1 128.4,437.8 128.2,438.2 Z" fill="#151412" fill-opacity="0.7"/>
<path d="M114.8,341.5 C114.8,341.8 114.2,342.2 113.9,342.4 C113.6,342.7 113.3,342.9 112.8,343.0 C112.4,343.1 111.6,343.2 111.3,343.0 C111.0,342.8 110.9,342.3 110.8,341.9 C110.7,341.6 110.8,341.3 110.9,341.1 C111.1,340.8 111.3,340.5 111.6,340.3 C111.9,340.2 112.4,340.2 112.8,340.2 C113.3,340.2 113.9,340.2 114.2,340.4 C114.6,340.6 114.9,341.2 114.8,341.5 Z" fill="#1e1d1a" fill-opacity="0.9" stroke="#1e1d1a" stroke-opacity="0.5" stroke-width="0.9"/>
<path d="M113.6,341.3 C113.5,341.5 113.1,341.6 112.9,341.7 C112.6,341.7 112.3,341.8 112.0,341.7 C111.8,341.6 111.3,341.4 111.2,341.2 C111.2,341.0 111.5,340.7 111.7,340.5 C111.9,340.4 112.3,340.3 112.6,340.3 C112.9,340.3 113.3,340.4 113.5,340.5 C113.6,340.7 113.7,341.1 113.6,341.3 Z" fill="#141311" fill-opacity="0.6"/>
</g>
<rect x="164.8" y="448.8" width="14.7" height="3" fill="#000"/>
</g>
<rect x="186" y="339.2" width="154" height="115.30000000000001" fill="rgb(147, 145, 138)"/>
<g clip-path="url(#c3)">
<rect x="186" y="339.2" width="154" height="115.30000000000001" filter="url(#mot)"/>
<rect x="186" y="339.2" width="154" height="115.30000000000001" fill="url(#vg3)"/>
<g filter="url(#bl)">
<path d="M203.4 399.2h0 M285.8 349.4h0 M270.5 374.9h0 M300.7 410.2h0 M326.1 409.2h0 M214.2 360.6h0 M294.4 432.6h0 M195.6 387.3h0 M229.6 393.1h0 M320.4 403.7h0 M300.6 427.4h0 M228.8 410.5h0 M243.8 393.9h0 M267.7 416.1h0 M211.9 435.9h0 M210.8 375.3h0 M316.8 452.8h0 M242.5 449.0h0 M191.8 449.3h0 M217.0 343.2h0 M303.3 357.8h0 M301.8 340.0h0 M205.1 380.4h0 M199.0 393.5h0 M239.3 424.4h0 M261.9 450.5h0 M315.9 358.9h0 M327.3 442.4h0 M273.0 399.9h0 M212.2 376.2h0 M219.9 361.8h0 M280.6 376.6h0 M304.2 405.3h0 M313.4 349.3h0 M316.5 397.7h0 M283.3 366.7h0 M293.2 386.0h0 M297.1 406.6h0 M207.6 373.9h0 M301.8 341.0h0 M283.3 402.1h0 M296.1 377.1h0 M259.5 394.2h0 M301.4 347.6h0 M264.6 369.1h0 M276.7 369.1h0 M217.8 365.9h0 M323.8 381.1h0 M321.5 424.0h0 M227.4 403.1h0 M187.3 446.8h0 M283.2 352.2h0 M265.9 396.3h0 M289.3 372.6h0 M326.1 411.0h0 M197.2 433.6h0 M322.2 374.3h0 M295.6 438.4h0 M321.8 347.3h0 M314.9 367.8h0 M309.5 418.4h0 M257.7 443.2h0 M309.7 453.8h0 M333.6 405.3h0 M299.2 416.5h0 M247.6 396.7h0 M264.2 364.1h0 M226.2 436.6h0 M316.3 419.6h0 M292.0 398.0h0 M274.3 416.0h0 M187.1 390.4h0 M335.3 362.9h0 M258.0 348.1h0 M225.3 434.2h0 M191.0 431.3h0 M308.9 439.3h0 M225.6 446.6h0 M243.2 391.1h0 M332.4 402.0h0 M290.9 351.9h0 M186.7 369.7h0 M202.3 434.2h0 M224.5 449.6h0 M290.5 361.3h0 M295.5 375.9h0 M267.2 348.0h0 M314.3 430.0h0 M275.5 418.8h0 M238.3 353.9h0 M236.1 424.5h0 M272.7 354.7h0 M223.1 394.0h0 M188.2 344.4h0 M255.3 354.6h0 M322.9 354.0h0 M301.4 430.8h0 M234.6 401.7h0 M338.8 410.4h0 M245.6 451.7h0 M226.0 449.4h0 M233.7 387.8h0 M234.6 414.4h0 M321.9 418.7h0 M214.0 453.4h0 M297.3 397.6h0 M316.8 351.6h0 M278.1 429.8h0 M305.6 416.8h0 M195.6 394.4h0 M227.4 409.3h0 M247.1 391.8h0 M268.8 407.0h0 M323.1 371.7h0 M228.3 360.5h0 M203.3 437.1h0 M327.6 353.7h0 M241.5 443.5h0 M319.1 452.0h0 M338.8 374.2h0 M196.2 368.0h0 M263.4 341.0h0 M225.1 393.7h0 M291.0 357.0h0 M205.0 377.3h0 M200.0 353.3h0 M201.9 431.4h0 M321.4 344.1h0 M309.9 436.5h0 M286.2 373.8h0 M312.3 348.6h0 M193.2 449.3h0 M220.1 444.7h0 M302.1 344.6h0 M200.5 413.7h0 M208.5 416.0h0 M289.6 365.9h0 M259.4 363.6h0 M320.2 411.9h0 M292.4 410.9h0 M195.4 441.4h0 M306.0 398.6h0 M276.9 396.0h0 M302.3 400.7h0 M228.8 398.7h0 M218.9 339.8h0 M266.2 439.6h0 M296.8 363.3h0 M264.3 406.5h0 M275.2 392.2h0 M264.4 418.6h0 M321.7 398.7h0 M306.8 417.6h0 M204.4 369.1h0 M234.3 380.0h0 M261.6 373.2h0 M339.7 423.8h0 M243.2 419.9h0 M328.4 357.6h0 M282.9 449.7h0 M243.8 440.4h0 M309.8 376.1h0 M208.2 432.2h0 M250.0 379.6h0 M257.4 423.2h0 M323.7 444.9h0 M304.0 359.5h0 M242.9 340.0h0 M216.9 378.4h0 M213.3 394.1h0 M206.3 414.5h0 M249.3 367.7h0 M291.6 377.0h0 M189.7 435.9h0 M302.1 440.5h0 M231.3 369.6h0 M293.2 356.1h0 M334.9 414.5h0 M270.5 345.1h0 M229.6 388.0h0 M337.0 355.9h0 M277.1 348.2h0 M335.6 425.4h0 M311.1 425.6h0 M213.7 367.0h0 M192.0 402.8h0 M198.5 360.9h0 M212.8 445.3h0 M307.6 372.1h0 M335.5 357.6h0 M207.6 383.2h0 M310.1 350.6h0 M307.5 401.9h0 M309.0 378.0h0 M192.5 350.6h0 M297.4 397.7h0 M303.6 362.1h0 M229.0 363.6h0 M317.0 420.3h0 M209.8 422.9h0 M192.0 393.0h0 M225.6 427.4h0 M296.7 418.0h0 M216.4 344.1h0 M284.6 419.3h0 M187.4 435.9h0 M324.2 380.9h0 M265.9 414.3h0 M328.6 414.1h0 M265.4 427.8h0 M261.4 343.0h0 M270.3 386.9h0 M237.6 384.6h0 M220.1 375.2h0 M301.0 441.3h0 M256.3 436.7h0 M205.3 398.7h0 M300.6 429.3h0 M245.6 358.6h0 M334.0 409.5h0 M286.6 379.1h0 M203.4 405.0h0 M248.3 441.8h0 M288.1 426.3h0 M273.7 426.0h0 M206.6 454.1h0 M275.4 408.1h0 M215.2 349.7h0 M294.6 422.9h0 M288.7 368.6h0 M261.0 427.8h0 M284.7 444.1h0 M199.7 428.6h0 M188.0 411.3h0 M268.3 347.7h0 M250.5 416.2h0 M319.6 348.1h0 M264.5 430.9h0 M204.0 442.1h0 M330.6 378.7h0 M218.2 356.0h0 M219.8 387.5h0 M294.9 447.2h0 M272.0 449.1h0 M251.7 415.0h0 M186.0 387.5h0 M189.5 354.4h0 M310.5 352.4h0 M232.2 399.8h0 M266.9 342.7h0 M203.0 417.2h0 M248.3 349.8h0 M259.7 382.1h0 M339.9 344.7h0 M213.8 347.8h0 M270.9 449.9h0 M305.8 352.1h0 M269.1 380.5h0 M336.5 420.7h0 M279.0 368.8h0 M253.2 399.9h0 M244.3 404.3h0 M199.9 387.7h0 M338.0 385.2h0 M263.9 426.1h0 M311.1 424.1h0 M244.7 421.3h0 M216.7 410.3h0 M188.5 361.4h0 M213.0 379.8h0 M299.7 341.6h0 M321.0 349.8h0 M332.4 448.6h0 M280.6 436.1h0 M330.9 390.8h0 M317.8 343.2h0 M306.3 413.9h0 M305.6 356.4h0 M198.8 399.5h0 M279.4 418.5h0 M213.6 404.7h0 M335.2 368.4h0 M312.2 450.0h0 M289.6 390.0h0 M250.4 393.1h0 M205.2 347.8h0 M229.1 359.2h0 M324.5 381.0h0 M320.8 404.1h0 M324.3 442.6h0 M295.5 390.9h0 M223.5 404.3h0 M234.0 434.7h0 M192.6 412.6h0 M238.2 387.6h0 M269.5 452.5h0 M339.0 380.4h0 M333.4 449.4h0 M267.0 404.2h0 M216.4 430.2h0 M260.8 427.1h0 M328.0 411.1h0 M293.0 402.5h0 M206.2 392.1h0 M195.6 360.0h0 M337.0 383.0h0 M206.8 389.4h0 M195.2 409.2h0 M221.2 364.3h0 M284.1 445.9h0 M188.1 421.6h0 M275.6 395.3h0 M250.9 340.5h0 M240.2 399.5h0 M237.7 453.8h0 M238.4 436.7h0 M310.8 430.8h0 M261.8 396.8h0 M315.9 352.8h0 M220.6 340.7h0 M261.7 391.5h0 M333.2 446.5h0 M248.5 396.4h0 M202.2 426.0h0 M265.9 358.5h0 M321.0 344.1h0 M215.7 394.2h0 M339.5 355.2h0 M227.0 430.4h0 M237.8 446.3h0 M188.9 366.6h0 M233.7 437.0h0 M201.7 416.9h0 M322.6 451.5h0 M310.1 345.0h0 M260.4 364.4h0 M204.8 367.2h0 M299.2 405.5h0 M206.1 372.1h0 M196.2 446.0h0 M302.1 393.7h0 M334.0 452.0h0 M217.8 368.5h0 M215.5 411.6h0 M277.6 399.0h0 M305.2 400.3h0 M234.5 416.3h0 M332.2 345.0h0 M260.9 355.3h0 M301.1 389.0h0 M315.2 416.4h0 M333.7 406.0h0 M277.7 451.5h0 M309.7 378.2h0 M201.9 445.5h0 M195.8 445.7h0 M329.7 415.5h0 M332.1 409.2h0 M300.9 407.9h0 M220.3 348.3h0 M300.4 391.2h0 M205.2 403.7h0 M226.8 369.4h0 M320.9 410.5h0 M301.2 433.4h0 M253.3 391.2h0 M252.5 380.4h0 M305.9 441.2h0 M231.9 421.2h0 M219.2 340.1h0 M291.5 428.7h0 M236.8 453.9h0 M296.7 376.2h0 M303.1 436.5h0 M207.6 444.3h0 M252.9 370.8h0 M244.2 400.1h0 M267.2 373.1h0 M195.3 411.9h0 M296.5 419.4h0 M247.1 438.1h0 M188.7 354.1h0 M188.8 403.1h0 M266.6 365.4h0 M266.9 339.6h0 M191.6 450.2h0 M322.4 347.2h0 M287.0 397.8h0 M268.9 436.1h0 M284.8 447.7h0 M291.0 444.7h0 M203.9 434.0h0 M235.2 445.4h0 M307.9 450.6h0 M302.3 384.3h0 M266.7 429.4h0 M194.9 401.4h0 M273.5 422.0h0 M238.7 409.1h0 M299.4 383.2h0 M291.0 443.4h0 M242.9 399.9h0 M260.5 435.9h0 M227.6 372.2h0 M246.4 414.4h0 M209.8 452.0h0 M263.5 423.4h0 M249.5 342.3h0 M245.4 405.1h0 M199.9 452.2h0 M276.4 392.1h0 M190.4 367.6h0 M237.9 414.1h0 M212.8 395.1h0 M227.7 404.3h0 M292.0 398.9h0 M301.5 411.0h0 M198.9 414.9h0 M260.5 426.7h0 M330.3 379.7h0 M316.9 365.7h0 M286.1 339.8h0 M313.0 390.6h0 M256.0 396.6h0 M243.3 365.7h0 M292.6 411.5h0 M194.4 370.4h0 M329.5 371.8h0 M231.2 405.9h0 M243.4 448.5h0 M337.3 354.1h0 M220.6 358.9h0 M254.5 371.9h0 M289.9 441.3h0 M197.0 342.2h0 M203.3 374.9h0 M206.6 389.0h0 M242.0 423.1h0 M334.9 451.9h0 M250.8 413.4h0 M206.4 409.6h0 M322.1 441.2h0 M207.6 358.3h0 M324.9 419.6h0 M303.4 347.0h0 M281.2 341.8h0 M299.5 430.8h0 M235.6 339.5h0 M298.9 454.3h0 M281.6 381.4h0 M236.7 432.8h0 M335.2 381.3h0 M220.0 454.1h0 M251.8 390.2h0 M233.9 422.8h0 M337.3 393.3h0 M317.7 385.4h0 M251.0 431.7h0 M335.5 426.3h0 M294.5 434.6h0 M327.6 449.1h0 M267.9 383.9h0 M187.1 399.9h0 M240.7 339.2h0 M338.9 374.7h0 M329.5 341.0h0 M241.4 429.6h0 M289.7 416.8h0 M261.2 349.7h0 M314.0 427.0h0 M259.6 404.0h0 M309.8 396.2h0 M259.2 395.1h0 M299.4 424.0h0 M237.6 428.7h0 M243.8 416.9h0 M244.1 442.9h0 M330.8 428.9h0 M244.7 379.7h0 M252.7 408.9h0 M191.2 402.1h0 M329.0 346.6h0 M323.3 405.2h0 M339.6 422.6h0 M296.7 426.0h0 M250.9 352.8h0 M317.6 440.3h0 M297.1 364.3h0 M262.9 398.5h0 M242.1 395.6h0 M256.5 452.3h0 M282.5 451.8h0 M325.9 359.7h0 M304.8 383.1h0 M278.0 404.1h0 M299.9 373.9h0 M290.4 381.8h0 M306.5 396.1h0 M285.1 454.1h0 M229.2 339.8h0 M323.9 399.7h0 M285.5 435.0h0 M323.1 383.7h0 M338.0 384.2h0 M297.9 435.1h0 M241.9 387.6h0 M242.4 378.6h0 M249.4 437.0h0 M195.3 453.3h0 M307.8 403.7h0 M284.9 373.7h0 M303.8 440.0h0 M244.8 396.8h0 M219.7 368.1h0 M317.2 413.2h0 M254.9 413.0h0 M214.5 339.6h0 M241.0 405.5h0 M214.4 401.7h0 M236.1 369.5h0 M300.0 380.8h0 M300.3 425.6h0 M243.8 342.9h0 M315.8 402.8h0 M275.3 418.2h0 M270.5 443.8h0 M187.3 450.9h0 M280.9 386.2h0 M325.7 442.4h0 M277.8 340.3h0 M282.0 386.7h0 M274.4 434.9h0 M206.3 436.6h0 M233.8 368.2h0 M191.7 351.5h0 M227.2 400.2h0 M330.7 359.0h0 M230.5 382.2h0 M284.6 380.0h0 M289.2 356.5h0 M192.7 406.0h0 M297.5 354.6h0 M193.4 416.3h0 M196.1 445.9h0 M292.4 357.7h0 M249.1 345.6h0 M199.5 379.8h0 M321.1 444.1h0 M302.0 412.7h0 M276.0 398.1h0 M287.0 396.5h0 M247.2 435.7h0 M232.4 386.0h0 M290.6 450.3h0 M239.1 389.1h0 M247.9 363.4h0 M240.6 430.2h0 M214.9 394.3h0 M229.7 405.9h0 M305.1 352.5h0 M260.9 360.8h0 M285.6 417.3h0 M220.1 365.8h0 M232.7 377.1h0 M323.5 440.0h0 M307.9 384.6h0 M256.4 362.4h0 M256.9 448.8h0 M200.1 384.7h0 M216.1 436.6h0 M232.4 395.4h0 M194.0 418.8h0 M265.2 431.5h0 M297.1 425.0h0 M226.5 368.1h0 M278.1 344.9h0 M330.3 422.3h0 M262.0 380.9h0 M197.9 403.1h0 M305.1 352.8h0 M201.3 418.2h0 M258.4 430.5h0 M249.4 452.5h0 M320.4 376.3h0 M268.6 406.9h0 M255.4 433.5h0 M294.6 433.6h0 M224.9 397.4h0 M269.7 406.5h0 M188.5 432.9h0 M255.0 357.5h0 M317.7 403.4h0 M300.0 424.5h0 M281.9 444.6h0 M194.6 377.6h0 M211.2 412.5h0 M219.8 342.5h0 M207.0 359.3h0 M269.2 391.7h0 M257.5 340.6h0 M267.3 368.4h0 M200.1 345.7h0 M209.2 385.4h0 M211.7 392.6h0 M211.2 423.9h0 M320.9 376.5h0 M197.1 450.5h0 M199.0 414.1h0 M302.5 394.9h0 M323.2 356.2h0 M297.0 443.8h0 M324.2 437.1h0 M253.2 398.2h0 M316.7 383.0h0 M225.3 342.8h0 M217.4 355.4h0 M329.1 374.8h0 M240.3 451.6h0 M292.4 389.2h0 M202.2 381.3h0 M230.8 448.6h0 M250.8 451.4h0 M227.6 344.7h0 M324.5 347.9h0 M307.4 407.8h0 M229.7 435.4h0 M252.1 452.6h0 M271.9 448.0h0 M329.3 382.6h0 M292.5 423.1h0 M286.9 341.9h0 M292.0 427.0h0 M215.8 350.2h0 M196.4 401.9h0 M202.4 437.0h0 M250.0 454.0h0 M299.0 388.6h0 M214.1 388.4h0 M279.5 438.5h0 M323.4 376.6h0 M189.6 415.8h0 M291.9 413.8h0 M309.7 432.8h0 M282.3 433.9h0 M205.3 448.3h0 M288.6 350.1h0 M211.9 413.1h0 M233.1 447.3h0 M229.0 395.2h0 M263.6 447.6h0 M232.8 442.1h0 M297.4 404.8h0 M331.7 441.1h0 M301.4 402.1h0 M192.8 364.6h0 M286.2 352.7h0 M285.1 379.2h0 M245.7 434.1h0 M315.5 425.4h0 M254.8 401.0h0 M337.8 446.0h0 M279.6 348.3h0 M324.9 344.5h0 M204.0 415.2h0 M216.2 426.1h0 M291.7 358.3h0 M325.9 454.3h0 M287.2 452.4h0 M309.4 393.8h0 M313.0 447.4h0 M293.2 348.8h0 M243.4 420.4h0 M242.3 358.4h0 M256.3 355.5h0 M259.1 350.6h0 M297.9 363.8h0 M330.1 351.6h0 M283.2 413.4h0 M216.6 411.5h0 M270.6 410.2h0 M214.5 394.2h0 M314.7 410.5h0 M223.5 377.7h0 M321.4 345.3h0 M259.6 398.4h0 M252.2 339.5h0 M202.4 436.3h0 M256.1 372.8h0 M255.5 345.2h0 M198.5 434.8h0 M303.0 361.9h0 M234.9 348.0h0 M235.0 399.3h0 M301.9 397.5h0 M316.6 454.3h0 M273.4 344.2h0 M206.7 416.7h0 M206.1 442.9h0 M194.4 345.6h0 M339.4 386.1h0 M271.5 407.9h0 M204.2 377.9h0 M242.8 424.3h0 M306.5 419.3h0 M213.8 392.4h0 M327.0 359.3h0 M239.7 410.2h0 M339.3 342.1h0 M292.4 392.4h0 M267.5 436.1h0 M200.8 408.2h0 M234.8 426.3h0 M296.0 387.1h0 M209.4 427.4h0 M293.9 404.2h0 M300.8 448.6h0 M223.7 418.7h0 M310.2 369.9h0 M325.1 375.4h0 M333.2 406.3h0 M335.8 441.2h0 M306.4 381.9h0 M256.6 406.9h0 M310.0 387.2h0 M324.4 364.2h0 M266.2 355.9h0 M212.3 372.7h0 M193.3 404.9h0 M281.5 384.8h0 M308.8 402.1h0 M291.2 349.0h0 M236.8 341.6h0 M210.6 437.2h0 M206.9 407.9h0 M244.1 416.7h0 M320.2 434.9h0 M334.6 450.6h0 M247.4 453.1h0 M303.4 371.2h0 M236.6 399.6h0 M316.2 350.6h0 M323.2 416.5h0 M277.3 386.1h0 M244.8 386.0h0 M296.2 390.2h0 M295.9 440.2h0 M199.4 341.4h0 M331.0 361.5h0 M311.4 385.9h0 M220.6 340.6h0 M252.0 408.4h0 M194.4 340.5h0 M230.3 440.8h0 M301.5 368.8h0 M248.1 387.2h0 M295.1 372.1h0 M240.7 397.3h0 M222.5 388.7h0 M301.2 397.4h0 M194.6 379.4h0 M273.8 365.9h0 M245.7 403.7h0 M242.1 360.3h0 M320.7 346.8h0 M325.6 350.2h0 M271.3 402.0h0 M249.1 411.4h0 M322.0 376.0h0 M195.3 362.2h0 M321.3 408.2h0 M302.1 384.1h0 M235.9 418.8h0 M273.5 444.5h0 M210.7 378.8h0 M292.5 443.8h0 M257.9 430.0h0 M202.9 412.9h0 M236.7 419.1h0 M231.8 360.7h0 M227.4 422.6h0 M295.7 444.4h0 M249.7 346.7h0 M310.5 368.8h0 M296.6 395.6h0 M254.4 342.7h0 M220.9 425.5h0 M256.8 440.9h0 M310.3 400.7h0 M337.4 339.5h0 M247.7 400.7h0 M194.3 439.6h0 M209.1 406.1h0 M227.7 383.2h0 M257.7 372.6h0 M212.4 416.1h0 M282.4 348.5h0 M335.9 351.5h0 M220.4 371.6h0 M242.1 395.7h0 M325.1 350.9h0 " stroke="#2f2d29" stroke-width="0.7" stroke-linecap="round" opacity="0.32"/>
<path d="M274.4 411.2h0 M225.7 380.2h0 M254.5 441.5h0 M305.6 394.5h0 M196.6 380.5h0 M311.8 389.3h0 M246.2 412.9h0 M192.2 413.9h0 M291.6 352.2h0 M250.2 437.9h0 M226.4 400.3h0 M239.2 402.9h0 M246.2 378.9h0 M328.4 419.1h0 M339.8 377.8h0 M257.8 381.3h0 M319.5 381.5h0 M290.7 359.6h0 M269.5 370.3h0 M326.7 381.5h0 M332.7 404.5h0 M238.5 402.7h0 M329.4 419.2h0 M312.9 404.5h0 M281.2 355.3h0 M314.1 413.0h0 M285.8 374.2h0 M303.5 400.0h0 M235.3 453.6h0 M304.9 417.5h0 M315.3 419.5h0 M245.2 449.4h0 M325.5 416.6h0 M253.0 396.9h0 M193.0 441.7h0 M313.9 407.8h0 M257.8 431.9h0 M189.3 385.3h0 M224.6 409.3h0 M240.5 409.2h0 M324.2 386.5h0 M203.7 340.7h0 M314.6 393.2h0 M254.0 342.7h0 M201.9 339.3h0 M323.9 344.7h0 M235.6 393.8h0 M274.3 364.8h0 M285.4 412.9h0 M337.7 350.0h0 M231.6 351.1h0 M230.6 363.8h0 M190.7 432.3h0 M228.4 425.1h0 M311.3 431.0h0 M189.8 406.8h0 M317.1 412.1h0 M279.0 388.3h0 M312.7 400.7h0 M240.2 396.4h0 M258.6 360.8h0 M289.6 435.4h0 M286.7 340.4h0 M248.4 427.6h0 M206.2 397.5h0 M291.2 400.8h0 M236.9 341.2h0 M294.4 358.4h0 M278.6 399.7h0 M297.3 352.1h0 M336.0 425.4h0 M320.4 360.5h0 M296.9 382.8h0 M293.8 419.7h0 M249.0 448.5h0 M253.5 393.0h0 M296.1 356.7h0 M324.0 377.5h0 M322.7 355.9h0 M205.1 407.3h0 M223.1 389.9h0 M216.8 422.7h0 M299.6 418.3h0 M206.7 344.6h0 M275.8 348.6h0 M296.3 402.3h0 M329.6 433.5h0 M286.9 434.6h0 M264.2 372.7h0 M195.4 420.3h0 M288.5 412.1h0 M264.8 391.7h0 M327.6 382.6h0 M207.5 448.9h0 M303.3 442.5h0 M337.8 389.5h0 M209.9 396.0h0 M261.5 383.9h0 M307.1 368.0h0 M335.4 363.7h0 M229.7 434.9h0 M222.0 422.8h0 M228.2 386.4h0 M258.3 367.6h0 M312.8 447.7h0 M328.4 357.5h0 M190.0 390.0h0 M300.0 402.3h0 M333.9 453.1h0 M291.1 369.3h0 M247.9 346.7h0 M246.7 425.8h0 M234.7 360.5h0 M269.0 442.5h0 M285.4 351.9h0 M252.5 365.6h0 M311.0 387.4h0 M254.3 440.4h0 M231.7 390.9h0 M337.0 374.5h0 M269.1 414.0h0 M237.6 411.7h0 M250.9 435.0h0 M271.7 423.0h0 M274.3 419.6h0 M246.1 356.2h0 M242.0 376.7h0 M188.2 427.9h0 M266.8 394.6h0 M294.5 346.9h0 M205.3 421.9h0 M192.3 439.4h0 M264.2 450.7h0 M318.3 386.3h0 M238.9 389.2h0 M304.5 392.4h0 M296.9 453.5h0 M301.3 398.4h0 M300.3 396.2h0 M275.5 387.7h0 M330.0 453.0h0 M273.5 403.6h0 M201.9 404.4h0 M329.1 367.1h0 M305.3 368.6h0 M295.9 371.7h0 M277.7 428.6h0 M191.0 436.1h0 M266.6 367.4h0 M233.3 403.1h0 M300.1 359.7h0 M196.8 365.9h0 M283.7 385.7h0 M303.5 423.0h0 M242.6 407.2h0 M208.5 409.5h0 M285.7 366.5h0 M288.6 355.2h0 M335.7 402.4h0 M328.0 416.3h0 M219.0 423.6h0 M280.6 382.8h0 M292.7 426.8h0 M290.7 364.4h0 M334.7 444.1h0 M252.9 446.1h0 M339.0 378.9h0 M215.4 367.3h0 M261.4 355.9h0 M222.5 423.6h0 M188.9 409.8h0 M248.8 421.1h0 M225.9 394.4h0 M218.8 341.0h0 M319.1 381.5h0 M231.5 447.0h0 M243.0 401.6h0 M207.7 386.7h0 M320.8 434.3h0 M312.0 444.7h0 M221.5 345.3h0 M206.0 414.2h0 M270.0 381.8h0 M295.7 364.6h0 M279.6 387.3h0 M207.5 428.6h0 M214.4 431.5h0 M303.2 389.6h0 M255.8 362.8h0 M207.5 419.5h0 M243.1 404.1h0 M242.7 369.9h0 M211.1 427.1h0 M252.7 356.8h0 M320.5 357.0h0 M221.3 357.3h0 M272.2 428.9h0 M190.8 445.8h0 M294.2 435.0h0 M251.0 389.6h0 M200.5 369.5h0 M320.1 372.1h0 M324.7 435.3h0 M327.8 355.4h0 M251.1 435.3h0 M233.9 367.4h0 M189.2 400.7h0 M270.7 363.6h0 M225.9 412.2h0 M212.6 429.8h0 M320.3 387.6h0 M206.1 405.0h0 M231.5 351.3h0 M295.2 403.7h0 M227.8 367.7h0 M297.5 444.9h0 M240.2 406.7h0 M220.0 392.8h0 M275.4 374.4h0 M279.2 401.7h0 M192.7 352.9h0 M249.8 356.2h0 M270.1 407.6h0 M282.3 441.3h0 M279.7 428.2h0 M203.8 439.9h0 M329.2 407.4h0 M313.5 402.6h0 M252.9 357.7h0 M260.0 421.4h0 M308.3 442.3h0 M265.8 448.2h0 M243.3 341.4h0 M251.6 401.6h0 M305.0 366.1h0 M189.9 422.5h0 M215.4 437.4h0 M273.2 354.9h0 M266.2 428.2h0 M220.5 449.4h0 M194.7 356.3h0 M277.6 417.2h0 M278.7 445.7h0 M217.0 344.5h0 M268.8 379.7h0 M247.0 384.8h0 M321.9 372.1h0 M292.6 404.6h0 M229.8 444.3h0 M225.4 373.9h0 M215.7 420.0h0 M292.7 381.3h0 M204.1 407.9h0 M238.0 402.7h0 M287.0 339.4h0 M193.0 433.6h0 M319.7 349.3h0 M220.3 388.4h0 M314.3 374.8h0 M333.3 349.7h0 " stroke="#2f2d29" stroke-width="1.0" stroke-linecap="round" opacity="0.45"/>
<path d="M325.4 345.8h0 M278.7 451.2h0 M297.1 444.5h0 M240.1 449.3h0 M325.2 370.8h0 M304.8 445.0h0 M218.9 384.3h0 M304.7 405.3h0 M327.3 389.2h0 M255.0 358.5h0 M228.3 440.1h0 M226.2 442.5h0 M309.7 405.0h0 M232.5 339.4h0 M204.2 434.7h0 M333.6 450.2h0 M229.1 447.2h0 M253.8 381.6h0 M325.9 433.7h0 M290.5 372.2h0 M202.5 360.3h0 M226.5 361.3h0 M273.9 375.5h0 M219.2 440.3h0 M242.8 339.6h0 M187.4 402.8h0 M190.6 403.5h0 M189.9 393.3h0 M281.3 401.5h0 M219.3 435.9h0 M335.8 433.0h0 M329.5 451.2h0 M242.6 401.9h0 M249.7 429.9h0 M211.9 365.3h0 M255.5 402.0h0 M338.6 377.9h0 M186.6 383.9h0 M321.0 350.2h0 M265.9 408.3h0 M315.2 376.9h0 M279.5 449.0h0 M335.7 404.3h0 M238.1 414.2h0 M298.5 417.6h0 " stroke="#2f2d29" stroke-width="1.4" stroke-linecap="round" opacity="0.5"/>
<path d="M201.2,378.4 C200.5,379.6 199.5,380.9 198.4,381.2 C197.3,381.6 195.8,381.1 194.8,380.5 C193.8,380.0 192.8,378.9 192.2,377.8 C191.7,376.7 191.5,375.2 191.5,373.8 C191.5,372.4 191.6,370.6 192.2,369.6 C192.9,368.6 194.3,368.0 195.4,367.7 C196.5,367.4 197.7,367.3 198.8,367.7 C199.8,368.2 200.8,369.2 201.5,370.4 C202.1,371.5 202.5,373.1 202.4,374.4 C202.4,375.8 201.9,377.3 201.2,378.4 Z" fill="#34322d" fill-opacity="0.5" stroke="#1c1b18" stroke-opacity="1" stroke-width="1.35"/>
<path d="M198.9,376.2 C198.6,376.8 197.7,377.3 197.0,377.4 C196.4,377.6 195.5,377.4 195.0,376.9 C194.5,376.4 193.8,375.2 193.8,374.4 C193.9,373.6 194.7,372.6 195.3,372.2 C195.9,371.7 196.9,371.5 197.4,371.8 C198.0,372.1 198.5,372.9 198.8,373.7 C199.0,374.4 199.2,375.6 198.9,376.2 Z" fill="#151412" fill-opacity="0.7"/>
<path d="M208.0,386.3 C207.8,387.1 207.1,387.8 206.3,388.3 C205.6,388.8 204.5,389.3 203.7,389.3 C202.8,389.3 201.8,388.7 201.0,388.2 C200.3,387.7 199.3,387.1 199.0,386.3 C198.7,385.6 198.8,384.3 199.4,383.7 C199.9,383.0 201.3,382.9 202.3,382.5 C203.3,382.2 204.7,381.5 205.6,381.7 C206.5,381.9 207.5,383.0 207.9,383.8 C208.3,384.6 208.3,385.6 208.0,386.3 Z" fill="#1e1d1a" fill-opacity="0.9" stroke="#1e1d1a" stroke-opacity="0.5" stroke-width="0.9"/>
<path d="M205.9,387.3 C205.5,387.6 204.3,387.4 203.6,387.4 C202.8,387.3 201.8,387.2 201.5,386.8 C201.1,386.4 201.4,385.6 201.6,385.0 C201.8,384.4 202.3,383.5 202.8,383.3 C203.4,383.2 204.6,383.6 205.2,383.9 C205.7,384.3 206.0,384.9 206.1,385.4 C206.3,386.0 206.3,387.0 205.9,387.3 Z" fill="#141311" fill-opacity="0.6"/>
<path d="M207,383 Q211,376.5 219.8,375" stroke="#4a4843" stroke-opacity="0.45" stroke-width="4.2" stroke-linecap="round" fill="none" filter="url(#bl2)"/>
<path d="M204.3,388 L204.8,392.6" stroke="#1c1b18" stroke-width="1.4" stroke-linecap="round"/>
<path d="M239.3,348.5 C239.2,349.0 238.4,349.5 238.0,349.8 C237.6,350.2 237.2,350.5 236.7,350.7 C236.2,350.8 235.3,351.1 234.9,350.9 C234.5,350.6 234.5,349.6 234.4,349.0 C234.3,348.5 234.0,348.0 234.2,347.5 C234.3,347.0 234.8,346.5 235.3,346.2 C235.7,346.0 236.4,345.7 237.0,345.8 C237.5,345.9 238.2,346.3 238.6,346.7 C239.0,347.2 239.4,348.0 239.3,348.5 Z" fill="#1e1d1a" fill-opacity="0.9" stroke="#1e1d1a" stroke-opacity="0.5" stroke-width="0.9"/>
<path d="M238.0,348.3 C238.0,348.6 237.7,348.9 237.4,349.1 C237.2,349.3 236.8,349.4 236.5,349.4 C236.2,349.3 235.7,349.1 235.5,348.7 C235.3,348.4 235.3,347.6 235.5,347.4 C235.7,347.1 236.3,347.1 236.7,347.1 C237.1,347.1 237.5,347.1 237.7,347.3 C237.9,347.5 238.1,348.0 238.0,348.3 Z" fill="#141311" fill-opacity="0.6"/>
<path d="M244.8,369.2 C244.3,369.7 243.3,369.9 242.6,369.9 C241.9,369.9 241.1,369.5 240.6,369.1 C240.0,368.7 239.5,368.1 239.3,367.5 C239.0,366.9 238.9,366.1 239.0,365.4 C239.2,364.7 239.5,363.8 240.0,363.4 C240.5,362.9 241.5,363.0 242.2,362.9 C243.0,362.9 243.8,362.9 244.4,363.2 C245.1,363.5 245.9,364.2 246.1,364.9 C246.3,365.5 245.8,366.4 245.6,367.2 C245.4,367.9 245.3,368.8 244.8,369.2 Z" fill="#34322d" fill-opacity="0.62" stroke="#1c1b18" stroke-opacity="1" stroke-width="1.35"/>
<path d="M243.6,367.2 C243.3,367.6 242.7,367.9 242.3,367.9 C241.8,367.9 241.3,367.5 241.0,367.2 C240.8,366.9 240.7,366.4 240.8,366.0 C240.8,365.6 241.0,364.9 241.3,364.7 C241.7,364.5 242.3,364.6 242.7,364.8 C243.2,364.9 243.9,365.2 244.0,365.6 C244.2,366.0 243.9,366.8 243.6,367.2 Z" fill="#151412" fill-opacity="0.7"/>
<path d="M288.5,370.4 C287.8,371.4 286.6,372.4 285.3,372.8 C284.0,373.2 282.3,373.2 280.9,373.0 C279.6,372.7 278.1,372.1 277.2,371.3 C276.2,370.5 275.4,369.2 275.2,368.2 C275.0,367.1 275.6,365.8 276.2,364.8 C276.9,363.8 278.0,362.4 279.3,362.1 C280.6,361.7 282.4,362.1 283.8,362.4 C285.2,362.8 286.6,363.2 287.6,363.9 C288.7,364.7 289.9,365.9 290.0,367.0 C290.2,368.1 289.3,369.5 288.5,370.4 Z" fill="#34322d" fill-opacity="0.5" stroke="#1c1b18" stroke-opacity="1" stroke-width="1.35"/>
<path d="M285.0,368.2 C284.8,368.8 284.4,369.5 283.8,369.7 C283.2,369.9 282.0,369.9 281.4,369.6 C280.7,369.3 280.1,368.5 280.0,368.0 C279.9,367.4 280.4,366.7 280.9,366.3 C281.5,365.9 282.3,365.4 283.0,365.4 C283.7,365.4 285.0,365.8 285.3,366.3 C285.7,366.8 285.3,367.7 285.0,368.2 Z" fill="#151412" fill-opacity="0.7"/>
<path d="M317.4,370.0 C317.3,371.4 316.6,373.1 315.6,374.0 C314.7,374.9 312.9,375.3 311.6,375.5 C310.2,375.7 308.7,375.7 307.5,375.2 C306.4,374.7 305.4,373.5 304.7,372.4 C304.0,371.3 303.3,369.9 303.3,368.6 C303.3,367.3 303.9,365.6 304.8,364.6 C305.7,363.6 307.4,363.0 308.8,362.8 C310.1,362.5 311.8,362.5 313.1,363.0 C314.4,363.5 315.7,364.6 316.4,365.8 C317.1,367.0 317.5,368.6 317.4,370.0 Z" fill="#34322d" fill-opacity="0.5" stroke="#1c1b18" stroke-opacity="1" stroke-width="1.35"/>
<path d="M312.9,370.5 C312.4,371.2 311.1,371.9 310.2,371.9 C309.3,372.0 308.3,371.4 307.8,370.8 C307.2,370.3 307.0,369.3 307.1,368.6 C307.2,368.0 307.8,367.4 308.3,366.9 C308.9,366.5 309.8,365.7 310.5,365.8 C311.3,365.9 312.4,366.7 312.8,367.5 C313.2,368.3 313.3,369.8 312.9,370.5 Z" fill="#151412" fill-opacity="0.7"/>
<path d="M302.8,377.1 C302.4,377.9 301.9,378.7 301.2,379.2 C300.5,379.7 299.5,380.2 298.6,380.2 C297.7,380.2 296.6,379.7 295.9,379.1 C295.3,378.5 294.9,377.4 294.7,376.5 C294.5,375.6 294.2,374.4 294.5,373.6 C294.9,372.8 295.9,372.1 296.7,371.7 C297.5,371.4 298.5,371.4 299.3,371.4 C300.2,371.5 301.0,371.8 301.8,372.3 C302.5,372.8 303.5,373.6 303.7,374.4 C303.9,375.2 303.2,376.3 302.8,377.1 Z" fill="#34322d" fill-opacity="0.62" stroke="#1c1b18" stroke-opacity="1" stroke-width="1.35"/>
<path d="M300.9,375.5 C300.9,375.9 300.3,376.6 300.0,376.7 C299.6,376.8 299.1,376.4 298.6,376.2 C298.1,376.0 297.0,375.8 296.9,375.4 C296.8,375.0 297.4,374.0 297.8,373.7 C298.2,373.4 298.9,373.3 299.3,373.4 C299.8,373.5 300.1,373.9 300.4,374.2 C300.6,374.6 301.0,375.1 300.9,375.5 Z" fill="#151412" fill-opacity="0.7"/>
<path d="M310.3,384.7 C309.9,385.4 308.9,385.9 308.1,386.2 C307.3,386.5 306.2,386.6 305.4,386.4 C304.5,386.3 303.5,385.7 303.0,385.1 C302.5,384.5 302.1,383.5 302.2,382.7 C302.2,382.0 302.8,381.2 303.3,380.6 C303.8,380.0 304.3,379.4 305.0,379.1 C305.8,378.8 306.8,378.6 307.6,378.8 C308.4,378.9 309.2,379.5 309.7,380.1 C310.2,380.7 310.3,381.5 310.5,382.3 C310.6,383.1 310.7,384.1 310.3,384.7 Z" fill="#34322d" fill-opacity="0.62" stroke="#1c1b18" stroke-opacity="1" stroke-width="1.35"/>
<path d="M307.2,383.8 C306.8,384.1 306.5,384.4 306.0,384.5 C305.5,384.6 304.5,384.5 304.3,384.2 C304.1,383.9 304.5,383.1 304.6,382.7 C304.8,382.2 304.8,381.6 305.1,381.4 C305.5,381.2 306.1,381.5 306.6,381.7 C307.1,381.9 308.0,382.1 308.1,382.5 C308.2,382.8 307.6,383.5 307.2,383.8 Z" fill="#151412" fill-opacity="0.7"/>
<ellipse cx="292.8" cy="383.7" rx="4" ry="3" fill="#5e5c57" fill-opacity="0.45" filter="url(#bl2)"/>
<path d="M324.9,372.6 C324.5,372.9 323.9,372.8 323.5,372.8 C323.1,372.8 322.6,372.8 322.3,372.6 C322.0,372.4 321.8,372.0 321.8,371.7 C321.7,371.3 321.7,371.0 321.9,370.6 C322.0,370.3 322.2,369.8 322.5,369.6 C322.9,369.4 323.5,369.4 324.0,369.5 C324.4,369.6 324.9,369.9 325.2,370.2 C325.4,370.6 325.5,371.1 325.5,371.5 C325.4,371.9 325.2,372.4 324.9,372.6 Z" fill="#1e1d1a" fill-opacity="0.9" stroke="#1e1d1a" stroke-opacity="0.5" stroke-width="0.9"/>
<path d="M324.0,372.1 C323.8,372.3 323.4,372.5 323.1,372.5 C322.8,372.5 322.4,372.1 322.4,371.9 C322.3,371.7 322.5,371.3 322.6,371.1 C322.7,370.9 322.9,370.7 323.2,370.7 C323.4,370.6 323.9,370.6 324.1,370.7 C324.2,370.8 324.2,371.2 324.2,371.5 C324.2,371.7 324.2,372.0 324.0,372.1 Z" fill="#141311" fill-opacity="0.6"/>
<path d="M253.9,402.9 C253.6,403.7 253.1,404.4 252.4,405.0 C251.8,405.6 251.0,406.5 250.1,406.7 C249.2,406.8 247.9,406.5 247.1,406.0 C246.3,405.4 245.6,404.4 245.3,403.5 C245.1,402.7 245.2,401.6 245.4,400.7 C245.7,399.8 246.1,398.7 246.8,398.1 C247.5,397.6 248.6,397.2 249.5,397.1 C250.4,397.1 251.5,397.6 252.2,398.1 C252.9,398.6 253.7,399.4 254.0,400.2 C254.3,401.0 254.2,402.1 253.9,402.9 Z" fill="#34322d" fill-opacity="0.62" stroke="#1c1b18" stroke-opacity="1" stroke-width="1.35"/>
<path d="M251.0,402.1 C250.8,402.6 250.4,403.3 250.0,403.4 C249.6,403.6 248.9,403.1 248.5,402.8 C248.1,402.5 247.9,402.2 247.8,401.7 C247.6,401.2 247.4,400.2 247.7,399.8 C248.0,399.4 249.0,399.2 249.6,399.3 C250.2,399.4 251.2,399.8 251.4,400.2 C251.6,400.7 251.2,401.5 251.0,402.1 Z" fill="#151412" fill-opacity="0.7"/>
<path d="M253.4,422.1 C252.7,422.7 251.9,423.2 250.9,423.3 C250.0,423.5 248.6,423.5 247.7,423.2 C246.8,422.9 245.8,422.2 245.4,421.5 C245.0,420.8 245.2,419.9 245.4,419.2 C245.6,418.4 245.9,417.6 246.6,417.1 C247.2,416.6 248.3,416.0 249.3,416.0 C250.2,415.9 251.3,416.4 252.1,416.7 C253.0,417.1 253.8,417.5 254.3,418.1 C254.8,418.7 255.4,419.6 255.3,420.3 C255.1,421.0 254.2,421.6 253.4,422.1 Z" fill="#34322d" fill-opacity="0.62" stroke="#1c1b18" stroke-opacity="1" stroke-width="1.35"/>
<path d="M252.1,420.5 C251.7,420.8 251.0,421.0 250.5,421.0 C250.0,421.0 249.6,420.7 249.2,420.5 C248.7,420.2 247.9,419.8 247.9,419.4 C247.9,419.0 248.5,418.3 249.0,418.1 C249.5,417.9 250.4,418.1 251.0,418.2 C251.6,418.4 252.4,418.7 252.6,419.1 C252.8,419.4 252.4,420.2 252.1,420.5 Z" fill="#151412" fill-opacity="0.7"/>
<ellipse cx="239.4" cy="426.4" rx="4" ry="4" fill="#5e5c57" fill-opacity="0.45" filter="url(#bl2)"/>
<path d="M224.3,435.2 C223.6,435.9 222.4,436.5 221.4,436.7 C220.4,436.8 218.9,436.7 218.1,436.2 C217.3,435.6 217.1,434.3 216.7,433.3 C216.2,432.3 215.3,431.2 215.5,430.3 C215.6,429.4 216.7,428.4 217.4,427.8 C218.2,427.1 219.2,426.3 220.2,426.2 C221.2,426.0 222.6,426.3 223.4,426.8 C224.2,427.4 224.6,428.6 225.0,429.5 C225.4,430.4 225.9,431.5 225.8,432.4 C225.7,433.4 225.0,434.5 224.3,435.2 Z" fill="#34322d" fill-opacity="0.5" stroke="#1c1b18" stroke-opacity="1" stroke-width="1.35"/>
<path d="M222.1,432.3 C222.0,432.8 221.4,433.1 220.9,433.4 C220.4,433.6 219.5,434.0 219.0,433.8 C218.5,433.5 218.0,432.5 218.0,431.9 C218.0,431.4 218.6,430.8 219.0,430.4 C219.4,429.9 220.1,429.2 220.6,429.3 C221.0,429.4 221.5,430.3 221.8,430.8 C222.0,431.3 222.3,431.9 222.1,432.3 Z" fill="#151412" fill-opacity="0.7"/>
<path d="M254.1,435.1 C253.5,435.8 252.3,436.5 251.3,436.6 C250.3,436.8 249.1,436.4 248.2,435.9 C247.3,435.5 246.1,434.7 245.7,433.8 C245.2,432.9 245.2,431.5 245.5,430.5 C245.7,429.5 246.4,428.5 247.1,427.8 C247.9,427.1 248.9,426.5 249.9,426.4 C250.9,426.2 252.1,426.4 253.0,426.9 C253.8,427.4 254.5,428.4 254.9,429.3 C255.3,430.2 255.5,431.3 255.3,432.2 C255.2,433.2 254.8,434.3 254.1,435.1 Z" fill="#34322d" fill-opacity="0.62" stroke="#1c1b18" stroke-opacity="1" stroke-width="1.35"/>
<path d="M252.3,433.7 C251.8,434.0 250.9,434.0 250.4,433.8 C249.8,433.6 249.4,433.0 249.1,432.5 C248.9,432.0 248.7,431.1 248.9,430.6 C249.2,430.1 250.0,429.7 250.6,429.5 C251.2,429.4 252.3,429.4 252.8,429.8 C253.2,430.2 253.4,431.3 253.4,431.9 C253.3,432.6 252.8,433.4 252.3,433.7 Z" fill="#151412" fill-opacity="0.7"/>
<path d="M286.8,433.3 C286.4,434.1 285.6,434.7 284.8,435.3 C284.0,435.9 283.0,436.7 282.0,436.7 C281.1,436.6 280.0,435.9 279.2,435.2 C278.5,434.6 277.8,433.6 277.7,432.7 C277.5,431.9 277.8,430.8 278.2,430.0 C278.5,429.1 279.0,428.1 279.8,427.5 C280.5,426.9 281.8,426.3 282.8,426.4 C283.7,426.5 284.7,427.4 285.5,428.1 C286.3,428.7 287.3,429.5 287.5,430.4 C287.7,431.3 287.3,432.5 286.8,433.3 Z" fill="#34322d" fill-opacity="0.62" stroke="#1c1b18" stroke-opacity="1" stroke-width="1.35"/>
<path d="M284.2,432.8 C283.8,433.2 283.4,433.9 282.9,434.0 C282.4,434.1 281.6,433.7 281.1,433.2 C280.6,432.8 280.0,431.9 280.1,431.4 C280.1,430.9 281.1,430.3 281.6,430.0 C282.2,429.8 282.8,429.9 283.4,430.1 C284.0,430.2 285.1,430.6 285.2,431.0 C285.3,431.5 284.6,432.3 284.2,432.8 Z" fill="#151412" fill-opacity="0.7"/>
</g>
<rect x="322.8" y="448.8" width="14.7" height="3" fill="#000"/>
</g>
<defs><clipPath id="c0"><rect x="28" y="220" width="154" height="114.69999999999999"/></clipPath><clipPath id="c1"><rect x="186" y="220" width="154" height="114.69999999999999"/></clipPath><clipPath id="c2"><rect x="28" y="339.2" width="154" height="115.30000000000001"/></clipPath><clipPath id="c3"><rect x="186" y="339.2" width="154" height="115.30000000000001"/></clipPath></defs>
<text x="356.53" y="211.80" font-size="21" font-family="Liberation Sans, sans-serif" fill="#000" stroke="#000" textLength="14.66" lengthAdjust="spacingAndGlyphs">C</text>
<path d="M413.6,224.2 V424.7 M409.3,424.7 H699" stroke="#333" stroke-width="1.1" fill="none"/>
<path d="M409.3,224.20 H413.6" stroke="#333" stroke-width="1.1"/>
<text x="401.6" y="228.00" text-anchor="end" font-size="11.2" font-family="Liberation Sans, sans-serif" fill="#1a1a1a" stroke="#1a1a1a">1.45</text>
<path d="M409.3,246.48 H413.6" stroke="#333" stroke-width="1.1"/>
<text x="401.6" y="250.28" text-anchor="end" font-size="11.2" font-family="Liberation Sans, sans-serif" fill="#1a1a1a" stroke="#1a1a1a">1.4</text>
<path d="M409.3,268.76 H413.6" stroke="#333" stroke-width="1.1"/>
<text x="401.6" y="272.56" text-anchor="end" font-size="11.2" font-family="Liberation Sans, sans-serif" fill="#1a1a1a" stroke="#1a1a1a">1.35</text>
<path d="M409.3,291.03 H413.6" stroke="#333" stroke-width="1.1"/>
<text x="401.6" y="294.83" text-anchor="end" font-size="11.2" font-family="Liberation Sans, sans-serif" fill="#1a1a1a" stroke="#1a1a1a">1.3</text>
<path d="M409.3,313.31 H413.6" stroke="#333" stroke-width="1.1"/>
<text x="401.6" y="317.11" text-anchor="end" font-size="11.2" font-family="Liberation Sans, sans-serif" fill="#1a1a1a" stroke="#1a1a1a">1.25</text>
<path d="M409.3,335.59 H413.6" stroke="#333" stroke-width="1.1"/>
<text x="401.6" y="339.39" text-anchor="end" font-size="11.2" font-family="Liberation Sans, sans-serif" fill="#1a1a1a" stroke="#1a1a1a">1.2</text>
<path d="M409.3,357.87 H413.6" stroke="#333" stroke-width="1.1"/>
<text x="401.6" y="361.67" text-anchor="end" font-size="11.2" font-family="Liberation Sans, sans-serif" fill="#1a1a1a" stroke="#1a1a1a">1.15</text>
<path d="M409.3,380.15 H413.6" stroke="#333" stroke-width="1.1"/>
<text x="401.6" y="383.95" text-anchor="end" font-size="11.2" font-family="Liberation Sans, sans-serif" fill="#1a1a1a" stroke="#1a1a1a">1.1</text>
<path d="M409.3,402.42 H413.6" stroke="#333" stroke-width="1.1"/>
<text x="401.6" y="406.22" text-anchor="end" font-size="11.2" font-family="Liberation Sans, sans-serif" fill="#1a1a1a" stroke="#1a1a1a">1.05</text>
<path d="M409.3,424.70 H413.6" stroke="#333" stroke-width="1.1"/>
<text x="401.6" y="428.50" text-anchor="end" font-size="11.2" font-family="Liberation Sans, sans-serif" fill="#1a1a1a" stroke="#1a1a1a">1</text>
<path d="M414.00,424.7 V428.9" stroke="#333" stroke-width="1.1"/>
<path d="M439.90,424.7 V428.9" stroke="#333" stroke-width="1.1"/>
<path d="M465.80,424.7 V428.9" stroke="#333" stroke-width="1.1"/>
<path d="M491.70,424.7 V428.9" stroke="#333" stroke-width="1.1"/>
<path d="M517.60,424.7 V428.9" stroke="#333" stroke-width="1.1"/>
<path d="M543.50,424.7 V428.9" stroke="#333" stroke-width="1.1"/>
<path d="M569.40,424.7 V428.9" stroke="#333" stroke-width="1.1"/>
<path d="M595.30,424.7 V428.9" stroke="#333" stroke-width="1.1"/>
<path d="M621.20,424.7 V428.9" stroke="#333" stroke-width="1.1"/>
<path d="M647.10,424.7 V428.9" stroke="#333" stroke-width="1.1"/>
<path d="M673.00,424.7 V428.9" stroke="#333" stroke-width="1.1"/>
<path d="M698.90,424.7 V428.9" stroke="#333" stroke-width="1.1"/>
<text x="426.95" y="445.6" text-anchor="middle" font-size="11.2" font-family="Liberation Sans, sans-serif" fill="#1a1a1a" stroke="#1a1a1a">0</text>
<text x="452.85" y="445.6" text-anchor="middle" font-size="11.2" font-family="Liberation Sans, sans-serif" fill="#1a1a1a" stroke="#1a1a1a">5</text>
<text x="478.75" y="445.6" text-anchor="middle" font-size="11.2" font-family="Liberation Sans, sans-serif" fill="#1a1a1a" stroke="#1a1a1a">10</text>
<text x="504.65" y="445.6" text-anchor="middle" font-size="11.2" font-family="Liberation Sans, sans-serif" fill="#1a1a1a" stroke="#1a1a1a">15</text>
<text x="530.55" y="445.6" text-anchor="middle" font-size="11.2" font-family="Liberation Sans, sans-serif" fill="#1a1a1a" stroke="#1a1a1a">20</text>
<text x="556.45" y="445.6" text-anchor="middle" font-size="11.2" font-family="Liberation Sans, sans-serif" fill="#1a1a1a" stroke="#1a1a1a">25</text>
<text x="582.35" y="445.6" text-anchor="middle" font-size="11.2" font-family="Liberation Sans, sans-serif" fill="#1a1a1a" stroke="#1a1a1a">30</text>
<text x="608.25" y="445.6" text-anchor="middle" font-size="11.2" font-family="Liberation Sans, sans-serif" fill="#1a1a1a" stroke="#1a1a1a">35</text>
<text x="634.15" y="445.6" text-anchor="middle" font-size="11.2" font-family="Liberation Sans, sans-serif" fill="#1a1a1a" stroke="#1a1a1a">40</text>
<text x="660.05" y="445.6" text-anchor="middle" font-size="11.2" font-family="Liberation Sans, sans-serif" fill="#1a1a1a" stroke="#1a1a1a">45</text>
<text x="685.95" y="445.6" text-anchor="middle" font-size="11.2" font-family="Liberation Sans, sans-serif" fill="#1a1a1a" stroke="#1a1a1a">50</text>
<text x="528.24" y="462.00" font-size="13" font-family="Liberation Sans, sans-serif" fill="#000" stroke="#000" textLength="62.89" lengthAdjust="spacingAndGlyphs">Time (min)</text>
<text transform="translate(370.80,371.90) rotate(-90)" x="-1.02" y="0" font-size="13" font-family="Liberation Sans, sans-serif" fill="#000" stroke="#000" textLength="97.67" lengthAdjust="spacingAndGlyphs">Normalized Area</text>
<path d="M452.85,381.3 V391.2 M449.65,381.3 H456.05 M449.65,391.2 H456.05 M478.75,339.6 V355.2 M475.55,339.6 H481.95 M475.55,355.2 H481.95 M504.65,293.5 V313.0 M501.45,293.5 H507.85 M501.45,313.0 H507.85 M530.55,269.9 V291.4 M527.35,269.9 H533.75 M527.35,291.4 H533.75 M556.45,248.3 V271.9 M553.25,248.3 H559.65 M553.25,271.9 H559.65 M582.35,236.7 V261.1 M579.15,236.7 H585.55 M579.15,261.1 H585.55 M608.25,238.5 V266.2 M605.05,238.5 H611.45 M605.05,266.2 H611.45 M634.15,234.6 V260.5 M630.95,234.6 H637.35 M630.95,260.5 H637.35 M660.05,239.7 V266.4 M656.85,239.7 H663.25 M656.85,266.4 H663.25 M685.95,235.1 V262.3 M682.75,235.1 H689.15 M682.75,262.3 H689.15 " stroke="#6e6e6e" stroke-width="1.2" fill="none"/>
<path d="M452.85,397.3 V415.8 M449.65,397.3 H456.05 M449.65,415.8 H456.05 M478.75,383.3 V402.4 M475.55,383.3 H481.95 M475.55,402.4 H481.95 M504.65,370.4 V391.4 M501.45,370.4 H507.85 M501.45,391.4 H507.85 M530.55,358.3 V382.1 M527.35,358.3 H533.75 M527.35,382.1 H533.75 M556.45,345.4 V371.9 M553.25,345.4 H559.65 M553.25,371.9 H559.65 M582.35,334.3 V362.1 M579.15,334.3 H585.55 M579.15,362.1 H585.55 M608.25,324.4 V355.0 M605.05,324.4 H611.45 M605.05,355.0 H611.45 M634.15,325.5 V357.3 M630.95,325.5 H637.35 M630.95,357.3 H637.35 M660.05,318.3 V352.2 M656.85,318.3 H663.25 M656.85,352.2 H663.25 M685.95,299.1 V334.2 M682.75,299.1 H689.15 M682.75,334.2 H689.15 " stroke="#6e6e6e" stroke-width="1.2" fill="none"/>
<polyline points="426.95,424.7 452.85,386.1 478.75,347.1 504.65,303.0 530.55,280.9 556.45,259.7 582.35,248.8 608.25,252.2 634.15,247.7 660.05,252.9 685.95,248.8" fill="none" stroke="#000" stroke-width="1.65"/>
<polyline points="426.95,424.7 452.85,406.8 478.75,392.9 504.65,380.7 530.55,370.2 556.45,358.6 582.35,347.9 608.25,339.7 634.15,341.4 660.05,335.1 685.95,316.6" fill="none" stroke="#ff0000" stroke-width="1.5"/>
<circle cx="426.95" cy="424.7" r="3.6" fill="#000"/>
<circle cx="452.85" cy="386.1" r="3.6" fill="#000"/>
<circle cx="478.75" cy="347.1" r="3.6" fill="#000"/>
<circle cx="504.65" cy="303.0" r="3.6" fill="#000"/>
<circle cx="530.55" cy="280.9" r="3.6" fill="#000"/>
<circle cx="556.45" cy="259.7" r="3.6" fill="#000"/>
<circle cx="582.35" cy="248.8" r="3.6" fill="#000"/>
<circle cx="608.25" cy="252.2" r="3.6" fill="#000"/>
<circle cx="634.15" cy="247.7" r="3.6" fill="#000"/>
<circle cx="660.05" cy="252.9" r="3.6" fill="#000"/>
<circle cx="685.95" cy="248.8" r="3.6" fill="#000"/>
<circle cx="426.95" cy="424.7" r="3.6" fill="#ff0000"/>
<circle cx="452.85" cy="406.8" r="3.6" fill="#ff0000"/>
<circle cx="478.75" cy="392.9" r="3.6" fill="#ff0000"/>
<circle cx="504.65" cy="380.7" r="3.6" fill="#ff0000"/>
<circle cx="530.55" cy="370.2" r="3.6" fill="#ff0000"/>
<circle cx="556.45" cy="358.6" r="3.6" fill="#ff0000"/>
<circle cx="582.35" cy="347.9" r="3.6" fill="#ff0000"/>
<circle cx="608.25" cy="339.7" r="3.6" fill="#ff0000"/>
<circle cx="634.15" cy="341.4" r="3.6" fill="#ff0000"/>
<circle cx="660.05" cy="335.1" r="3.6" fill="#ff0000"/>
<circle cx="685.95" cy="316.6" r="3.6" fill="#ff0000"/>
<path d="M475.8,230.4 H662.3" stroke="#404040" stroke-width="1.3"/>
<path d="M560.80,227.05 L560.80,222.15 M558.79,226.01 L562.81,223.19 M558.79,223.19 L562.81,226.01 " stroke="#000" stroke-width="0.9" stroke-linecap="round" fill="none"/><circle cx="560.8" cy="224.6" r="0.85" fill="#000"/>
<path d="M567.90,227.05 L567.90,222.15 M565.89,226.01 L569.91,223.19 M565.89,223.19 L569.91,226.01 " stroke="#000" stroke-width="0.9" stroke-linecap="round" fill="none"/><circle cx="567.9" cy="224.6" r="0.85" fill="#000"/>
<path d="M575.10,227.05 L575.10,222.15 M573.09,226.01 L577.11,223.19 M573.09,223.19 L577.11,226.01 " stroke="#000" stroke-width="0.9" stroke-linecap="round" fill="none"/><circle cx="575.1" cy="224.6" r="0.85" fill="#000"/>
<path d="M680.60,231.65 L680.60,226.55 M678.51,230.56 L682.69,227.64 M678.51,227.64 L682.69,230.56 " stroke="#000" stroke-width="0.9" stroke-linecap="round" fill="none"/><circle cx="680.6" cy="229.1" r="0.85" fill="#000"/>
<path d="M687.70,231.65 L687.70,226.55 M685.61,230.56 L689.79,227.64 M685.61,227.64 L689.79,230.56 " stroke="#000" stroke-width="0.9" stroke-linecap="round" fill="none"/><circle cx="687.7" cy="229.1" r="0.85" fill="#000"/>
<path d="M451.30,378.85 L451.30,373.95 M449.29,377.81 L453.31,374.99 M449.29,374.99 L453.31,377.81 " stroke="#000" stroke-width="0.9" stroke-linecap="round" fill="none"/><circle cx="451.3" cy="376.4" r="0.85" fill="#000"/>
</svg></body></html>
